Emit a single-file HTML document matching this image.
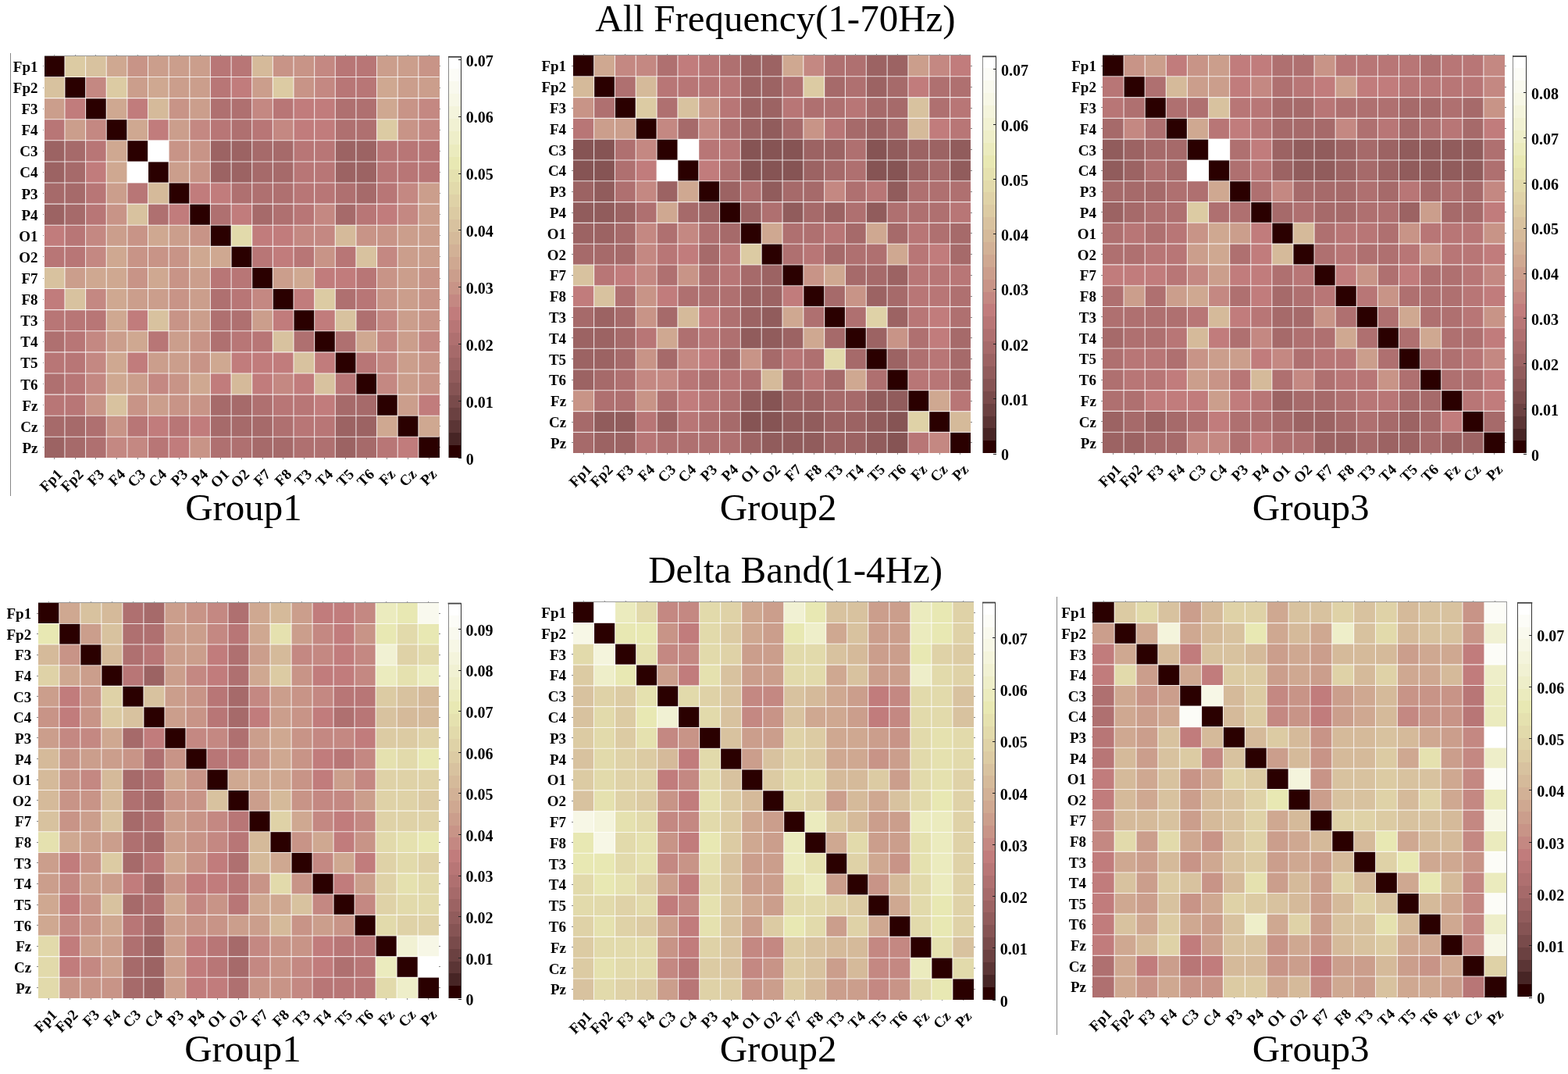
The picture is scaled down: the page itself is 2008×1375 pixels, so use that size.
<!DOCTYPE html>
<html><head><meta charset="utf-8"><title>Heatmaps</title>
<style>
html,body{margin:0;padding:0;background:#fff;}
body{width:2008px;height:1375px;position:relative;overflow:hidden;font-family:"Liberation Serif","Times New Roman",serif;color:#000;}
svg{position:absolute;left:0;top:0;}
.g{stroke:#fff;stroke-opacity:0.8;stroke-width:1.1;shape-rendering:auto;}
.t{stroke:#888;stroke-width:1;}
.b{stroke:#999;stroke-width:1;}
.cbl{stroke:#888;stroke-width:1;}
.cbr{stroke:#333;stroke-width:1;}
.cbt{stroke:#444;stroke-width:1.8;shape-rendering:auto;}
.ct{stroke:#222;stroke-width:1;}
.tl,.rl,.cl{position:absolute;font-weight:bold;font-size:19px;line-height:22px;white-space:nowrap;}
.tl{font-size:20px;}
.cl{transform-origin:100% 50%;transform:rotate(-45deg);}
.gl{position:absolute;width:300px;text-align:center;font-size:49px;line-height:52px;white-space:nowrap;}
.ti{position:absolute;width:1000px;text-align:center;font-size:49px;line-height:52px;white-space:nowrap;}
.vl{position:absolute;width:1px;background:#888;}
</style></head><body>
<svg width="2008" height="1375" viewBox="0 0 2008 1375" shape-rendering="crispEdges">
<rect x="56.8" y="72.1" width="26.19" height="26.46" fill="#2a0000"/>
<rect x="82.94" y="72.1" width="26.69" height="26.46" fill="#dccba3"/>
<rect x="109.58" y="72.1" width="26.69" height="26.46" fill="#d8c29f"/>
<rect x="136.23" y="72.1" width="26.69" height="26.46" fill="#cfa891"/>
<rect x="162.87" y="72.1" width="26.69" height="26.46" fill="#c89487"/>
<rect x="189.51" y="72.1" width="26.69" height="26.46" fill="#cb9e8c"/>
<rect x="216.15" y="72.1" width="26.69" height="26.46" fill="#cb9e8c"/>
<rect x="242.79" y="72.1" width="26.69" height="26.46" fill="#cb9e8c"/>
<rect x="269.44" y="72.1" width="26.69" height="26.46" fill="#b87676"/>
<rect x="296.08" y="72.1" width="26.69" height="26.46" fill="#b87676"/>
<rect x="322.72" y="72.1" width="26.69" height="26.46" fill="#d5ba9a"/>
<rect x="349.36" y="72.1" width="26.69" height="26.46" fill="#c89487"/>
<rect x="376.01" y="72.1" width="26.69" height="26.46" fill="#c89487"/>
<rect x="402.65" y="72.1" width="26.69" height="26.46" fill="#c48882"/>
<rect x="429.29" y="72.1" width="26.69" height="26.46" fill="#b87676"/>
<rect x="455.93" y="72.1" width="26.69" height="26.46" fill="#b87676"/>
<rect x="482.57" y="72.1" width="26.69" height="26.46" fill="#cb9e8c"/>
<rect x="509.22" y="72.1" width="26.69" height="26.46" fill="#cb9e8c"/>
<rect x="535.86" y="72.1" width="26.69" height="26.46" fill="#c89487"/>
<rect x="56.8" y="98.51" width="26.19" height="27.16" fill="#d8c29f"/>
<rect x="82.94" y="98.51" width="26.69" height="27.16" fill="#2a0000"/>
<rect x="109.58" y="98.51" width="26.69" height="27.16" fill="#c48882"/>
<rect x="136.23" y="98.51" width="26.69" height="27.16" fill="#dccba3"/>
<rect x="162.87" y="98.51" width="26.69" height="27.16" fill="#cb9e8c"/>
<rect x="189.51" y="98.51" width="26.69" height="27.16" fill="#cfa891"/>
<rect x="216.15" y="98.51" width="26.69" height="27.16" fill="#cb9e8c"/>
<rect x="242.79" y="98.51" width="26.69" height="27.16" fill="#cb9e8c"/>
<rect x="269.44" y="98.51" width="26.69" height="27.16" fill="#b87676"/>
<rect x="296.08" y="98.51" width="26.69" height="27.16" fill="#c17c7c"/>
<rect x="322.72" y="98.51" width="26.69" height="27.16" fill="#cb9e8c"/>
<rect x="349.36" y="98.51" width="26.69" height="27.16" fill="#dccba3"/>
<rect x="376.01" y="98.51" width="26.69" height="27.16" fill="#c89487"/>
<rect x="402.65" y="98.51" width="26.69" height="27.16" fill="#c48882"/>
<rect x="429.29" y="98.51" width="26.69" height="27.16" fill="#b87676"/>
<rect x="455.93" y="98.51" width="26.69" height="27.16" fill="#b87676"/>
<rect x="482.57" y="98.51" width="26.69" height="27.16" fill="#cfa891"/>
<rect x="509.22" y="98.51" width="26.69" height="27.16" fill="#cb9e8c"/>
<rect x="535.86" y="98.51" width="26.69" height="27.16" fill="#cb9e8c"/>
<rect x="56.8" y="125.61" width="26.19" height="27.16" fill="#cb9e8c"/>
<rect x="82.94" y="125.61" width="26.69" height="27.16" fill="#c17c7c"/>
<rect x="109.58" y="125.61" width="26.69" height="27.16" fill="#2a0000"/>
<rect x="136.23" y="125.61" width="26.69" height="27.16" fill="#cfa891"/>
<rect x="162.87" y="125.61" width="26.69" height="27.16" fill="#c17c7c"/>
<rect x="189.51" y="125.61" width="26.69" height="27.16" fill="#d5ba9a"/>
<rect x="216.15" y="125.61" width="26.69" height="27.16" fill="#c89487"/>
<rect x="242.79" y="125.61" width="26.69" height="27.16" fill="#cb9e8c"/>
<rect x="269.44" y="125.61" width="26.69" height="27.16" fill="#af7070"/>
<rect x="296.08" y="125.61" width="26.69" height="27.16" fill="#af7070"/>
<rect x="322.72" y="125.61" width="26.69" height="27.16" fill="#c48882"/>
<rect x="349.36" y="125.61" width="26.69" height="27.16" fill="#b87676"/>
<rect x="376.01" y="125.61" width="26.69" height="27.16" fill="#c17c7c"/>
<rect x="402.65" y="125.61" width="26.69" height="27.16" fill="#c17c7c"/>
<rect x="429.29" y="125.61" width="26.69" height="27.16" fill="#af7070"/>
<rect x="455.93" y="125.61" width="26.69" height="27.16" fill="#af7070"/>
<rect x="482.57" y="125.61" width="26.69" height="27.16" fill="#cfa891"/>
<rect x="509.22" y="125.61" width="26.69" height="27.16" fill="#c89487"/>
<rect x="535.86" y="125.61" width="26.69" height="27.16" fill="#c48882"/>
<rect x="56.8" y="152.72" width="26.19" height="27.16" fill="#b87676"/>
<rect x="82.94" y="152.72" width="26.69" height="27.16" fill="#cb9e8c"/>
<rect x="109.58" y="152.72" width="26.69" height="27.16" fill="#c48882"/>
<rect x="136.23" y="152.72" width="26.69" height="27.16" fill="#2a0000"/>
<rect x="162.87" y="152.72" width="26.69" height="27.16" fill="#cfa891"/>
<rect x="189.51" y="152.72" width="26.69" height="27.16" fill="#c17c7c"/>
<rect x="216.15" y="152.72" width="26.69" height="27.16" fill="#cb9e8c"/>
<rect x="242.79" y="152.72" width="26.69" height="27.16" fill="#c48882"/>
<rect x="269.44" y="152.72" width="26.69" height="27.16" fill="#b87676"/>
<rect x="296.08" y="152.72" width="26.69" height="27.16" fill="#af7070"/>
<rect x="322.72" y="152.72" width="26.69" height="27.16" fill="#b87676"/>
<rect x="349.36" y="152.72" width="26.69" height="27.16" fill="#c48882"/>
<rect x="376.01" y="152.72" width="26.69" height="27.16" fill="#c17c7c"/>
<rect x="402.65" y="152.72" width="26.69" height="27.16" fill="#c17c7c"/>
<rect x="429.29" y="152.72" width="26.69" height="27.16" fill="#af7070"/>
<rect x="455.93" y="152.72" width="26.69" height="27.16" fill="#af7070"/>
<rect x="482.57" y="152.72" width="26.69" height="27.16" fill="#dccba3"/>
<rect x="509.22" y="152.72" width="26.69" height="27.16" fill="#c89487"/>
<rect x="535.86" y="152.72" width="26.69" height="27.16" fill="#c48882"/>
<rect x="56.8" y="179.82" width="26.19" height="27.16" fill="#9c6363"/>
<rect x="82.94" y="179.82" width="26.69" height="27.16" fill="#a66a6a"/>
<rect x="109.58" y="179.82" width="26.69" height="27.16" fill="#b87676"/>
<rect x="136.23" y="179.82" width="26.69" height="27.16" fill="#cfa891"/>
<rect x="162.87" y="179.82" width="26.69" height="27.16" fill="#2a0000"/>
<rect x="189.51" y="179.82" width="26.69" height="27.16" fill="#ffffff"/>
<rect x="216.15" y="179.82" width="26.69" height="27.16" fill="#c89487"/>
<rect x="242.79" y="179.82" width="26.69" height="27.16" fill="#c89487"/>
<rect x="269.44" y="179.82" width="26.69" height="27.16" fill="#9c6363"/>
<rect x="296.08" y="179.82" width="26.69" height="27.16" fill="#9c6363"/>
<rect x="322.72" y="179.82" width="26.69" height="27.16" fill="#a66a6a"/>
<rect x="349.36" y="179.82" width="26.69" height="27.16" fill="#a66a6a"/>
<rect x="376.01" y="179.82" width="26.69" height="27.16" fill="#b87676"/>
<rect x="402.65" y="179.82" width="26.69" height="27.16" fill="#b87676"/>
<rect x="429.29" y="179.82" width="26.69" height="27.16" fill="#9c6363"/>
<rect x="455.93" y="179.82" width="26.69" height="27.16" fill="#9c6363"/>
<rect x="482.57" y="179.82" width="26.69" height="27.16" fill="#b87676"/>
<rect x="509.22" y="179.82" width="26.69" height="27.16" fill="#b87676"/>
<rect x="535.86" y="179.82" width="26.69" height="27.16" fill="#b87676"/>
<rect x="56.8" y="206.93" width="26.19" height="27.16" fill="#9c6363"/>
<rect x="82.94" y="206.93" width="26.69" height="27.16" fill="#a66a6a"/>
<rect x="109.58" y="206.93" width="26.69" height="27.16" fill="#c17c7c"/>
<rect x="136.23" y="206.93" width="26.69" height="27.16" fill="#cfa891"/>
<rect x="162.87" y="206.93" width="26.69" height="27.16" fill="#ffffff"/>
<rect x="189.51" y="206.93" width="26.69" height="27.16" fill="#2a0000"/>
<rect x="216.15" y="206.93" width="26.69" height="27.16" fill="#cb9e8c"/>
<rect x="242.79" y="206.93" width="26.69" height="27.16" fill="#c89487"/>
<rect x="269.44" y="206.93" width="26.69" height="27.16" fill="#9c6363"/>
<rect x="296.08" y="206.93" width="26.69" height="27.16" fill="#9c6363"/>
<rect x="322.72" y="206.93" width="26.69" height="27.16" fill="#a66a6a"/>
<rect x="349.36" y="206.93" width="26.69" height="27.16" fill="#a66a6a"/>
<rect x="376.01" y="206.93" width="26.69" height="27.16" fill="#b87676"/>
<rect x="402.65" y="206.93" width="26.69" height="27.16" fill="#b87676"/>
<rect x="429.29" y="206.93" width="26.69" height="27.16" fill="#9c6363"/>
<rect x="455.93" y="206.93" width="26.69" height="27.16" fill="#9c6363"/>
<rect x="482.57" y="206.93" width="26.69" height="27.16" fill="#b87676"/>
<rect x="509.22" y="206.93" width="26.69" height="27.16" fill="#b87676"/>
<rect x="535.86" y="206.93" width="26.69" height="27.16" fill="#b87676"/>
<rect x="56.8" y="234.03" width="26.19" height="27.16" fill="#a66a6a"/>
<rect x="82.94" y="234.03" width="26.69" height="27.16" fill="#a66a6a"/>
<rect x="109.58" y="234.03" width="26.69" height="27.16" fill="#b87676"/>
<rect x="136.23" y="234.03" width="26.69" height="27.16" fill="#cb9e8c"/>
<rect x="162.87" y="234.03" width="26.69" height="27.16" fill="#b87676"/>
<rect x="189.51" y="234.03" width="26.69" height="27.16" fill="#d5ba9a"/>
<rect x="216.15" y="234.03" width="26.69" height="27.16" fill="#2a0000"/>
<rect x="242.79" y="234.03" width="26.69" height="27.16" fill="#c17c7c"/>
<rect x="269.44" y="234.03" width="26.69" height="27.16" fill="#c17c7c"/>
<rect x="296.08" y="234.03" width="26.69" height="27.16" fill="#af7070"/>
<rect x="322.72" y="234.03" width="26.69" height="27.16" fill="#af7070"/>
<rect x="349.36" y="234.03" width="26.69" height="27.16" fill="#af7070"/>
<rect x="376.01" y="234.03" width="26.69" height="27.16" fill="#b87676"/>
<rect x="402.65" y="234.03" width="26.69" height="27.16" fill="#b87676"/>
<rect x="429.29" y="234.03" width="26.69" height="27.16" fill="#af7070"/>
<rect x="455.93" y="234.03" width="26.69" height="27.16" fill="#a66a6a"/>
<rect x="482.57" y="234.03" width="26.69" height="27.16" fill="#b87676"/>
<rect x="509.22" y="234.03" width="26.69" height="27.16" fill="#c48882"/>
<rect x="535.86" y="234.03" width="26.69" height="27.16" fill="#cb9e8c"/>
<rect x="56.8" y="261.14" width="26.19" height="27.16" fill="#9c6363"/>
<rect x="82.94" y="261.14" width="26.69" height="27.16" fill="#a66a6a"/>
<rect x="109.58" y="261.14" width="26.69" height="27.16" fill="#b87676"/>
<rect x="136.23" y="261.14" width="26.69" height="27.16" fill="#c89487"/>
<rect x="162.87" y="261.14" width="26.69" height="27.16" fill="#d8c29f"/>
<rect x="189.51" y="261.14" width="26.69" height="27.16" fill="#af7070"/>
<rect x="216.15" y="261.14" width="26.69" height="27.16" fill="#c17c7c"/>
<rect x="242.79" y="261.14" width="26.69" height="27.16" fill="#2a0000"/>
<rect x="269.44" y="261.14" width="26.69" height="27.16" fill="#af7070"/>
<rect x="296.08" y="261.14" width="26.69" height="27.16" fill="#c17c7c"/>
<rect x="322.72" y="261.14" width="26.69" height="27.16" fill="#a66a6a"/>
<rect x="349.36" y="261.14" width="26.69" height="27.16" fill="#af7070"/>
<rect x="376.01" y="261.14" width="26.69" height="27.16" fill="#b87676"/>
<rect x="402.65" y="261.14" width="26.69" height="27.16" fill="#c48882"/>
<rect x="429.29" y="261.14" width="26.69" height="27.16" fill="#a66a6a"/>
<rect x="455.93" y="261.14" width="26.69" height="27.16" fill="#b87676"/>
<rect x="482.57" y="261.14" width="26.69" height="27.16" fill="#c17c7c"/>
<rect x="509.22" y="261.14" width="26.69" height="27.16" fill="#c48882"/>
<rect x="535.86" y="261.14" width="26.69" height="27.16" fill="#cb9e8c"/>
<rect x="56.8" y="288.24" width="26.19" height="27.16" fill="#c17c7c"/>
<rect x="82.94" y="288.24" width="26.69" height="27.16" fill="#b87676"/>
<rect x="109.58" y="288.24" width="26.69" height="27.16" fill="#c48882"/>
<rect x="136.23" y="288.24" width="26.69" height="27.16" fill="#cb9e8c"/>
<rect x="162.87" y="288.24" width="26.69" height="27.16" fill="#c89487"/>
<rect x="189.51" y="288.24" width="26.69" height="27.16" fill="#cfa891"/>
<rect x="216.15" y="288.24" width="26.69" height="27.16" fill="#cb9e8c"/>
<rect x="242.79" y="288.24" width="26.69" height="27.16" fill="#c89487"/>
<rect x="269.44" y="288.24" width="26.69" height="27.16" fill="#2a0000"/>
<rect x="296.08" y="288.24" width="26.69" height="27.16" fill="#e2daab"/>
<rect x="322.72" y="288.24" width="26.69" height="27.16" fill="#c17c7c"/>
<rect x="349.36" y="288.24" width="26.69" height="27.16" fill="#c17c7c"/>
<rect x="376.01" y="288.24" width="26.69" height="27.16" fill="#c48882"/>
<rect x="402.65" y="288.24" width="26.69" height="27.16" fill="#c48882"/>
<rect x="429.29" y="288.24" width="26.69" height="27.16" fill="#d5ba9a"/>
<rect x="455.93" y="288.24" width="26.69" height="27.16" fill="#c89487"/>
<rect x="482.57" y="288.24" width="26.69" height="27.16" fill="#c89487"/>
<rect x="509.22" y="288.24" width="26.69" height="27.16" fill="#cb9e8c"/>
<rect x="535.86" y="288.24" width="26.69" height="27.16" fill="#cb9e8c"/>
<rect x="56.8" y="315.35" width="26.19" height="27.16" fill="#b87676"/>
<rect x="82.94" y="315.35" width="26.69" height="27.16" fill="#b87676"/>
<rect x="109.58" y="315.35" width="26.69" height="27.16" fill="#c48882"/>
<rect x="136.23" y="315.35" width="26.69" height="27.16" fill="#cfa891"/>
<rect x="162.87" y="315.35" width="26.69" height="27.16" fill="#c89487"/>
<rect x="189.51" y="315.35" width="26.69" height="27.16" fill="#c89487"/>
<rect x="216.15" y="315.35" width="26.69" height="27.16" fill="#c89487"/>
<rect x="242.79" y="315.35" width="26.69" height="27.16" fill="#cfa891"/>
<rect x="269.44" y="315.35" width="26.69" height="27.16" fill="#cfa891"/>
<rect x="296.08" y="315.35" width="26.69" height="27.16" fill="#2a0000"/>
<rect x="322.72" y="315.35" width="26.69" height="27.16" fill="#b87676"/>
<rect x="349.36" y="315.35" width="26.69" height="27.16" fill="#c17c7c"/>
<rect x="376.01" y="315.35" width="26.69" height="27.16" fill="#b87676"/>
<rect x="402.65" y="315.35" width="26.69" height="27.16" fill="#c89487"/>
<rect x="429.29" y="315.35" width="26.69" height="27.16" fill="#b87676"/>
<rect x="455.93" y="315.35" width="26.69" height="27.16" fill="#d8c29f"/>
<rect x="482.57" y="315.35" width="26.69" height="27.16" fill="#c48882"/>
<rect x="509.22" y="315.35" width="26.69" height="27.16" fill="#cb9e8c"/>
<rect x="535.86" y="315.35" width="26.69" height="27.16" fill="#cb9e8c"/>
<rect x="56.8" y="342.45" width="26.19" height="27.16" fill="#d8c29f"/>
<rect x="82.94" y="342.45" width="26.69" height="27.16" fill="#cb9e8c"/>
<rect x="109.58" y="342.45" width="26.69" height="27.16" fill="#cfa891"/>
<rect x="136.23" y="342.45" width="26.69" height="27.16" fill="#cfa891"/>
<rect x="162.87" y="342.45" width="26.69" height="27.16" fill="#c89487"/>
<rect x="189.51" y="342.45" width="26.69" height="27.16" fill="#cfa891"/>
<rect x="216.15" y="342.45" width="26.69" height="27.16" fill="#c89487"/>
<rect x="242.79" y="342.45" width="26.69" height="27.16" fill="#cb9e8c"/>
<rect x="269.44" y="342.45" width="26.69" height="27.16" fill="#b87676"/>
<rect x="296.08" y="342.45" width="26.69" height="27.16" fill="#b87676"/>
<rect x="322.72" y="342.45" width="26.69" height="27.16" fill="#2a0000"/>
<rect x="349.36" y="342.45" width="26.69" height="27.16" fill="#cb9e8c"/>
<rect x="376.01" y="342.45" width="26.69" height="27.16" fill="#cfa891"/>
<rect x="402.65" y="342.45" width="26.69" height="27.16" fill="#c17c7c"/>
<rect x="429.29" y="342.45" width="26.69" height="27.16" fill="#c17c7c"/>
<rect x="455.93" y="342.45" width="26.69" height="27.16" fill="#b87676"/>
<rect x="482.57" y="342.45" width="26.69" height="27.16" fill="#c89487"/>
<rect x="509.22" y="342.45" width="26.69" height="27.16" fill="#cb9e8c"/>
<rect x="535.86" y="342.45" width="26.69" height="27.16" fill="#c89487"/>
<rect x="56.8" y="369.56" width="26.19" height="27.16" fill="#c17c7c"/>
<rect x="82.94" y="369.56" width="26.69" height="27.16" fill="#d8c29f"/>
<rect x="109.58" y="369.56" width="26.69" height="27.16" fill="#c48882"/>
<rect x="136.23" y="369.56" width="26.69" height="27.16" fill="#cfa891"/>
<rect x="162.87" y="369.56" width="26.69" height="27.16" fill="#cb9e8c"/>
<rect x="189.51" y="369.56" width="26.69" height="27.16" fill="#cb9e8c"/>
<rect x="216.15" y="369.56" width="26.69" height="27.16" fill="#c89487"/>
<rect x="242.79" y="369.56" width="26.69" height="27.16" fill="#cb9e8c"/>
<rect x="269.44" y="369.56" width="26.69" height="27.16" fill="#af7070"/>
<rect x="296.08" y="369.56" width="26.69" height="27.16" fill="#b87676"/>
<rect x="322.72" y="369.56" width="26.69" height="27.16" fill="#c48882"/>
<rect x="349.36" y="369.56" width="26.69" height="27.16" fill="#2a0000"/>
<rect x="376.01" y="369.56" width="26.69" height="27.16" fill="#c17c7c"/>
<rect x="402.65" y="369.56" width="26.69" height="27.16" fill="#dccba3"/>
<rect x="429.29" y="369.56" width="26.69" height="27.16" fill="#af7070"/>
<rect x="455.93" y="369.56" width="26.69" height="27.16" fill="#b87676"/>
<rect x="482.57" y="369.56" width="26.69" height="27.16" fill="#c89487"/>
<rect x="509.22" y="369.56" width="26.69" height="27.16" fill="#cb9e8c"/>
<rect x="535.86" y="369.56" width="26.69" height="27.16" fill="#c89487"/>
<rect x="56.8" y="396.66" width="26.19" height="27.16" fill="#b87676"/>
<rect x="82.94" y="396.66" width="26.69" height="27.16" fill="#b87676"/>
<rect x="109.58" y="396.66" width="26.69" height="27.16" fill="#b87676"/>
<rect x="136.23" y="396.66" width="26.69" height="27.16" fill="#cfa891"/>
<rect x="162.87" y="396.66" width="26.69" height="27.16" fill="#c17c7c"/>
<rect x="189.51" y="396.66" width="26.69" height="27.16" fill="#d8c29f"/>
<rect x="216.15" y="396.66" width="26.69" height="27.16" fill="#c89487"/>
<rect x="242.79" y="396.66" width="26.69" height="27.16" fill="#cb9e8c"/>
<rect x="269.44" y="396.66" width="26.69" height="27.16" fill="#af7070"/>
<rect x="296.08" y="396.66" width="26.69" height="27.16" fill="#af7070"/>
<rect x="322.72" y="396.66" width="26.69" height="27.16" fill="#cb9e8c"/>
<rect x="349.36" y="396.66" width="26.69" height="27.16" fill="#c17c7c"/>
<rect x="376.01" y="396.66" width="26.69" height="27.16" fill="#2a0000"/>
<rect x="402.65" y="396.66" width="26.69" height="27.16" fill="#c17c7c"/>
<rect x="429.29" y="396.66" width="26.69" height="27.16" fill="#d8c29f"/>
<rect x="455.93" y="396.66" width="26.69" height="27.16" fill="#af7070"/>
<rect x="482.57" y="396.66" width="26.69" height="27.16" fill="#c48882"/>
<rect x="509.22" y="396.66" width="26.69" height="27.16" fill="#cb9e8c"/>
<rect x="535.86" y="396.66" width="26.69" height="27.16" fill="#c89487"/>
<rect x="56.8" y="423.77" width="26.19" height="27.16" fill="#af7070"/>
<rect x="82.94" y="423.77" width="26.69" height="27.16" fill="#b87676"/>
<rect x="109.58" y="423.77" width="26.69" height="27.16" fill="#c48882"/>
<rect x="136.23" y="423.77" width="26.69" height="27.16" fill="#cb9e8c"/>
<rect x="162.87" y="423.77" width="26.69" height="27.16" fill="#cfa891"/>
<rect x="189.51" y="423.77" width="26.69" height="27.16" fill="#b87676"/>
<rect x="216.15" y="423.77" width="26.69" height="27.16" fill="#cb9e8c"/>
<rect x="242.79" y="423.77" width="26.69" height="27.16" fill="#c89487"/>
<rect x="269.44" y="423.77" width="26.69" height="27.16" fill="#af7070"/>
<rect x="296.08" y="423.77" width="26.69" height="27.16" fill="#b87676"/>
<rect x="322.72" y="423.77" width="26.69" height="27.16" fill="#b87676"/>
<rect x="349.36" y="423.77" width="26.69" height="27.16" fill="#d8c29f"/>
<rect x="376.01" y="423.77" width="26.69" height="27.16" fill="#af7070"/>
<rect x="402.65" y="423.77" width="26.69" height="27.16" fill="#2a0000"/>
<rect x="429.29" y="423.77" width="26.69" height="27.16" fill="#af7070"/>
<rect x="455.93" y="423.77" width="26.69" height="27.16" fill="#cfa891"/>
<rect x="482.57" y="423.77" width="26.69" height="27.16" fill="#c48882"/>
<rect x="509.22" y="423.77" width="26.69" height="27.16" fill="#cb9e8c"/>
<rect x="535.86" y="423.77" width="26.69" height="27.16" fill="#c48882"/>
<rect x="56.8" y="450.87" width="26.19" height="27.16" fill="#b87676"/>
<rect x="82.94" y="450.87" width="26.69" height="27.16" fill="#b87676"/>
<rect x="109.58" y="450.87" width="26.69" height="27.16" fill="#c48882"/>
<rect x="136.23" y="450.87" width="26.69" height="27.16" fill="#cfa891"/>
<rect x="162.87" y="450.87" width="26.69" height="27.16" fill="#c17c7c"/>
<rect x="189.51" y="450.87" width="26.69" height="27.16" fill="#cb9e8c"/>
<rect x="216.15" y="450.87" width="26.69" height="27.16" fill="#cb9e8c"/>
<rect x="242.79" y="450.87" width="26.69" height="27.16" fill="#c89487"/>
<rect x="269.44" y="450.87" width="26.69" height="27.16" fill="#cfa891"/>
<rect x="296.08" y="450.87" width="26.69" height="27.16" fill="#c17c7c"/>
<rect x="322.72" y="450.87" width="26.69" height="27.16" fill="#c17c7c"/>
<rect x="349.36" y="450.87" width="26.69" height="27.16" fill="#c17c7c"/>
<rect x="376.01" y="450.87" width="26.69" height="27.16" fill="#d8c29f"/>
<rect x="402.65" y="450.87" width="26.69" height="27.16" fill="#c17c7c"/>
<rect x="429.29" y="450.87" width="26.69" height="27.16" fill="#2a0000"/>
<rect x="455.93" y="450.87" width="26.69" height="27.16" fill="#b87676"/>
<rect x="482.57" y="450.87" width="26.69" height="27.16" fill="#c48882"/>
<rect x="509.22" y="450.87" width="26.69" height="27.16" fill="#cb9e8c"/>
<rect x="535.86" y="450.87" width="26.69" height="27.16" fill="#c89487"/>
<rect x="56.8" y="477.98" width="26.19" height="27.16" fill="#af7070"/>
<rect x="82.94" y="477.98" width="26.69" height="27.16" fill="#b87676"/>
<rect x="109.58" y="477.98" width="26.69" height="27.16" fill="#c48882"/>
<rect x="136.23" y="477.98" width="26.69" height="27.16" fill="#cfa891"/>
<rect x="162.87" y="477.98" width="26.69" height="27.16" fill="#cb9e8c"/>
<rect x="189.51" y="477.98" width="26.69" height="27.16" fill="#c48882"/>
<rect x="216.15" y="477.98" width="26.69" height="27.16" fill="#c89487"/>
<rect x="242.79" y="477.98" width="26.69" height="27.16" fill="#cfa891"/>
<rect x="269.44" y="477.98" width="26.69" height="27.16" fill="#c17c7c"/>
<rect x="296.08" y="477.98" width="26.69" height="27.16" fill="#d5ba9a"/>
<rect x="322.72" y="477.98" width="26.69" height="27.16" fill="#c17c7c"/>
<rect x="349.36" y="477.98" width="26.69" height="27.16" fill="#c48882"/>
<rect x="376.01" y="477.98" width="26.69" height="27.16" fill="#c17c7c"/>
<rect x="402.65" y="477.98" width="26.69" height="27.16" fill="#d8c29f"/>
<rect x="429.29" y="477.98" width="26.69" height="27.16" fill="#b87676"/>
<rect x="455.93" y="477.98" width="26.69" height="27.16" fill="#2a0000"/>
<rect x="482.57" y="477.98" width="26.69" height="27.16" fill="#c48882"/>
<rect x="509.22" y="477.98" width="26.69" height="27.16" fill="#cb9e8c"/>
<rect x="535.86" y="477.98" width="26.69" height="27.16" fill="#c89487"/>
<rect x="56.8" y="505.08" width="26.19" height="27.16" fill="#b87676"/>
<rect x="82.94" y="505.08" width="26.69" height="27.16" fill="#b87676"/>
<rect x="109.58" y="505.08" width="26.69" height="27.16" fill="#c89487"/>
<rect x="136.23" y="505.08" width="26.69" height="27.16" fill="#d8c29f"/>
<rect x="162.87" y="505.08" width="26.69" height="27.16" fill="#c89487"/>
<rect x="189.51" y="505.08" width="26.69" height="27.16" fill="#cb9e8c"/>
<rect x="216.15" y="505.08" width="26.69" height="27.16" fill="#c89487"/>
<rect x="242.79" y="505.08" width="26.69" height="27.16" fill="#c89487"/>
<rect x="269.44" y="505.08" width="26.69" height="27.16" fill="#a66a6a"/>
<rect x="296.08" y="505.08" width="26.69" height="27.16" fill="#a66a6a"/>
<rect x="322.72" y="505.08" width="26.69" height="27.16" fill="#af7070"/>
<rect x="349.36" y="505.08" width="26.69" height="27.16" fill="#b87676"/>
<rect x="376.01" y="505.08" width="26.69" height="27.16" fill="#b87676"/>
<rect x="402.65" y="505.08" width="26.69" height="27.16" fill="#c17c7c"/>
<rect x="429.29" y="505.08" width="26.69" height="27.16" fill="#a66a6a"/>
<rect x="455.93" y="505.08" width="26.69" height="27.16" fill="#a66a6a"/>
<rect x="482.57" y="505.08" width="26.69" height="27.16" fill="#2a0000"/>
<rect x="509.22" y="505.08" width="26.69" height="27.16" fill="#cb9e8c"/>
<rect x="535.86" y="505.08" width="26.69" height="27.16" fill="#c17c7c"/>
<rect x="56.8" y="532.19" width="26.19" height="27.16" fill="#a66a6a"/>
<rect x="82.94" y="532.19" width="26.69" height="27.16" fill="#a66a6a"/>
<rect x="109.58" y="532.19" width="26.69" height="27.16" fill="#af7070"/>
<rect x="136.23" y="532.19" width="26.69" height="27.16" fill="#c89487"/>
<rect x="162.87" y="532.19" width="26.69" height="27.16" fill="#b87676"/>
<rect x="189.51" y="532.19" width="26.69" height="27.16" fill="#c17c7c"/>
<rect x="216.15" y="532.19" width="26.69" height="27.16" fill="#b87676"/>
<rect x="242.79" y="532.19" width="26.69" height="27.16" fill="#c17c7c"/>
<rect x="269.44" y="532.19" width="26.69" height="27.16" fill="#a66a6a"/>
<rect x="296.08" y="532.19" width="26.69" height="27.16" fill="#a66a6a"/>
<rect x="322.72" y="532.19" width="26.69" height="27.16" fill="#a66a6a"/>
<rect x="349.36" y="532.19" width="26.69" height="27.16" fill="#af7070"/>
<rect x="376.01" y="532.19" width="26.69" height="27.16" fill="#b87676"/>
<rect x="402.65" y="532.19" width="26.69" height="27.16" fill="#b87676"/>
<rect x="429.29" y="532.19" width="26.69" height="27.16" fill="#9c6363"/>
<rect x="455.93" y="532.19" width="26.69" height="27.16" fill="#9c6363"/>
<rect x="482.57" y="532.19" width="26.69" height="27.16" fill="#cfa891"/>
<rect x="509.22" y="532.19" width="26.69" height="27.16" fill="#2a0000"/>
<rect x="535.86" y="532.19" width="26.69" height="27.16" fill="#cfa891"/>
<rect x="56.8" y="559.29" width="26.19" height="27.16" fill="#9c6363"/>
<rect x="82.94" y="559.29" width="26.69" height="27.16" fill="#a66a6a"/>
<rect x="109.58" y="559.29" width="26.69" height="27.16" fill="#af7070"/>
<rect x="136.23" y="559.29" width="26.69" height="27.16" fill="#c48882"/>
<rect x="162.87" y="559.29" width="26.69" height="27.16" fill="#c48882"/>
<rect x="189.51" y="559.29" width="26.69" height="27.16" fill="#b87676"/>
<rect x="216.15" y="559.29" width="26.69" height="27.16" fill="#c17c7c"/>
<rect x="242.79" y="559.29" width="26.69" height="27.16" fill="#c89487"/>
<rect x="269.44" y="559.29" width="26.69" height="27.16" fill="#af7070"/>
<rect x="296.08" y="559.29" width="26.69" height="27.16" fill="#af7070"/>
<rect x="322.72" y="559.29" width="26.69" height="27.16" fill="#a66a6a"/>
<rect x="349.36" y="559.29" width="26.69" height="27.16" fill="#a66a6a"/>
<rect x="376.01" y="559.29" width="26.69" height="27.16" fill="#af7070"/>
<rect x="402.65" y="559.29" width="26.69" height="27.16" fill="#af7070"/>
<rect x="429.29" y="559.29" width="26.69" height="27.16" fill="#9c6363"/>
<rect x="455.93" y="559.29" width="26.69" height="27.16" fill="#a66a6a"/>
<rect x="482.57" y="559.29" width="26.69" height="27.16" fill="#b87676"/>
<rect x="509.22" y="559.29" width="26.69" height="27.16" fill="#c17c7c"/>
<rect x="535.86" y="559.29" width="26.69" height="27.16" fill="#2a0000"/>
<line x1="82.94" y1="71.4" x2="82.94" y2="586.4" class="g"/>
<line x1="56.3" y1="98.51" x2="562.5" y2="98.51" class="g"/>
<line x1="109.58" y1="71.4" x2="109.58" y2="586.4" class="g"/>
<line x1="56.3" y1="125.61" x2="562.5" y2="125.61" class="g"/>
<line x1="136.23" y1="71.4" x2="136.23" y2="586.4" class="g"/>
<line x1="56.3" y1="152.72" x2="562.5" y2="152.72" class="g"/>
<line x1="162.87" y1="71.4" x2="162.87" y2="586.4" class="g"/>
<line x1="56.3" y1="179.82" x2="562.5" y2="179.82" class="g"/>
<line x1="189.51" y1="71.4" x2="189.51" y2="586.4" class="g"/>
<line x1="56.3" y1="206.93" x2="562.5" y2="206.93" class="g"/>
<line x1="216.15" y1="71.4" x2="216.15" y2="586.4" class="g"/>
<line x1="56.3" y1="234.03" x2="562.5" y2="234.03" class="g"/>
<line x1="242.79" y1="71.4" x2="242.79" y2="586.4" class="g"/>
<line x1="56.3" y1="261.14" x2="562.5" y2="261.14" class="g"/>
<line x1="269.44" y1="71.4" x2="269.44" y2="586.4" class="g"/>
<line x1="56.3" y1="288.24" x2="562.5" y2="288.24" class="g"/>
<line x1="296.08" y1="71.4" x2="296.08" y2="586.4" class="g"/>
<line x1="56.3" y1="315.35" x2="562.5" y2="315.35" class="g"/>
<line x1="322.72" y1="71.4" x2="322.72" y2="586.4" class="g"/>
<line x1="56.3" y1="342.45" x2="562.5" y2="342.45" class="g"/>
<line x1="349.36" y1="71.4" x2="349.36" y2="586.4" class="g"/>
<line x1="56.3" y1="369.56" x2="562.5" y2="369.56" class="g"/>
<line x1="376.01" y1="71.4" x2="376.01" y2="586.4" class="g"/>
<line x1="56.3" y1="396.66" x2="562.5" y2="396.66" class="g"/>
<line x1="402.65" y1="71.4" x2="402.65" y2="586.4" class="g"/>
<line x1="56.3" y1="423.77" x2="562.5" y2="423.77" class="g"/>
<line x1="429.29" y1="71.4" x2="429.29" y2="586.4" class="g"/>
<line x1="56.3" y1="450.87" x2="562.5" y2="450.87" class="g"/>
<line x1="455.93" y1="71.4" x2="455.93" y2="586.4" class="g"/>
<line x1="56.3" y1="477.98" x2="562.5" y2="477.98" class="g"/>
<line x1="482.57" y1="71.4" x2="482.57" y2="586.4" class="g"/>
<line x1="56.3" y1="505.08" x2="562.5" y2="505.08" class="g"/>
<line x1="509.22" y1="71.4" x2="509.22" y2="586.4" class="g"/>
<line x1="56.3" y1="532.19" x2="562.5" y2="532.19" class="g"/>
<line x1="535.86" y1="71.4" x2="535.86" y2="586.4" class="g"/>
<line x1="56.3" y1="559.29" x2="562.5" y2="559.29" class="g"/>
<line x1="69.62" y1="69.8" x2="69.62" y2="71.4" class="t"/>
<line x1="69.62" y1="586.4" x2="69.62" y2="588" class="t"/>
<line x1="54.7" y1="84.95" x2="56.3" y2="84.95" class="t"/>
<line x1="562.5" y1="84.95" x2="564.1" y2="84.95" class="t"/>
<line x1="96.26" y1="69.8" x2="96.26" y2="71.4" class="t"/>
<line x1="96.26" y1="586.4" x2="96.26" y2="588" class="t"/>
<line x1="54.7" y1="112.06" x2="56.3" y2="112.06" class="t"/>
<line x1="562.5" y1="112.06" x2="564.1" y2="112.06" class="t"/>
<line x1="122.91" y1="69.8" x2="122.91" y2="71.4" class="t"/>
<line x1="122.91" y1="586.4" x2="122.91" y2="588" class="t"/>
<line x1="54.7" y1="139.16" x2="56.3" y2="139.16" class="t"/>
<line x1="562.5" y1="139.16" x2="564.1" y2="139.16" class="t"/>
<line x1="149.55" y1="69.8" x2="149.55" y2="71.4" class="t"/>
<line x1="149.55" y1="586.4" x2="149.55" y2="588" class="t"/>
<line x1="54.7" y1="166.27" x2="56.3" y2="166.27" class="t"/>
<line x1="562.5" y1="166.27" x2="564.1" y2="166.27" class="t"/>
<line x1="176.19" y1="69.8" x2="176.19" y2="71.4" class="t"/>
<line x1="176.19" y1="586.4" x2="176.19" y2="588" class="t"/>
<line x1="54.7" y1="193.37" x2="56.3" y2="193.37" class="t"/>
<line x1="562.5" y1="193.37" x2="564.1" y2="193.37" class="t"/>
<line x1="202.83" y1="69.8" x2="202.83" y2="71.4" class="t"/>
<line x1="202.83" y1="586.4" x2="202.83" y2="588" class="t"/>
<line x1="54.7" y1="220.48" x2="56.3" y2="220.48" class="t"/>
<line x1="562.5" y1="220.48" x2="564.1" y2="220.48" class="t"/>
<line x1="229.47" y1="69.8" x2="229.47" y2="71.4" class="t"/>
<line x1="229.47" y1="586.4" x2="229.47" y2="588" class="t"/>
<line x1="54.7" y1="247.58" x2="56.3" y2="247.58" class="t"/>
<line x1="562.5" y1="247.58" x2="564.1" y2="247.58" class="t"/>
<line x1="256.12" y1="69.8" x2="256.12" y2="71.4" class="t"/>
<line x1="256.12" y1="586.4" x2="256.12" y2="588" class="t"/>
<line x1="54.7" y1="274.69" x2="56.3" y2="274.69" class="t"/>
<line x1="562.5" y1="274.69" x2="564.1" y2="274.69" class="t"/>
<line x1="282.76" y1="69.8" x2="282.76" y2="71.4" class="t"/>
<line x1="282.76" y1="586.4" x2="282.76" y2="588" class="t"/>
<line x1="54.7" y1="301.79" x2="56.3" y2="301.79" class="t"/>
<line x1="562.5" y1="301.79" x2="564.1" y2="301.79" class="t"/>
<line x1="309.4" y1="69.8" x2="309.4" y2="71.4" class="t"/>
<line x1="309.4" y1="586.4" x2="309.4" y2="588" class="t"/>
<line x1="54.7" y1="328.9" x2="56.3" y2="328.9" class="t"/>
<line x1="562.5" y1="328.9" x2="564.1" y2="328.9" class="t"/>
<line x1="336.04" y1="69.8" x2="336.04" y2="71.4" class="t"/>
<line x1="336.04" y1="586.4" x2="336.04" y2="588" class="t"/>
<line x1="54.7" y1="356.01" x2="56.3" y2="356.01" class="t"/>
<line x1="562.5" y1="356.01" x2="564.1" y2="356.01" class="t"/>
<line x1="362.68" y1="69.8" x2="362.68" y2="71.4" class="t"/>
<line x1="362.68" y1="586.4" x2="362.68" y2="588" class="t"/>
<line x1="54.7" y1="383.11" x2="56.3" y2="383.11" class="t"/>
<line x1="562.5" y1="383.11" x2="564.1" y2="383.11" class="t"/>
<line x1="389.33" y1="69.8" x2="389.33" y2="71.4" class="t"/>
<line x1="389.33" y1="586.4" x2="389.33" y2="588" class="t"/>
<line x1="54.7" y1="410.22" x2="56.3" y2="410.22" class="t"/>
<line x1="562.5" y1="410.22" x2="564.1" y2="410.22" class="t"/>
<line x1="415.97" y1="69.8" x2="415.97" y2="71.4" class="t"/>
<line x1="415.97" y1="586.4" x2="415.97" y2="588" class="t"/>
<line x1="54.7" y1="437.32" x2="56.3" y2="437.32" class="t"/>
<line x1="562.5" y1="437.32" x2="564.1" y2="437.32" class="t"/>
<line x1="442.61" y1="69.8" x2="442.61" y2="71.4" class="t"/>
<line x1="442.61" y1="586.4" x2="442.61" y2="588" class="t"/>
<line x1="54.7" y1="464.43" x2="56.3" y2="464.43" class="t"/>
<line x1="562.5" y1="464.43" x2="564.1" y2="464.43" class="t"/>
<line x1="469.25" y1="69.8" x2="469.25" y2="71.4" class="t"/>
<line x1="469.25" y1="586.4" x2="469.25" y2="588" class="t"/>
<line x1="54.7" y1="491.53" x2="56.3" y2="491.53" class="t"/>
<line x1="562.5" y1="491.53" x2="564.1" y2="491.53" class="t"/>
<line x1="495.89" y1="69.8" x2="495.89" y2="71.4" class="t"/>
<line x1="495.89" y1="586.4" x2="495.89" y2="588" class="t"/>
<line x1="54.7" y1="518.64" x2="56.3" y2="518.64" class="t"/>
<line x1="562.5" y1="518.64" x2="564.1" y2="518.64" class="t"/>
<line x1="522.54" y1="69.8" x2="522.54" y2="71.4" class="t"/>
<line x1="522.54" y1="586.4" x2="522.54" y2="588" class="t"/>
<line x1="54.7" y1="545.74" x2="56.3" y2="545.74" class="t"/>
<line x1="562.5" y1="545.74" x2="564.1" y2="545.74" class="t"/>
<line x1="549.18" y1="69.8" x2="549.18" y2="71.4" class="t"/>
<line x1="549.18" y1="586.4" x2="549.18" y2="588" class="t"/>
<line x1="54.7" y1="572.85" x2="56.3" y2="572.85" class="t"/>
<line x1="562.5" y1="572.85" x2="564.1" y2="572.85" class="t"/>
<line x1="56.8" y1="71.6" x2="562.5" y2="71.6" class="b"/>
<rect x="574" y="570.13" width="16.8" height="16.12" fill="#2a0000"/>
<rect x="574" y="554.06" width="16.8" height="16.12" fill="#472525"/>
<rect x="574" y="537.99" width="16.8" height="16.12" fill="#5b3535"/>
<rect x="574" y="521.93" width="16.8" height="16.12" fill="#6b4141"/>
<rect x="574" y="505.86" width="16.8" height="16.12" fill="#794b4b"/>
<rect x="574" y="489.79" width="16.8" height="16.12" fill="#865454"/>
<rect x="574" y="473.72" width="16.8" height="16.12" fill="#915c5c"/>
<rect x="574" y="457.65" width="16.8" height="16.12" fill="#9c6363"/>
<rect x="574" y="441.58" width="16.8" height="16.12" fill="#a66a6a"/>
<rect x="574" y="425.51" width="16.8" height="16.12" fill="#af7070"/>
<rect x="574" y="409.44" width="16.8" height="16.12" fill="#b87676"/>
<rect x="574" y="393.38" width="16.8" height="16.12" fill="#c17c7c"/>
<rect x="574" y="377.31" width="16.8" height="16.12" fill="#c48882"/>
<rect x="574" y="361.24" width="16.8" height="16.12" fill="#c89487"/>
<rect x="574" y="345.17" width="16.8" height="16.12" fill="#cb9e8c"/>
<rect x="574" y="329.1" width="16.8" height="16.12" fill="#cfa891"/>
<rect x="574" y="313.03" width="16.8" height="16.12" fill="#d2b196"/>
<rect x="574" y="296.96" width="16.8" height="16.12" fill="#d5ba9a"/>
<rect x="574" y="280.89" width="16.8" height="16.12" fill="#d8c29f"/>
<rect x="574" y="264.83" width="16.8" height="16.12" fill="#dccba3"/>
<rect x="574" y="248.76" width="16.8" height="16.12" fill="#dfd2a7"/>
<rect x="574" y="232.69" width="16.8" height="16.12" fill="#e2daab"/>
<rect x="574" y="216.62" width="16.8" height="16.12" fill="#e5e1af"/>
<rect x="574" y="200.55" width="16.8" height="16.12" fill="#e8e8b3"/>
<rect x="574" y="184.48" width="16.8" height="16.12" fill="#ebebbe"/>
<rect x="574" y="168.41" width="16.8" height="16.12" fill="#eeeec9"/>
<rect x="574" y="152.34" width="16.8" height="16.12" fill="#f1f1d3"/>
<rect x="574" y="136.27" width="16.8" height="16.12" fill="#f4f4dc"/>
<rect x="574" y="120.21" width="16.8" height="16.12" fill="#f7f7e6"/>
<rect x="574" y="104.14" width="16.8" height="16.12" fill="#f9f9ee"/>
<rect x="574" y="88.07" width="16.8" height="16.12" fill="#fcfcf7"/>
<rect x="574" y="72" width="16.8" height="16.12" fill="#ffffff"/>
<line x1="574.5" y1="72" x2="574.5" y2="586.2" class="cbl"/>
<line x1="590.3" y1="72" x2="590.3" y2="586.2" class="cbr"/>
<line x1="574" y1="72.8" x2="590.8" y2="72.8" class="cbt"/>
<line x1="586.8" y1="586.4" x2="590.8" y2="586.4" class="ct"/>
<line x1="586.8" y1="513.53" x2="590.8" y2="513.53" class="ct"/>
<line x1="586.8" y1="440.66" x2="590.8" y2="440.66" class="ct"/>
<line x1="586.8" y1="367.79" x2="590.8" y2="367.79" class="ct"/>
<line x1="586.8" y1="294.92" x2="590.8" y2="294.92" class="ct"/>
<line x1="586.8" y1="222.05" x2="590.8" y2="222.05" class="ct"/>
<line x1="586.8" y1="149.18" x2="590.8" y2="149.18" class="ct"/>
<line x1="586.8" y1="76.31" x2="590.8" y2="76.31" class="ct"/>
<rect x="733.8" y="71" width="26.87" height="26.85" fill="#2a0000"/>
<rect x="760.62" y="71" width="26.87" height="26.85" fill="#cfa891"/>
<rect x="787.44" y="71" width="26.87" height="26.85" fill="#c48882"/>
<rect x="814.26" y="71" width="26.87" height="26.85" fill="#c48882"/>
<rect x="841.08" y="71" width="26.87" height="26.85" fill="#af7070"/>
<rect x="867.91" y="71" width="26.87" height="26.85" fill="#c17c7c"/>
<rect x="894.73" y="71" width="26.87" height="26.85" fill="#b87676"/>
<rect x="921.55" y="71" width="26.87" height="26.85" fill="#af7070"/>
<rect x="948.37" y="71" width="26.87" height="26.85" fill="#9c6363"/>
<rect x="975.19" y="71" width="26.87" height="26.85" fill="#9c6363"/>
<rect x="1002.01" y="71" width="26.87" height="26.85" fill="#cfa891"/>
<rect x="1028.83" y="71" width="26.87" height="26.85" fill="#c48882"/>
<rect x="1055.65" y="71" width="26.87" height="26.85" fill="#af7070"/>
<rect x="1082.47" y="71" width="26.87" height="26.85" fill="#af7070"/>
<rect x="1109.29" y="71" width="26.87" height="26.85" fill="#9c6363"/>
<rect x="1136.12" y="71" width="26.87" height="26.85" fill="#9c6363"/>
<rect x="1162.94" y="71" width="26.87" height="26.85" fill="#cb9e8c"/>
<rect x="1189.76" y="71" width="26.87" height="26.85" fill="#c48882"/>
<rect x="1216.58" y="71" width="26.87" height="26.85" fill="#c17c7c"/>
<rect x="733.8" y="97.8" width="26.87" height="26.85" fill="#d5ba9a"/>
<rect x="760.62" y="97.8" width="26.87" height="26.85" fill="#2a0000"/>
<rect x="787.44" y="97.8" width="26.87" height="26.85" fill="#af7070"/>
<rect x="814.26" y="97.8" width="26.87" height="26.85" fill="#d5ba9a"/>
<rect x="841.08" y="97.8" width="26.87" height="26.85" fill="#b87676"/>
<rect x="867.91" y="97.8" width="26.87" height="26.85" fill="#b87676"/>
<rect x="894.73" y="97.8" width="26.87" height="26.85" fill="#b87676"/>
<rect x="921.55" y="97.8" width="26.87" height="26.85" fill="#b87676"/>
<rect x="948.37" y="97.8" width="26.87" height="26.85" fill="#9c6363"/>
<rect x="975.19" y="97.8" width="26.87" height="26.85" fill="#9c6363"/>
<rect x="1002.01" y="97.8" width="26.87" height="26.85" fill="#af7070"/>
<rect x="1028.83" y="97.8" width="26.87" height="26.85" fill="#dccba3"/>
<rect x="1055.65" y="97.8" width="26.87" height="26.85" fill="#a66a6a"/>
<rect x="1082.47" y="97.8" width="26.87" height="26.85" fill="#af7070"/>
<rect x="1109.29" y="97.8" width="26.87" height="26.85" fill="#9c6363"/>
<rect x="1136.12" y="97.8" width="26.87" height="26.85" fill="#a66a6a"/>
<rect x="1162.94" y="97.8" width="26.87" height="26.85" fill="#c17c7c"/>
<rect x="1189.76" y="97.8" width="26.87" height="26.85" fill="#af7070"/>
<rect x="1216.58" y="97.8" width="26.87" height="26.85" fill="#af7070"/>
<rect x="733.8" y="124.6" width="26.87" height="26.85" fill="#c89487"/>
<rect x="760.62" y="124.6" width="26.87" height="26.85" fill="#af7070"/>
<rect x="787.44" y="124.6" width="26.87" height="26.85" fill="#2a0000"/>
<rect x="814.26" y="124.6" width="26.87" height="26.85" fill="#dccba3"/>
<rect x="841.08" y="124.6" width="26.87" height="26.85" fill="#af7070"/>
<rect x="867.91" y="124.6" width="26.87" height="26.85" fill="#d8c29f"/>
<rect x="894.73" y="124.6" width="26.87" height="26.85" fill="#c89487"/>
<rect x="921.55" y="124.6" width="26.87" height="26.85" fill="#b87676"/>
<rect x="948.37" y="124.6" width="26.87" height="26.85" fill="#9c6363"/>
<rect x="975.19" y="124.6" width="26.87" height="26.85" fill="#9c6363"/>
<rect x="1002.01" y="124.6" width="26.87" height="26.85" fill="#b87676"/>
<rect x="1028.83" y="124.6" width="26.87" height="26.85" fill="#af7070"/>
<rect x="1055.65" y="124.6" width="26.87" height="26.85" fill="#af7070"/>
<rect x="1082.47" y="124.6" width="26.87" height="26.85" fill="#b87676"/>
<rect x="1109.29" y="124.6" width="26.87" height="26.85" fill="#a66a6a"/>
<rect x="1136.12" y="124.6" width="26.87" height="26.85" fill="#a66a6a"/>
<rect x="1162.94" y="124.6" width="26.87" height="26.85" fill="#d8c29f"/>
<rect x="1189.76" y="124.6" width="26.87" height="26.85" fill="#af7070"/>
<rect x="1216.58" y="124.6" width="26.87" height="26.85" fill="#b87676"/>
<rect x="733.8" y="151.4" width="26.87" height="26.85" fill="#b87676"/>
<rect x="760.62" y="151.4" width="26.87" height="26.85" fill="#cb9e8c"/>
<rect x="787.44" y="151.4" width="26.87" height="26.85" fill="#cb9e8c"/>
<rect x="814.26" y="151.4" width="26.87" height="26.85" fill="#2a0000"/>
<rect x="841.08" y="151.4" width="26.87" height="26.85" fill="#c48882"/>
<rect x="867.91" y="151.4" width="26.87" height="26.85" fill="#a66a6a"/>
<rect x="894.73" y="151.4" width="26.87" height="26.85" fill="#c48882"/>
<rect x="921.55" y="151.4" width="26.87" height="26.85" fill="#af7070"/>
<rect x="948.37" y="151.4" width="26.87" height="26.85" fill="#9c6363"/>
<rect x="975.19" y="151.4" width="26.87" height="26.85" fill="#915c5c"/>
<rect x="1002.01" y="151.4" width="26.87" height="26.85" fill="#a66a6a"/>
<rect x="1028.83" y="151.4" width="26.87" height="26.85" fill="#c89487"/>
<rect x="1055.65" y="151.4" width="26.87" height="26.85" fill="#b87676"/>
<rect x="1082.47" y="151.4" width="26.87" height="26.85" fill="#a66a6a"/>
<rect x="1109.29" y="151.4" width="26.87" height="26.85" fill="#9c6363"/>
<rect x="1136.12" y="151.4" width="26.87" height="26.85" fill="#a66a6a"/>
<rect x="1162.94" y="151.4" width="26.87" height="26.85" fill="#d5ba9a"/>
<rect x="1189.76" y="151.4" width="26.87" height="26.85" fill="#c17c7c"/>
<rect x="1216.58" y="151.4" width="26.87" height="26.85" fill="#b87676"/>
<rect x="733.8" y="178.2" width="26.87" height="26.85" fill="#865454"/>
<rect x="760.62" y="178.2" width="26.87" height="26.85" fill="#865454"/>
<rect x="787.44" y="178.2" width="26.87" height="26.85" fill="#af7070"/>
<rect x="814.26" y="178.2" width="26.87" height="26.85" fill="#c48882"/>
<rect x="841.08" y="178.2" width="26.87" height="26.85" fill="#2a0000"/>
<rect x="867.91" y="178.2" width="26.87" height="26.85" fill="#ffffff"/>
<rect x="894.73" y="178.2" width="26.87" height="26.85" fill="#b87676"/>
<rect x="921.55" y="178.2" width="26.87" height="26.85" fill="#b87676"/>
<rect x="948.37" y="178.2" width="26.87" height="26.85" fill="#865454"/>
<rect x="975.19" y="178.2" width="26.87" height="26.85" fill="#865454"/>
<rect x="1002.01" y="178.2" width="26.87" height="26.85" fill="#865454"/>
<rect x="1028.83" y="178.2" width="26.87" height="26.85" fill="#9c6363"/>
<rect x="1055.65" y="178.2" width="26.87" height="26.85" fill="#9c6363"/>
<rect x="1082.47" y="178.2" width="26.87" height="26.85" fill="#af7070"/>
<rect x="1109.29" y="178.2" width="26.87" height="26.85" fill="#865454"/>
<rect x="1136.12" y="178.2" width="26.87" height="26.85" fill="#915c5c"/>
<rect x="1162.94" y="178.2" width="26.87" height="26.85" fill="#9c6363"/>
<rect x="1189.76" y="178.2" width="26.87" height="26.85" fill="#9c6363"/>
<rect x="1216.58" y="178.2" width="26.87" height="26.85" fill="#915c5c"/>
<rect x="733.8" y="205" width="26.87" height="26.85" fill="#865454"/>
<rect x="760.62" y="205" width="26.87" height="26.85" fill="#865454"/>
<rect x="787.44" y="205" width="26.87" height="26.85" fill="#af7070"/>
<rect x="814.26" y="205" width="26.87" height="26.85" fill="#c17c7c"/>
<rect x="841.08" y="205" width="26.87" height="26.85" fill="#ffffff"/>
<rect x="867.91" y="205" width="26.87" height="26.85" fill="#2a0000"/>
<rect x="894.73" y="205" width="26.87" height="26.85" fill="#c17c7c"/>
<rect x="921.55" y="205" width="26.87" height="26.85" fill="#af7070"/>
<rect x="948.37" y="205" width="26.87" height="26.85" fill="#865454"/>
<rect x="975.19" y="205" width="26.87" height="26.85" fill="#865454"/>
<rect x="1002.01" y="205" width="26.87" height="26.85" fill="#865454"/>
<rect x="1028.83" y="205" width="26.87" height="26.85" fill="#9c6363"/>
<rect x="1055.65" y="205" width="26.87" height="26.85" fill="#a66a6a"/>
<rect x="1082.47" y="205" width="26.87" height="26.85" fill="#af7070"/>
<rect x="1109.29" y="205" width="26.87" height="26.85" fill="#865454"/>
<rect x="1136.12" y="205" width="26.87" height="26.85" fill="#865454"/>
<rect x="1162.94" y="205" width="26.87" height="26.85" fill="#9c6363"/>
<rect x="1189.76" y="205" width="26.87" height="26.85" fill="#a66a6a"/>
<rect x="1216.58" y="205" width="26.87" height="26.85" fill="#915c5c"/>
<rect x="733.8" y="231.8" width="26.87" height="26.85" fill="#9c6363"/>
<rect x="760.62" y="231.8" width="26.87" height="26.85" fill="#915c5c"/>
<rect x="787.44" y="231.8" width="26.87" height="26.85" fill="#af7070"/>
<rect x="814.26" y="231.8" width="26.87" height="26.85" fill="#c48882"/>
<rect x="841.08" y="231.8" width="26.87" height="26.85" fill="#9c6363"/>
<rect x="867.91" y="231.8" width="26.87" height="26.85" fill="#cfa891"/>
<rect x="894.73" y="231.8" width="26.87" height="26.85" fill="#2a0000"/>
<rect x="921.55" y="231.8" width="26.87" height="26.85" fill="#9c6363"/>
<rect x="948.37" y="231.8" width="26.87" height="26.85" fill="#af7070"/>
<rect x="975.19" y="231.8" width="26.87" height="26.85" fill="#915c5c"/>
<rect x="1002.01" y="231.8" width="26.87" height="26.85" fill="#a66a6a"/>
<rect x="1028.83" y="231.8" width="26.87" height="26.85" fill="#a66a6a"/>
<rect x="1055.65" y="231.8" width="26.87" height="26.85" fill="#c48882"/>
<rect x="1082.47" y="231.8" width="26.87" height="26.85" fill="#af7070"/>
<rect x="1109.29" y="231.8" width="26.87" height="26.85" fill="#b87676"/>
<rect x="1136.12" y="231.8" width="26.87" height="26.85" fill="#915c5c"/>
<rect x="1162.94" y="231.8" width="26.87" height="26.85" fill="#af7070"/>
<rect x="1189.76" y="231.8" width="26.87" height="26.85" fill="#af7070"/>
<rect x="1216.58" y="231.8" width="26.87" height="26.85" fill="#af7070"/>
<rect x="733.8" y="258.6" width="26.87" height="26.85" fill="#915c5c"/>
<rect x="760.62" y="258.6" width="26.87" height="26.85" fill="#915c5c"/>
<rect x="787.44" y="258.6" width="26.87" height="26.85" fill="#9c6363"/>
<rect x="814.26" y="258.6" width="26.87" height="26.85" fill="#af7070"/>
<rect x="841.08" y="258.6" width="26.87" height="26.85" fill="#cfa891"/>
<rect x="867.91" y="258.6" width="26.87" height="26.85" fill="#a66a6a"/>
<rect x="894.73" y="258.6" width="26.87" height="26.85" fill="#9c6363"/>
<rect x="921.55" y="258.6" width="26.87" height="26.85" fill="#2a0000"/>
<rect x="948.37" y="258.6" width="26.87" height="26.85" fill="#9c6363"/>
<rect x="975.19" y="258.6" width="26.87" height="26.85" fill="#af7070"/>
<rect x="1002.01" y="258.6" width="26.87" height="26.85" fill="#915c5c"/>
<rect x="1028.83" y="258.6" width="26.87" height="26.85" fill="#a66a6a"/>
<rect x="1055.65" y="258.6" width="26.87" height="26.85" fill="#9c6363"/>
<rect x="1082.47" y="258.6" width="26.87" height="26.85" fill="#af7070"/>
<rect x="1109.29" y="258.6" width="26.87" height="26.85" fill="#915c5c"/>
<rect x="1136.12" y="258.6" width="26.87" height="26.85" fill="#af7070"/>
<rect x="1162.94" y="258.6" width="26.87" height="26.85" fill="#af7070"/>
<rect x="1189.76" y="258.6" width="26.87" height="26.85" fill="#af7070"/>
<rect x="1216.58" y="258.6" width="26.87" height="26.85" fill="#b87676"/>
<rect x="733.8" y="285.4" width="26.87" height="26.85" fill="#9c6363"/>
<rect x="760.62" y="285.4" width="26.87" height="26.85" fill="#9c6363"/>
<rect x="787.44" y="285.4" width="26.87" height="26.85" fill="#a66a6a"/>
<rect x="814.26" y="285.4" width="26.87" height="26.85" fill="#c48882"/>
<rect x="841.08" y="285.4" width="26.87" height="26.85" fill="#af7070"/>
<rect x="867.91" y="285.4" width="26.87" height="26.85" fill="#c48882"/>
<rect x="894.73" y="285.4" width="26.87" height="26.85" fill="#af7070"/>
<rect x="921.55" y="285.4" width="26.87" height="26.85" fill="#a66a6a"/>
<rect x="948.37" y="285.4" width="26.87" height="26.85" fill="#2a0000"/>
<rect x="975.19" y="285.4" width="26.87" height="26.85" fill="#cfa891"/>
<rect x="1002.01" y="285.4" width="26.87" height="26.85" fill="#af7070"/>
<rect x="1028.83" y="285.4" width="26.87" height="26.85" fill="#af7070"/>
<rect x="1055.65" y="285.4" width="26.87" height="26.85" fill="#b87676"/>
<rect x="1082.47" y="285.4" width="26.87" height="26.85" fill="#a66a6a"/>
<rect x="1109.29" y="285.4" width="26.87" height="26.85" fill="#cfa891"/>
<rect x="1136.12" y="285.4" width="26.87" height="26.85" fill="#a66a6a"/>
<rect x="1162.94" y="285.4" width="26.87" height="26.85" fill="#b87676"/>
<rect x="1189.76" y="285.4" width="26.87" height="26.85" fill="#af7070"/>
<rect x="1216.58" y="285.4" width="26.87" height="26.85" fill="#a66a6a"/>
<rect x="733.8" y="312.2" width="26.87" height="26.85" fill="#a66a6a"/>
<rect x="760.62" y="312.2" width="26.87" height="26.85" fill="#a66a6a"/>
<rect x="787.44" y="312.2" width="26.87" height="26.85" fill="#a66a6a"/>
<rect x="814.26" y="312.2" width="26.87" height="26.85" fill="#c48882"/>
<rect x="841.08" y="312.2" width="26.87" height="26.85" fill="#b87676"/>
<rect x="867.91" y="312.2" width="26.87" height="26.85" fill="#c17c7c"/>
<rect x="894.73" y="312.2" width="26.87" height="26.85" fill="#a66a6a"/>
<rect x="921.55" y="312.2" width="26.87" height="26.85" fill="#b87676"/>
<rect x="948.37" y="312.2" width="26.87" height="26.85" fill="#dccba3"/>
<rect x="975.19" y="312.2" width="26.87" height="26.85" fill="#2a0000"/>
<rect x="1002.01" y="312.2" width="26.87" height="26.85" fill="#af7070"/>
<rect x="1028.83" y="312.2" width="26.87" height="26.85" fill="#b87676"/>
<rect x="1055.65" y="312.2" width="26.87" height="26.85" fill="#a66a6a"/>
<rect x="1082.47" y="312.2" width="26.87" height="26.85" fill="#af7070"/>
<rect x="1109.29" y="312.2" width="26.87" height="26.85" fill="#af7070"/>
<rect x="1136.12" y="312.2" width="26.87" height="26.85" fill="#cfa891"/>
<rect x="1162.94" y="312.2" width="26.87" height="26.85" fill="#b87676"/>
<rect x="1189.76" y="312.2" width="26.87" height="26.85" fill="#c17c7c"/>
<rect x="1216.58" y="312.2" width="26.87" height="26.85" fill="#a66a6a"/>
<rect x="733.8" y="339" width="26.87" height="26.85" fill="#d8c29f"/>
<rect x="760.62" y="339" width="26.87" height="26.85" fill="#b87676"/>
<rect x="787.44" y="339" width="26.87" height="26.85" fill="#c17c7c"/>
<rect x="814.26" y="339" width="26.87" height="26.85" fill="#c48882"/>
<rect x="841.08" y="339" width="26.87" height="26.85" fill="#af7070"/>
<rect x="867.91" y="339" width="26.87" height="26.85" fill="#c89487"/>
<rect x="894.73" y="339" width="26.87" height="26.85" fill="#af7070"/>
<rect x="921.55" y="339" width="26.87" height="26.85" fill="#b87676"/>
<rect x="948.37" y="339" width="26.87" height="26.85" fill="#a66a6a"/>
<rect x="975.19" y="339" width="26.87" height="26.85" fill="#9c6363"/>
<rect x="1002.01" y="339" width="26.87" height="26.85" fill="#2a0000"/>
<rect x="1028.83" y="339" width="26.87" height="26.85" fill="#c89487"/>
<rect x="1055.65" y="339" width="26.87" height="26.85" fill="#cfa891"/>
<rect x="1082.47" y="339" width="26.87" height="26.85" fill="#a66a6a"/>
<rect x="1109.29" y="339" width="26.87" height="26.85" fill="#a66a6a"/>
<rect x="1136.12" y="339" width="26.87" height="26.85" fill="#9c6363"/>
<rect x="1162.94" y="339" width="26.87" height="26.85" fill="#b87676"/>
<rect x="1189.76" y="339" width="26.87" height="26.85" fill="#b87676"/>
<rect x="1216.58" y="339" width="26.87" height="26.85" fill="#b87676"/>
<rect x="733.8" y="365.8" width="26.87" height="26.85" fill="#c17c7c"/>
<rect x="760.62" y="365.8" width="26.87" height="26.85" fill="#d8c29f"/>
<rect x="787.44" y="365.8" width="26.87" height="26.85" fill="#af7070"/>
<rect x="814.26" y="365.8" width="26.87" height="26.85" fill="#c89487"/>
<rect x="841.08" y="365.8" width="26.87" height="26.85" fill="#c17c7c"/>
<rect x="867.91" y="365.8" width="26.87" height="26.85" fill="#af7070"/>
<rect x="894.73" y="365.8" width="26.87" height="26.85" fill="#af7070"/>
<rect x="921.55" y="365.8" width="26.87" height="26.85" fill="#af7070"/>
<rect x="948.37" y="365.8" width="26.87" height="26.85" fill="#9c6363"/>
<rect x="975.19" y="365.8" width="26.87" height="26.85" fill="#9c6363"/>
<rect x="1002.01" y="365.8" width="26.87" height="26.85" fill="#c17c7c"/>
<rect x="1028.83" y="365.8" width="26.87" height="26.85" fill="#2a0000"/>
<rect x="1055.65" y="365.8" width="26.87" height="26.85" fill="#a66a6a"/>
<rect x="1082.47" y="365.8" width="26.87" height="26.85" fill="#c89487"/>
<rect x="1109.29" y="365.8" width="26.87" height="26.85" fill="#9c6363"/>
<rect x="1136.12" y="365.8" width="26.87" height="26.85" fill="#a66a6a"/>
<rect x="1162.94" y="365.8" width="26.87" height="26.85" fill="#b87676"/>
<rect x="1189.76" y="365.8" width="26.87" height="26.85" fill="#b87676"/>
<rect x="1216.58" y="365.8" width="26.87" height="26.85" fill="#af7070"/>
<rect x="733.8" y="392.6" width="26.87" height="26.85" fill="#a66a6a"/>
<rect x="760.62" y="392.6" width="26.87" height="26.85" fill="#9c6363"/>
<rect x="787.44" y="392.6" width="26.87" height="26.85" fill="#a66a6a"/>
<rect x="814.26" y="392.6" width="26.87" height="26.85" fill="#c89487"/>
<rect x="841.08" y="392.6" width="26.87" height="26.85" fill="#a66a6a"/>
<rect x="867.91" y="392.6" width="26.87" height="26.85" fill="#d5ba9a"/>
<rect x="894.73" y="392.6" width="26.87" height="26.85" fill="#c17c7c"/>
<rect x="921.55" y="392.6" width="26.87" height="26.85" fill="#af7070"/>
<rect x="948.37" y="392.6" width="26.87" height="26.85" fill="#9c6363"/>
<rect x="975.19" y="392.6" width="26.87" height="26.85" fill="#915c5c"/>
<rect x="1002.01" y="392.6" width="26.87" height="26.85" fill="#cfa891"/>
<rect x="1028.83" y="392.6" width="26.87" height="26.85" fill="#af7070"/>
<rect x="1055.65" y="392.6" width="26.87" height="26.85" fill="#2a0000"/>
<rect x="1082.47" y="392.6" width="26.87" height="26.85" fill="#af7070"/>
<rect x="1109.29" y="392.6" width="26.87" height="26.85" fill="#dfd2a7"/>
<rect x="1136.12" y="392.6" width="26.87" height="26.85" fill="#9c6363"/>
<rect x="1162.94" y="392.6" width="26.87" height="26.85" fill="#b87676"/>
<rect x="1189.76" y="392.6" width="26.87" height="26.85" fill="#c17c7c"/>
<rect x="1216.58" y="392.6" width="26.87" height="26.85" fill="#af7070"/>
<rect x="733.8" y="419.4" width="26.87" height="26.85" fill="#9c6363"/>
<rect x="760.62" y="419.4" width="26.87" height="26.85" fill="#9c6363"/>
<rect x="787.44" y="419.4" width="26.87" height="26.85" fill="#a66a6a"/>
<rect x="814.26" y="419.4" width="26.87" height="26.85" fill="#b87676"/>
<rect x="841.08" y="419.4" width="26.87" height="26.85" fill="#cfa891"/>
<rect x="867.91" y="419.4" width="26.87" height="26.85" fill="#af7070"/>
<rect x="894.73" y="419.4" width="26.87" height="26.85" fill="#b87676"/>
<rect x="921.55" y="419.4" width="26.87" height="26.85" fill="#af7070"/>
<rect x="948.37" y="419.4" width="26.87" height="26.85" fill="#915c5c"/>
<rect x="975.19" y="419.4" width="26.87" height="26.85" fill="#915c5c"/>
<rect x="1002.01" y="419.4" width="26.87" height="26.85" fill="#9c6363"/>
<rect x="1028.83" y="419.4" width="26.87" height="26.85" fill="#cfa891"/>
<rect x="1055.65" y="419.4" width="26.87" height="26.85" fill="#a66a6a"/>
<rect x="1082.47" y="419.4" width="26.87" height="26.85" fill="#2a0000"/>
<rect x="1109.29" y="419.4" width="26.87" height="26.85" fill="#9c6363"/>
<rect x="1136.12" y="419.4" width="26.87" height="26.85" fill="#c89487"/>
<rect x="1162.94" y="419.4" width="26.87" height="26.85" fill="#af7070"/>
<rect x="1189.76" y="419.4" width="26.87" height="26.85" fill="#c17c7c"/>
<rect x="1216.58" y="419.4" width="26.87" height="26.85" fill="#a66a6a"/>
<rect x="733.8" y="446.2" width="26.87" height="26.85" fill="#9c6363"/>
<rect x="760.62" y="446.2" width="26.87" height="26.85" fill="#9c6363"/>
<rect x="787.44" y="446.2" width="26.87" height="26.85" fill="#a66a6a"/>
<rect x="814.26" y="446.2" width="26.87" height="26.85" fill="#c89487"/>
<rect x="841.08" y="446.2" width="26.87" height="26.85" fill="#a66a6a"/>
<rect x="867.91" y="446.2" width="26.87" height="26.85" fill="#c48882"/>
<rect x="894.73" y="446.2" width="26.87" height="26.85" fill="#c17c7c"/>
<rect x="921.55" y="446.2" width="26.87" height="26.85" fill="#a66a6a"/>
<rect x="948.37" y="446.2" width="26.87" height="26.85" fill="#c89487"/>
<rect x="975.19" y="446.2" width="26.87" height="26.85" fill="#a66a6a"/>
<rect x="1002.01" y="446.2" width="26.87" height="26.85" fill="#b87676"/>
<rect x="1028.83" y="446.2" width="26.87" height="26.85" fill="#af7070"/>
<rect x="1055.65" y="446.2" width="26.87" height="26.85" fill="#e2daab"/>
<rect x="1082.47" y="446.2" width="26.87" height="26.85" fill="#a66a6a"/>
<rect x="1109.29" y="446.2" width="26.87" height="26.85" fill="#2a0000"/>
<rect x="1136.12" y="446.2" width="26.87" height="26.85" fill="#9c6363"/>
<rect x="1162.94" y="446.2" width="26.87" height="26.85" fill="#af7070"/>
<rect x="1189.76" y="446.2" width="26.87" height="26.85" fill="#b87676"/>
<rect x="1216.58" y="446.2" width="26.87" height="26.85" fill="#a66a6a"/>
<rect x="733.8" y="473" width="26.87" height="26.85" fill="#9c6363"/>
<rect x="760.62" y="473" width="26.87" height="26.85" fill="#a66a6a"/>
<rect x="787.44" y="473" width="26.87" height="26.85" fill="#af7070"/>
<rect x="814.26" y="473" width="26.87" height="26.85" fill="#c48882"/>
<rect x="841.08" y="473" width="26.87" height="26.85" fill="#c48882"/>
<rect x="867.91" y="473" width="26.87" height="26.85" fill="#b87676"/>
<rect x="894.73" y="473" width="26.87" height="26.85" fill="#af7070"/>
<rect x="921.55" y="473" width="26.87" height="26.85" fill="#b87676"/>
<rect x="948.37" y="473" width="26.87" height="26.85" fill="#af7070"/>
<rect x="975.19" y="473" width="26.87" height="26.85" fill="#d5ba9a"/>
<rect x="1002.01" y="473" width="26.87" height="26.85" fill="#a66a6a"/>
<rect x="1028.83" y="473" width="26.87" height="26.85" fill="#b87676"/>
<rect x="1055.65" y="473" width="26.87" height="26.85" fill="#a66a6a"/>
<rect x="1082.47" y="473" width="26.87" height="26.85" fill="#cfa891"/>
<rect x="1109.29" y="473" width="26.87" height="26.85" fill="#af7070"/>
<rect x="1136.12" y="473" width="26.87" height="26.85" fill="#2a0000"/>
<rect x="1162.94" y="473" width="26.87" height="26.85" fill="#b87676"/>
<rect x="1189.76" y="473" width="26.87" height="26.85" fill="#b87676"/>
<rect x="1216.58" y="473" width="26.87" height="26.85" fill="#a66a6a"/>
<rect x="733.8" y="499.8" width="26.87" height="26.85" fill="#c89487"/>
<rect x="760.62" y="499.8" width="26.87" height="26.85" fill="#af7070"/>
<rect x="787.44" y="499.8" width="26.87" height="26.85" fill="#af7070"/>
<rect x="814.26" y="499.8" width="26.87" height="26.85" fill="#c89487"/>
<rect x="841.08" y="499.8" width="26.87" height="26.85" fill="#af7070"/>
<rect x="867.91" y="499.8" width="26.87" height="26.85" fill="#c17c7c"/>
<rect x="894.73" y="499.8" width="26.87" height="26.85" fill="#b87676"/>
<rect x="921.55" y="499.8" width="26.87" height="26.85" fill="#af7070"/>
<rect x="948.37" y="499.8" width="26.87" height="26.85" fill="#915c5c"/>
<rect x="975.19" y="499.8" width="26.87" height="26.85" fill="#865454"/>
<rect x="1002.01" y="499.8" width="26.87" height="26.85" fill="#9c6363"/>
<rect x="1028.83" y="499.8" width="26.87" height="26.85" fill="#9c6363"/>
<rect x="1055.65" y="499.8" width="26.87" height="26.85" fill="#a66a6a"/>
<rect x="1082.47" y="499.8" width="26.87" height="26.85" fill="#a66a6a"/>
<rect x="1109.29" y="499.8" width="26.87" height="26.85" fill="#915c5c"/>
<rect x="1136.12" y="499.8" width="26.87" height="26.85" fill="#915c5c"/>
<rect x="1162.94" y="499.8" width="26.87" height="26.85" fill="#2a0000"/>
<rect x="1189.76" y="499.8" width="26.87" height="26.85" fill="#cfa891"/>
<rect x="1216.58" y="499.8" width="26.87" height="26.85" fill="#b87676"/>
<rect x="733.8" y="526.6" width="26.87" height="26.85" fill="#a66a6a"/>
<rect x="760.62" y="526.6" width="26.87" height="26.85" fill="#915c5c"/>
<rect x="787.44" y="526.6" width="26.87" height="26.85" fill="#915c5c"/>
<rect x="814.26" y="526.6" width="26.87" height="26.85" fill="#b87676"/>
<rect x="841.08" y="526.6" width="26.87" height="26.85" fill="#9c6363"/>
<rect x="867.91" y="526.6" width="26.87" height="26.85" fill="#b87676"/>
<rect x="894.73" y="526.6" width="26.87" height="26.85" fill="#af7070"/>
<rect x="921.55" y="526.6" width="26.87" height="26.85" fill="#a66a6a"/>
<rect x="948.37" y="526.6" width="26.87" height="26.85" fill="#865454"/>
<rect x="975.19" y="526.6" width="26.87" height="26.85" fill="#865454"/>
<rect x="1002.01" y="526.6" width="26.87" height="26.85" fill="#915c5c"/>
<rect x="1028.83" y="526.6" width="26.87" height="26.85" fill="#915c5c"/>
<rect x="1055.65" y="526.6" width="26.87" height="26.85" fill="#9c6363"/>
<rect x="1082.47" y="526.6" width="26.87" height="26.85" fill="#9c6363"/>
<rect x="1109.29" y="526.6" width="26.87" height="26.85" fill="#915c5c"/>
<rect x="1136.12" y="526.6" width="26.87" height="26.85" fill="#865454"/>
<rect x="1162.94" y="526.6" width="26.87" height="26.85" fill="#dfd2a7"/>
<rect x="1189.76" y="526.6" width="26.87" height="26.85" fill="#2a0000"/>
<rect x="1216.58" y="526.6" width="26.87" height="26.85" fill="#d5ba9a"/>
<rect x="733.8" y="553.4" width="26.87" height="26.85" fill="#a66a6a"/>
<rect x="760.62" y="553.4" width="26.87" height="26.85" fill="#9c6363"/>
<rect x="787.44" y="553.4" width="26.87" height="26.85" fill="#9c6363"/>
<rect x="814.26" y="553.4" width="26.87" height="26.85" fill="#b87676"/>
<rect x="841.08" y="553.4" width="26.87" height="26.85" fill="#af7070"/>
<rect x="867.91" y="553.4" width="26.87" height="26.85" fill="#af7070"/>
<rect x="894.73" y="553.4" width="26.87" height="26.85" fill="#af7070"/>
<rect x="921.55" y="553.4" width="26.87" height="26.85" fill="#af7070"/>
<rect x="948.37" y="553.4" width="26.87" height="26.85" fill="#9c6363"/>
<rect x="975.19" y="553.4" width="26.87" height="26.85" fill="#915c5c"/>
<rect x="1002.01" y="553.4" width="26.87" height="26.85" fill="#915c5c"/>
<rect x="1028.83" y="553.4" width="26.87" height="26.85" fill="#915c5c"/>
<rect x="1055.65" y="553.4" width="26.87" height="26.85" fill="#9c6363"/>
<rect x="1082.47" y="553.4" width="26.87" height="26.85" fill="#9c6363"/>
<rect x="1109.29" y="553.4" width="26.87" height="26.85" fill="#915c5c"/>
<rect x="1136.12" y="553.4" width="26.87" height="26.85" fill="#865454"/>
<rect x="1162.94" y="553.4" width="26.87" height="26.85" fill="#b87676"/>
<rect x="1189.76" y="553.4" width="26.87" height="26.85" fill="#c48882"/>
<rect x="1216.58" y="553.4" width="26.87" height="26.85" fill="#2a0000"/>
<line x1="760.62" y1="71" x2="760.62" y2="580.2" class="g"/>
<line x1="733.8" y1="97.8" x2="1243.4" y2="97.8" class="g"/>
<line x1="787.44" y1="71" x2="787.44" y2="580.2" class="g"/>
<line x1="733.8" y1="124.6" x2="1243.4" y2="124.6" class="g"/>
<line x1="814.26" y1="71" x2="814.26" y2="580.2" class="g"/>
<line x1="733.8" y1="151.4" x2="1243.4" y2="151.4" class="g"/>
<line x1="841.08" y1="71" x2="841.08" y2="580.2" class="g"/>
<line x1="733.8" y1="178.2" x2="1243.4" y2="178.2" class="g"/>
<line x1="867.91" y1="71" x2="867.91" y2="580.2" class="g"/>
<line x1="733.8" y1="205" x2="1243.4" y2="205" class="g"/>
<line x1="894.73" y1="71" x2="894.73" y2="580.2" class="g"/>
<line x1="733.8" y1="231.8" x2="1243.4" y2="231.8" class="g"/>
<line x1="921.55" y1="71" x2="921.55" y2="580.2" class="g"/>
<line x1="733.8" y1="258.6" x2="1243.4" y2="258.6" class="g"/>
<line x1="948.37" y1="71" x2="948.37" y2="580.2" class="g"/>
<line x1="733.8" y1="285.4" x2="1243.4" y2="285.4" class="g"/>
<line x1="975.19" y1="71" x2="975.19" y2="580.2" class="g"/>
<line x1="733.8" y1="312.2" x2="1243.4" y2="312.2" class="g"/>
<line x1="1002.01" y1="71" x2="1002.01" y2="580.2" class="g"/>
<line x1="733.8" y1="339" x2="1243.4" y2="339" class="g"/>
<line x1="1028.83" y1="71" x2="1028.83" y2="580.2" class="g"/>
<line x1="733.8" y1="365.8" x2="1243.4" y2="365.8" class="g"/>
<line x1="1055.65" y1="71" x2="1055.65" y2="580.2" class="g"/>
<line x1="733.8" y1="392.6" x2="1243.4" y2="392.6" class="g"/>
<line x1="1082.47" y1="71" x2="1082.47" y2="580.2" class="g"/>
<line x1="733.8" y1="419.4" x2="1243.4" y2="419.4" class="g"/>
<line x1="1109.29" y1="71" x2="1109.29" y2="580.2" class="g"/>
<line x1="733.8" y1="446.2" x2="1243.4" y2="446.2" class="g"/>
<line x1="1136.12" y1="71" x2="1136.12" y2="580.2" class="g"/>
<line x1="733.8" y1="473" x2="1243.4" y2="473" class="g"/>
<line x1="1162.94" y1="71" x2="1162.94" y2="580.2" class="g"/>
<line x1="733.8" y1="499.8" x2="1243.4" y2="499.8" class="g"/>
<line x1="1189.76" y1="71" x2="1189.76" y2="580.2" class="g"/>
<line x1="733.8" y1="526.6" x2="1243.4" y2="526.6" class="g"/>
<line x1="1216.58" y1="71" x2="1216.58" y2="580.2" class="g"/>
<line x1="733.8" y1="553.4" x2="1243.4" y2="553.4" class="g"/>
<line x1="747.21" y1="69.4" x2="747.21" y2="71" class="t"/>
<line x1="747.21" y1="580.2" x2="747.21" y2="581.8" class="t"/>
<line x1="732.2" y1="84.4" x2="733.8" y2="84.4" class="t"/>
<line x1="1243.4" y1="84.4" x2="1245" y2="84.4" class="t"/>
<line x1="774.03" y1="69.4" x2="774.03" y2="71" class="t"/>
<line x1="774.03" y1="580.2" x2="774.03" y2="581.8" class="t"/>
<line x1="732.2" y1="111.2" x2="733.8" y2="111.2" class="t"/>
<line x1="1243.4" y1="111.2" x2="1245" y2="111.2" class="t"/>
<line x1="800.85" y1="69.4" x2="800.85" y2="71" class="t"/>
<line x1="800.85" y1="580.2" x2="800.85" y2="581.8" class="t"/>
<line x1="732.2" y1="138" x2="733.8" y2="138" class="t"/>
<line x1="1243.4" y1="138" x2="1245" y2="138" class="t"/>
<line x1="827.67" y1="69.4" x2="827.67" y2="71" class="t"/>
<line x1="827.67" y1="580.2" x2="827.67" y2="581.8" class="t"/>
<line x1="732.2" y1="164.8" x2="733.8" y2="164.8" class="t"/>
<line x1="1243.4" y1="164.8" x2="1245" y2="164.8" class="t"/>
<line x1="854.49" y1="69.4" x2="854.49" y2="71" class="t"/>
<line x1="854.49" y1="580.2" x2="854.49" y2="581.8" class="t"/>
<line x1="732.2" y1="191.6" x2="733.8" y2="191.6" class="t"/>
<line x1="1243.4" y1="191.6" x2="1245" y2="191.6" class="t"/>
<line x1="881.32" y1="69.4" x2="881.32" y2="71" class="t"/>
<line x1="881.32" y1="580.2" x2="881.32" y2="581.8" class="t"/>
<line x1="732.2" y1="218.4" x2="733.8" y2="218.4" class="t"/>
<line x1="1243.4" y1="218.4" x2="1245" y2="218.4" class="t"/>
<line x1="908.14" y1="69.4" x2="908.14" y2="71" class="t"/>
<line x1="908.14" y1="580.2" x2="908.14" y2="581.8" class="t"/>
<line x1="732.2" y1="245.2" x2="733.8" y2="245.2" class="t"/>
<line x1="1243.4" y1="245.2" x2="1245" y2="245.2" class="t"/>
<line x1="934.96" y1="69.4" x2="934.96" y2="71" class="t"/>
<line x1="934.96" y1="580.2" x2="934.96" y2="581.8" class="t"/>
<line x1="732.2" y1="272" x2="733.8" y2="272" class="t"/>
<line x1="1243.4" y1="272" x2="1245" y2="272" class="t"/>
<line x1="961.78" y1="69.4" x2="961.78" y2="71" class="t"/>
<line x1="961.78" y1="580.2" x2="961.78" y2="581.8" class="t"/>
<line x1="732.2" y1="298.8" x2="733.8" y2="298.8" class="t"/>
<line x1="1243.4" y1="298.8" x2="1245" y2="298.8" class="t"/>
<line x1="988.6" y1="69.4" x2="988.6" y2="71" class="t"/>
<line x1="988.6" y1="580.2" x2="988.6" y2="581.8" class="t"/>
<line x1="732.2" y1="325.6" x2="733.8" y2="325.6" class="t"/>
<line x1="1243.4" y1="325.6" x2="1245" y2="325.6" class="t"/>
<line x1="1015.42" y1="69.4" x2="1015.42" y2="71" class="t"/>
<line x1="1015.42" y1="580.2" x2="1015.42" y2="581.8" class="t"/>
<line x1="732.2" y1="352.4" x2="733.8" y2="352.4" class="t"/>
<line x1="1243.4" y1="352.4" x2="1245" y2="352.4" class="t"/>
<line x1="1042.24" y1="69.4" x2="1042.24" y2="71" class="t"/>
<line x1="1042.24" y1="580.2" x2="1042.24" y2="581.8" class="t"/>
<line x1="732.2" y1="379.2" x2="733.8" y2="379.2" class="t"/>
<line x1="1243.4" y1="379.2" x2="1245" y2="379.2" class="t"/>
<line x1="1069.06" y1="69.4" x2="1069.06" y2="71" class="t"/>
<line x1="1069.06" y1="580.2" x2="1069.06" y2="581.8" class="t"/>
<line x1="732.2" y1="406" x2="733.8" y2="406" class="t"/>
<line x1="1243.4" y1="406" x2="1245" y2="406" class="t"/>
<line x1="1095.88" y1="69.4" x2="1095.88" y2="71" class="t"/>
<line x1="1095.88" y1="580.2" x2="1095.88" y2="581.8" class="t"/>
<line x1="732.2" y1="432.8" x2="733.8" y2="432.8" class="t"/>
<line x1="1243.4" y1="432.8" x2="1245" y2="432.8" class="t"/>
<line x1="1122.71" y1="69.4" x2="1122.71" y2="71" class="t"/>
<line x1="1122.71" y1="580.2" x2="1122.71" y2="581.8" class="t"/>
<line x1="732.2" y1="459.6" x2="733.8" y2="459.6" class="t"/>
<line x1="1243.4" y1="459.6" x2="1245" y2="459.6" class="t"/>
<line x1="1149.53" y1="69.4" x2="1149.53" y2="71" class="t"/>
<line x1="1149.53" y1="580.2" x2="1149.53" y2="581.8" class="t"/>
<line x1="732.2" y1="486.4" x2="733.8" y2="486.4" class="t"/>
<line x1="1243.4" y1="486.4" x2="1245" y2="486.4" class="t"/>
<line x1="1176.35" y1="69.4" x2="1176.35" y2="71" class="t"/>
<line x1="1176.35" y1="580.2" x2="1176.35" y2="581.8" class="t"/>
<line x1="732.2" y1="513.2" x2="733.8" y2="513.2" class="t"/>
<line x1="1243.4" y1="513.2" x2="1245" y2="513.2" class="t"/>
<line x1="1203.17" y1="69.4" x2="1203.17" y2="71" class="t"/>
<line x1="1203.17" y1="580.2" x2="1203.17" y2="581.8" class="t"/>
<line x1="732.2" y1="540" x2="733.8" y2="540" class="t"/>
<line x1="1243.4" y1="540" x2="1245" y2="540" class="t"/>
<line x1="1229.99" y1="69.4" x2="1229.99" y2="71" class="t"/>
<line x1="1229.99" y1="580.2" x2="1229.99" y2="581.8" class="t"/>
<line x1="732.2" y1="566.8" x2="733.8" y2="566.8" class="t"/>
<line x1="1243.4" y1="566.8" x2="1245" y2="566.8" class="t"/>
<line x1="733.8" y1="70.5" x2="1243.4" y2="70.5" class="b"/>
<rect x="1258" y="564.3" width="18" height="15.95" fill="#2a0000"/>
<rect x="1258" y="548.41" width="18" height="15.95" fill="#472525"/>
<rect x="1258" y="532.51" width="18" height="15.95" fill="#5b3535"/>
<rect x="1258" y="516.61" width="18" height="15.95" fill="#6b4141"/>
<rect x="1258" y="500.72" width="18" height="15.95" fill="#794b4b"/>
<rect x="1258" y="484.82" width="18" height="15.95" fill="#865454"/>
<rect x="1258" y="468.92" width="18" height="15.95" fill="#915c5c"/>
<rect x="1258" y="453.03" width="18" height="15.95" fill="#9c6363"/>
<rect x="1258" y="437.13" width="18" height="15.95" fill="#a66a6a"/>
<rect x="1258" y="421.23" width="18" height="15.95" fill="#af7070"/>
<rect x="1258" y="405.33" width="18" height="15.95" fill="#b87676"/>
<rect x="1258" y="389.44" width="18" height="15.95" fill="#c17c7c"/>
<rect x="1258" y="373.54" width="18" height="15.95" fill="#c48882"/>
<rect x="1258" y="357.64" width="18" height="15.95" fill="#c89487"/>
<rect x="1258" y="341.75" width="18" height="15.95" fill="#cb9e8c"/>
<rect x="1258" y="325.85" width="18" height="15.95" fill="#cfa891"/>
<rect x="1258" y="309.95" width="18" height="15.95" fill="#d2b196"/>
<rect x="1258" y="294.06" width="18" height="15.95" fill="#d5ba9a"/>
<rect x="1258" y="278.16" width="18" height="15.95" fill="#d8c29f"/>
<rect x="1258" y="262.26" width="18" height="15.95" fill="#dccba3"/>
<rect x="1258" y="246.37" width="18" height="15.95" fill="#dfd2a7"/>
<rect x="1258" y="230.47" width="18" height="15.95" fill="#e2daab"/>
<rect x="1258" y="214.57" width="18" height="15.95" fill="#e5e1af"/>
<rect x="1258" y="198.68" width="18" height="15.95" fill="#e8e8b3"/>
<rect x="1258" y="182.78" width="18" height="15.95" fill="#ebebbe"/>
<rect x="1258" y="166.88" width="18" height="15.95" fill="#eeeec9"/>
<rect x="1258" y="150.98" width="18" height="15.95" fill="#f1f1d3"/>
<rect x="1258" y="135.09" width="18" height="15.95" fill="#f4f4dc"/>
<rect x="1258" y="119.19" width="18" height="15.95" fill="#f7f7e6"/>
<rect x="1258" y="103.29" width="18" height="15.95" fill="#f9f9ee"/>
<rect x="1258" y="87.4" width="18" height="15.95" fill="#fcfcf7"/>
<rect x="1258" y="71.5" width="18" height="15.95" fill="#ffffff"/>
<line x1="1258.5" y1="71.5" x2="1258.5" y2="580.2" class="cbl"/>
<line x1="1275.5" y1="71.5" x2="1275.5" y2="580.2" class="cbr"/>
<line x1="1258" y1="72.3" x2="1276" y2="72.3" class="cbt"/>
<line x1="1272" y1="581" x2="1276" y2="581" class="ct"/>
<line x1="1272" y1="510.7" x2="1276" y2="510.7" class="ct"/>
<line x1="1272" y1="440.4" x2="1276" y2="440.4" class="ct"/>
<line x1="1272" y1="370.1" x2="1276" y2="370.1" class="ct"/>
<line x1="1272" y1="299.8" x2="1276" y2="299.8" class="ct"/>
<line x1="1272" y1="229.5" x2="1276" y2="229.5" class="ct"/>
<line x1="1272" y1="159.2" x2="1276" y2="159.2" class="ct"/>
<line x1="1272" y1="88.9" x2="1276" y2="88.9" class="ct"/>
<rect x="1412" y="71" width="27.16" height="26.84" fill="#2a0000"/>
<rect x="1439.11" y="71" width="27.16" height="26.84" fill="#c89487"/>
<rect x="1466.21" y="71" width="27.16" height="26.84" fill="#cb9e8c"/>
<rect x="1493.32" y="71" width="27.16" height="26.84" fill="#c17c7c"/>
<rect x="1520.42" y="71" width="27.16" height="26.84" fill="#c89487"/>
<rect x="1547.53" y="71" width="27.16" height="26.84" fill="#cb9e8c"/>
<rect x="1574.63" y="71" width="27.16" height="26.84" fill="#c17c7c"/>
<rect x="1601.74" y="71" width="27.16" height="26.84" fill="#c17c7c"/>
<rect x="1628.84" y="71" width="27.16" height="26.84" fill="#af7070"/>
<rect x="1655.95" y="71" width="27.16" height="26.84" fill="#af7070"/>
<rect x="1683.05" y="71" width="27.16" height="26.84" fill="#c89487"/>
<rect x="1710.16" y="71" width="27.16" height="26.84" fill="#b87676"/>
<rect x="1737.26" y="71" width="27.16" height="26.84" fill="#b87676"/>
<rect x="1764.37" y="71" width="27.16" height="26.84" fill="#b87676"/>
<rect x="1791.47" y="71" width="27.16" height="26.84" fill="#b87676"/>
<rect x="1818.58" y="71" width="27.16" height="26.84" fill="#af7070"/>
<rect x="1845.68" y="71" width="27.16" height="26.84" fill="#b87676"/>
<rect x="1872.79" y="71" width="27.16" height="26.84" fill="#b87676"/>
<rect x="1899.89" y="71" width="27.16" height="26.84" fill="#c48882"/>
<rect x="1412" y="97.79" width="27.16" height="26.84" fill="#b87676"/>
<rect x="1439.11" y="97.79" width="27.16" height="26.84" fill="#2a0000"/>
<rect x="1466.21" y="97.79" width="27.16" height="26.84" fill="#af7070"/>
<rect x="1493.32" y="97.79" width="27.16" height="26.84" fill="#d5ba9a"/>
<rect x="1520.42" y="97.79" width="27.16" height="26.84" fill="#cb9e8c"/>
<rect x="1547.53" y="97.79" width="27.16" height="26.84" fill="#cb9e8c"/>
<rect x="1574.63" y="97.79" width="27.16" height="26.84" fill="#c17c7c"/>
<rect x="1601.74" y="97.79" width="27.16" height="26.84" fill="#c48882"/>
<rect x="1628.84" y="97.79" width="27.16" height="26.84" fill="#af7070"/>
<rect x="1655.95" y="97.79" width="27.16" height="26.84" fill="#b87676"/>
<rect x="1683.05" y="97.79" width="27.16" height="26.84" fill="#c17c7c"/>
<rect x="1710.16" y="97.79" width="27.16" height="26.84" fill="#cb9e8c"/>
<rect x="1737.26" y="97.79" width="27.16" height="26.84" fill="#c17c7c"/>
<rect x="1764.37" y="97.79" width="27.16" height="26.84" fill="#c17c7c"/>
<rect x="1791.47" y="97.79" width="27.16" height="26.84" fill="#b87676"/>
<rect x="1818.58" y="97.79" width="27.16" height="26.84" fill="#b87676"/>
<rect x="1845.68" y="97.79" width="27.16" height="26.84" fill="#b87676"/>
<rect x="1872.79" y="97.79" width="27.16" height="26.84" fill="#b87676"/>
<rect x="1899.89" y="97.79" width="27.16" height="26.84" fill="#c48882"/>
<rect x="1412" y="124.58" width="27.16" height="26.84" fill="#b87676"/>
<rect x="1439.11" y="124.58" width="27.16" height="26.84" fill="#af7070"/>
<rect x="1466.21" y="124.58" width="27.16" height="26.84" fill="#2a0000"/>
<rect x="1493.32" y="124.58" width="27.16" height="26.84" fill="#af7070"/>
<rect x="1520.42" y="124.58" width="27.16" height="26.84" fill="#af7070"/>
<rect x="1547.53" y="124.58" width="27.16" height="26.84" fill="#d8c29f"/>
<rect x="1574.63" y="124.58" width="27.16" height="26.84" fill="#b87676"/>
<rect x="1601.74" y="124.58" width="27.16" height="26.84" fill="#b87676"/>
<rect x="1628.84" y="124.58" width="27.16" height="26.84" fill="#a66a6a"/>
<rect x="1655.95" y="124.58" width="27.16" height="26.84" fill="#a66a6a"/>
<rect x="1683.05" y="124.58" width="27.16" height="26.84" fill="#b87676"/>
<rect x="1710.16" y="124.58" width="27.16" height="26.84" fill="#af7070"/>
<rect x="1737.26" y="124.58" width="27.16" height="26.84" fill="#af7070"/>
<rect x="1764.37" y="124.58" width="27.16" height="26.84" fill="#af7070"/>
<rect x="1791.47" y="124.58" width="27.16" height="26.84" fill="#a66a6a"/>
<rect x="1818.58" y="124.58" width="27.16" height="26.84" fill="#a66a6a"/>
<rect x="1845.68" y="124.58" width="27.16" height="26.84" fill="#af7070"/>
<rect x="1872.79" y="124.58" width="27.16" height="26.84" fill="#a66a6a"/>
<rect x="1899.89" y="124.58" width="27.16" height="26.84" fill="#c89487"/>
<rect x="1412" y="151.37" width="27.16" height="26.84" fill="#a66a6a"/>
<rect x="1439.11" y="151.37" width="27.16" height="26.84" fill="#c48882"/>
<rect x="1466.21" y="151.37" width="27.16" height="26.84" fill="#af7070"/>
<rect x="1493.32" y="151.37" width="27.16" height="26.84" fill="#2a0000"/>
<rect x="1520.42" y="151.37" width="27.16" height="26.84" fill="#cfa891"/>
<rect x="1547.53" y="151.37" width="27.16" height="26.84" fill="#b87676"/>
<rect x="1574.63" y="151.37" width="27.16" height="26.84" fill="#c17c7c"/>
<rect x="1601.74" y="151.37" width="27.16" height="26.84" fill="#b87676"/>
<rect x="1628.84" y="151.37" width="27.16" height="26.84" fill="#a66a6a"/>
<rect x="1655.95" y="151.37" width="27.16" height="26.84" fill="#a66a6a"/>
<rect x="1683.05" y="151.37" width="27.16" height="26.84" fill="#a66a6a"/>
<rect x="1710.16" y="151.37" width="27.16" height="26.84" fill="#c48882"/>
<rect x="1737.26" y="151.37" width="27.16" height="26.84" fill="#af7070"/>
<rect x="1764.37" y="151.37" width="27.16" height="26.84" fill="#b87676"/>
<rect x="1791.47" y="151.37" width="27.16" height="26.84" fill="#a66a6a"/>
<rect x="1818.58" y="151.37" width="27.16" height="26.84" fill="#af7070"/>
<rect x="1845.68" y="151.37" width="27.16" height="26.84" fill="#b87676"/>
<rect x="1872.79" y="151.37" width="27.16" height="26.84" fill="#a66a6a"/>
<rect x="1899.89" y="151.37" width="27.16" height="26.84" fill="#c17c7c"/>
<rect x="1412" y="178.16" width="27.16" height="26.84" fill="#915c5c"/>
<rect x="1439.11" y="178.16" width="27.16" height="26.84" fill="#9c6363"/>
<rect x="1466.21" y="178.16" width="27.16" height="26.84" fill="#a66a6a"/>
<rect x="1493.32" y="178.16" width="27.16" height="26.84" fill="#a66a6a"/>
<rect x="1520.42" y="178.16" width="27.16" height="26.84" fill="#2a0000"/>
<rect x="1547.53" y="178.16" width="27.16" height="26.84" fill="#ffffff"/>
<rect x="1574.63" y="178.16" width="27.16" height="26.84" fill="#af7070"/>
<rect x="1601.74" y="178.16" width="27.16" height="26.84" fill="#c17c7c"/>
<rect x="1628.84" y="178.16" width="27.16" height="26.84" fill="#9c6363"/>
<rect x="1655.95" y="178.16" width="27.16" height="26.84" fill="#915c5c"/>
<rect x="1683.05" y="178.16" width="27.16" height="26.84" fill="#915c5c"/>
<rect x="1710.16" y="178.16" width="27.16" height="26.84" fill="#9c6363"/>
<rect x="1737.26" y="178.16" width="27.16" height="26.84" fill="#a66a6a"/>
<rect x="1764.37" y="178.16" width="27.16" height="26.84" fill="#9c6363"/>
<rect x="1791.47" y="178.16" width="27.16" height="26.84" fill="#915c5c"/>
<rect x="1818.58" y="178.16" width="27.16" height="26.84" fill="#915c5c"/>
<rect x="1845.68" y="178.16" width="27.16" height="26.84" fill="#915c5c"/>
<rect x="1872.79" y="178.16" width="27.16" height="26.84" fill="#915c5c"/>
<rect x="1899.89" y="178.16" width="27.16" height="26.84" fill="#af7070"/>
<rect x="1412" y="204.95" width="27.16" height="26.84" fill="#915c5c"/>
<rect x="1439.11" y="204.95" width="27.16" height="26.84" fill="#9c6363"/>
<rect x="1466.21" y="204.95" width="27.16" height="26.84" fill="#af7070"/>
<rect x="1493.32" y="204.95" width="27.16" height="26.84" fill="#a66a6a"/>
<rect x="1520.42" y="204.95" width="27.16" height="26.84" fill="#ffffff"/>
<rect x="1547.53" y="204.95" width="27.16" height="26.84" fill="#2a0000"/>
<rect x="1574.63" y="204.95" width="27.16" height="26.84" fill="#af7070"/>
<rect x="1601.74" y="204.95" width="27.16" height="26.84" fill="#b87676"/>
<rect x="1628.84" y="204.95" width="27.16" height="26.84" fill="#9c6363"/>
<rect x="1655.95" y="204.95" width="27.16" height="26.84" fill="#915c5c"/>
<rect x="1683.05" y="204.95" width="27.16" height="26.84" fill="#915c5c"/>
<rect x="1710.16" y="204.95" width="27.16" height="26.84" fill="#9c6363"/>
<rect x="1737.26" y="204.95" width="27.16" height="26.84" fill="#a66a6a"/>
<rect x="1764.37" y="204.95" width="27.16" height="26.84" fill="#9c6363"/>
<rect x="1791.47" y="204.95" width="27.16" height="26.84" fill="#915c5c"/>
<rect x="1818.58" y="204.95" width="27.16" height="26.84" fill="#915c5c"/>
<rect x="1845.68" y="204.95" width="27.16" height="26.84" fill="#915c5c"/>
<rect x="1872.79" y="204.95" width="27.16" height="26.84" fill="#915c5c"/>
<rect x="1899.89" y="204.95" width="27.16" height="26.84" fill="#af7070"/>
<rect x="1412" y="231.74" width="27.16" height="26.84" fill="#a66a6a"/>
<rect x="1439.11" y="231.74" width="27.16" height="26.84" fill="#a66a6a"/>
<rect x="1466.21" y="231.74" width="27.16" height="26.84" fill="#a66a6a"/>
<rect x="1493.32" y="231.74" width="27.16" height="26.84" fill="#af7070"/>
<rect x="1520.42" y="231.74" width="27.16" height="26.84" fill="#af7070"/>
<rect x="1547.53" y="231.74" width="27.16" height="26.84" fill="#cfa891"/>
<rect x="1574.63" y="231.74" width="27.16" height="26.84" fill="#2a0000"/>
<rect x="1601.74" y="231.74" width="27.16" height="26.84" fill="#af7070"/>
<rect x="1628.84" y="231.74" width="27.16" height="26.84" fill="#c48882"/>
<rect x="1655.95" y="231.74" width="27.16" height="26.84" fill="#a66a6a"/>
<rect x="1683.05" y="231.74" width="27.16" height="26.84" fill="#a66a6a"/>
<rect x="1710.16" y="231.74" width="27.16" height="26.84" fill="#a66a6a"/>
<rect x="1737.26" y="231.74" width="27.16" height="26.84" fill="#af7070"/>
<rect x="1764.37" y="231.74" width="27.16" height="26.84" fill="#a66a6a"/>
<rect x="1791.47" y="231.74" width="27.16" height="26.84" fill="#b87676"/>
<rect x="1818.58" y="231.74" width="27.16" height="26.84" fill="#a66a6a"/>
<rect x="1845.68" y="231.74" width="27.16" height="26.84" fill="#af7070"/>
<rect x="1872.79" y="231.74" width="27.16" height="26.84" fill="#a66a6a"/>
<rect x="1899.89" y="231.74" width="27.16" height="26.84" fill="#c48882"/>
<rect x="1412" y="258.53" width="27.16" height="26.84" fill="#9c6363"/>
<rect x="1439.11" y="258.53" width="27.16" height="26.84" fill="#a66a6a"/>
<rect x="1466.21" y="258.53" width="27.16" height="26.84" fill="#af7070"/>
<rect x="1493.32" y="258.53" width="27.16" height="26.84" fill="#af7070"/>
<rect x="1520.42" y="258.53" width="27.16" height="26.84" fill="#dccba3"/>
<rect x="1547.53" y="258.53" width="27.16" height="26.84" fill="#af7070"/>
<rect x="1574.63" y="258.53" width="27.16" height="26.84" fill="#af7070"/>
<rect x="1601.74" y="258.53" width="27.16" height="26.84" fill="#2a0000"/>
<rect x="1628.84" y="258.53" width="27.16" height="26.84" fill="#a66a6a"/>
<rect x="1655.95" y="258.53" width="27.16" height="26.84" fill="#af7070"/>
<rect x="1683.05" y="258.53" width="27.16" height="26.84" fill="#a66a6a"/>
<rect x="1710.16" y="258.53" width="27.16" height="26.84" fill="#a66a6a"/>
<rect x="1737.26" y="258.53" width="27.16" height="26.84" fill="#af7070"/>
<rect x="1764.37" y="258.53" width="27.16" height="26.84" fill="#af7070"/>
<rect x="1791.47" y="258.53" width="27.16" height="26.84" fill="#9c6363"/>
<rect x="1818.58" y="258.53" width="27.16" height="26.84" fill="#cb9e8c"/>
<rect x="1845.68" y="258.53" width="27.16" height="26.84" fill="#a66a6a"/>
<rect x="1872.79" y="258.53" width="27.16" height="26.84" fill="#a66a6a"/>
<rect x="1899.89" y="258.53" width="27.16" height="26.84" fill="#c17c7c"/>
<rect x="1412" y="285.32" width="27.16" height="26.84" fill="#af7070"/>
<rect x="1439.11" y="285.32" width="27.16" height="26.84" fill="#b87676"/>
<rect x="1466.21" y="285.32" width="27.16" height="26.84" fill="#af7070"/>
<rect x="1493.32" y="285.32" width="27.16" height="26.84" fill="#b87676"/>
<rect x="1520.42" y="285.32" width="27.16" height="26.84" fill="#c89487"/>
<rect x="1547.53" y="285.32" width="27.16" height="26.84" fill="#cfa891"/>
<rect x="1574.63" y="285.32" width="27.16" height="26.84" fill="#cb9e8c"/>
<rect x="1601.74" y="285.32" width="27.16" height="26.84" fill="#c17c7c"/>
<rect x="1628.84" y="285.32" width="27.16" height="26.84" fill="#2a0000"/>
<rect x="1655.95" y="285.32" width="27.16" height="26.84" fill="#d5ba9a"/>
<rect x="1683.05" y="285.32" width="27.16" height="26.84" fill="#af7070"/>
<rect x="1710.16" y="285.32" width="27.16" height="26.84" fill="#b87676"/>
<rect x="1737.26" y="285.32" width="27.16" height="26.84" fill="#b87676"/>
<rect x="1764.37" y="285.32" width="27.16" height="26.84" fill="#af7070"/>
<rect x="1791.47" y="285.32" width="27.16" height="26.84" fill="#c89487"/>
<rect x="1818.58" y="285.32" width="27.16" height="26.84" fill="#b87676"/>
<rect x="1845.68" y="285.32" width="27.16" height="26.84" fill="#b87676"/>
<rect x="1872.79" y="285.32" width="27.16" height="26.84" fill="#b87676"/>
<rect x="1899.89" y="285.32" width="27.16" height="26.84" fill="#c89487"/>
<rect x="1412" y="312.11" width="27.16" height="26.84" fill="#af7070"/>
<rect x="1439.11" y="312.11" width="27.16" height="26.84" fill="#af7070"/>
<rect x="1466.21" y="312.11" width="27.16" height="26.84" fill="#b87676"/>
<rect x="1493.32" y="312.11" width="27.16" height="26.84" fill="#b87676"/>
<rect x="1520.42" y="312.11" width="27.16" height="26.84" fill="#cb9e8c"/>
<rect x="1547.53" y="312.11" width="27.16" height="26.84" fill="#cfa891"/>
<rect x="1574.63" y="312.11" width="27.16" height="26.84" fill="#af7070"/>
<rect x="1601.74" y="312.11" width="27.16" height="26.84" fill="#c17c7c"/>
<rect x="1628.84" y="312.11" width="27.16" height="26.84" fill="#d5ba9a"/>
<rect x="1655.95" y="312.11" width="27.16" height="26.84" fill="#2a0000"/>
<rect x="1683.05" y="312.11" width="27.16" height="26.84" fill="#af7070"/>
<rect x="1710.16" y="312.11" width="27.16" height="26.84" fill="#b87676"/>
<rect x="1737.26" y="312.11" width="27.16" height="26.84" fill="#af7070"/>
<rect x="1764.37" y="312.11" width="27.16" height="26.84" fill="#af7070"/>
<rect x="1791.47" y="312.11" width="27.16" height="26.84" fill="#b87676"/>
<rect x="1818.58" y="312.11" width="27.16" height="26.84" fill="#c89487"/>
<rect x="1845.68" y="312.11" width="27.16" height="26.84" fill="#b87676"/>
<rect x="1872.79" y="312.11" width="27.16" height="26.84" fill="#b87676"/>
<rect x="1899.89" y="312.11" width="27.16" height="26.84" fill="#c17c7c"/>
<rect x="1412" y="338.89" width="27.16" height="26.84" fill="#c17c7c"/>
<rect x="1439.11" y="338.89" width="27.16" height="26.84" fill="#c17c7c"/>
<rect x="1466.21" y="338.89" width="27.16" height="26.84" fill="#c17c7c"/>
<rect x="1493.32" y="338.89" width="27.16" height="26.84" fill="#b87676"/>
<rect x="1520.42" y="338.89" width="27.16" height="26.84" fill="#c48882"/>
<rect x="1547.53" y="338.89" width="27.16" height="26.84" fill="#cb9e8c"/>
<rect x="1574.63" y="338.89" width="27.16" height="26.84" fill="#c17c7c"/>
<rect x="1601.74" y="338.89" width="27.16" height="26.84" fill="#c17c7c"/>
<rect x="1628.84" y="338.89" width="27.16" height="26.84" fill="#af7070"/>
<rect x="1655.95" y="338.89" width="27.16" height="26.84" fill="#b87676"/>
<rect x="1683.05" y="338.89" width="27.16" height="26.84" fill="#2a0000"/>
<rect x="1710.16" y="338.89" width="27.16" height="26.84" fill="#c17c7c"/>
<rect x="1737.26" y="338.89" width="27.16" height="26.84" fill="#c89487"/>
<rect x="1764.37" y="338.89" width="27.16" height="26.84" fill="#af7070"/>
<rect x="1791.47" y="338.89" width="27.16" height="26.84" fill="#c17c7c"/>
<rect x="1818.58" y="338.89" width="27.16" height="26.84" fill="#af7070"/>
<rect x="1845.68" y="338.89" width="27.16" height="26.84" fill="#af7070"/>
<rect x="1872.79" y="338.89" width="27.16" height="26.84" fill="#b87676"/>
<rect x="1899.89" y="338.89" width="27.16" height="26.84" fill="#c48882"/>
<rect x="1412" y="365.68" width="27.16" height="26.84" fill="#af7070"/>
<rect x="1439.11" y="365.68" width="27.16" height="26.84" fill="#cb9e8c"/>
<rect x="1466.21" y="365.68" width="27.16" height="26.84" fill="#af7070"/>
<rect x="1493.32" y="365.68" width="27.16" height="26.84" fill="#cb9e8c"/>
<rect x="1520.42" y="365.68" width="27.16" height="26.84" fill="#cfa891"/>
<rect x="1547.53" y="365.68" width="27.16" height="26.84" fill="#c48882"/>
<rect x="1574.63" y="365.68" width="27.16" height="26.84" fill="#af7070"/>
<rect x="1601.74" y="365.68" width="27.16" height="26.84" fill="#c17c7c"/>
<rect x="1628.84" y="365.68" width="27.16" height="26.84" fill="#a66a6a"/>
<rect x="1655.95" y="365.68" width="27.16" height="26.84" fill="#af7070"/>
<rect x="1683.05" y="365.68" width="27.16" height="26.84" fill="#b87676"/>
<rect x="1710.16" y="365.68" width="27.16" height="26.84" fill="#2a0000"/>
<rect x="1737.26" y="365.68" width="27.16" height="26.84" fill="#b87676"/>
<rect x="1764.37" y="365.68" width="27.16" height="26.84" fill="#c89487"/>
<rect x="1791.47" y="365.68" width="27.16" height="26.84" fill="#af7070"/>
<rect x="1818.58" y="365.68" width="27.16" height="26.84" fill="#af7070"/>
<rect x="1845.68" y="365.68" width="27.16" height="26.84" fill="#af7070"/>
<rect x="1872.79" y="365.68" width="27.16" height="26.84" fill="#b87676"/>
<rect x="1899.89" y="365.68" width="27.16" height="26.84" fill="#c17c7c"/>
<rect x="1412" y="392.47" width="27.16" height="26.84" fill="#af7070"/>
<rect x="1439.11" y="392.47" width="27.16" height="26.84" fill="#af7070"/>
<rect x="1466.21" y="392.47" width="27.16" height="26.84" fill="#af7070"/>
<rect x="1493.32" y="392.47" width="27.16" height="26.84" fill="#af7070"/>
<rect x="1520.42" y="392.47" width="27.16" height="26.84" fill="#b87676"/>
<rect x="1547.53" y="392.47" width="27.16" height="26.84" fill="#d5ba9a"/>
<rect x="1574.63" y="392.47" width="27.16" height="26.84" fill="#c17c7c"/>
<rect x="1601.74" y="392.47" width="27.16" height="26.84" fill="#b87676"/>
<rect x="1628.84" y="392.47" width="27.16" height="26.84" fill="#a66a6a"/>
<rect x="1655.95" y="392.47" width="27.16" height="26.84" fill="#a66a6a"/>
<rect x="1683.05" y="392.47" width="27.16" height="26.84" fill="#c89487"/>
<rect x="1710.16" y="392.47" width="27.16" height="26.84" fill="#af7070"/>
<rect x="1737.26" y="392.47" width="27.16" height="26.84" fill="#2a0000"/>
<rect x="1764.37" y="392.47" width="27.16" height="26.84" fill="#af7070"/>
<rect x="1791.47" y="392.47" width="27.16" height="26.84" fill="#cfa891"/>
<rect x="1818.58" y="392.47" width="27.16" height="26.84" fill="#af7070"/>
<rect x="1845.68" y="392.47" width="27.16" height="26.84" fill="#af7070"/>
<rect x="1872.79" y="392.47" width="27.16" height="26.84" fill="#b87676"/>
<rect x="1899.89" y="392.47" width="27.16" height="26.84" fill="#c89487"/>
<rect x="1412" y="419.26" width="27.16" height="26.84" fill="#a66a6a"/>
<rect x="1439.11" y="419.26" width="27.16" height="26.84" fill="#af7070"/>
<rect x="1466.21" y="419.26" width="27.16" height="26.84" fill="#af7070"/>
<rect x="1493.32" y="419.26" width="27.16" height="26.84" fill="#b87676"/>
<rect x="1520.42" y="419.26" width="27.16" height="26.84" fill="#d5ba9a"/>
<rect x="1547.53" y="419.26" width="27.16" height="26.84" fill="#c17c7c"/>
<rect x="1574.63" y="419.26" width="27.16" height="26.84" fill="#af7070"/>
<rect x="1601.74" y="419.26" width="27.16" height="26.84" fill="#c48882"/>
<rect x="1628.84" y="419.26" width="27.16" height="26.84" fill="#a66a6a"/>
<rect x="1655.95" y="419.26" width="27.16" height="26.84" fill="#af7070"/>
<rect x="1683.05" y="419.26" width="27.16" height="26.84" fill="#af7070"/>
<rect x="1710.16" y="419.26" width="27.16" height="26.84" fill="#cfa891"/>
<rect x="1737.26" y="419.26" width="27.16" height="26.84" fill="#af7070"/>
<rect x="1764.37" y="419.26" width="27.16" height="26.84" fill="#2a0000"/>
<rect x="1791.47" y="419.26" width="27.16" height="26.84" fill="#af7070"/>
<rect x="1818.58" y="419.26" width="27.16" height="26.84" fill="#cfa891"/>
<rect x="1845.68" y="419.26" width="27.16" height="26.84" fill="#af7070"/>
<rect x="1872.79" y="419.26" width="27.16" height="26.84" fill="#af7070"/>
<rect x="1899.89" y="419.26" width="27.16" height="26.84" fill="#c17c7c"/>
<rect x="1412" y="446.05" width="27.16" height="26.84" fill="#af7070"/>
<rect x="1439.11" y="446.05" width="27.16" height="26.84" fill="#b87676"/>
<rect x="1466.21" y="446.05" width="27.16" height="26.84" fill="#b87676"/>
<rect x="1493.32" y="446.05" width="27.16" height="26.84" fill="#af7070"/>
<rect x="1520.42" y="446.05" width="27.16" height="26.84" fill="#c89487"/>
<rect x="1547.53" y="446.05" width="27.16" height="26.84" fill="#cb9e8c"/>
<rect x="1574.63" y="446.05" width="27.16" height="26.84" fill="#cb9e8c"/>
<rect x="1601.74" y="446.05" width="27.16" height="26.84" fill="#c17c7c"/>
<rect x="1628.84" y="446.05" width="27.16" height="26.84" fill="#c48882"/>
<rect x="1655.95" y="446.05" width="27.16" height="26.84" fill="#af7070"/>
<rect x="1683.05" y="446.05" width="27.16" height="26.84" fill="#b87676"/>
<rect x="1710.16" y="446.05" width="27.16" height="26.84" fill="#b87676"/>
<rect x="1737.26" y="446.05" width="27.16" height="26.84" fill="#cb9e8c"/>
<rect x="1764.37" y="446.05" width="27.16" height="26.84" fill="#af7070"/>
<rect x="1791.47" y="446.05" width="27.16" height="26.84" fill="#2a0000"/>
<rect x="1818.58" y="446.05" width="27.16" height="26.84" fill="#af7070"/>
<rect x="1845.68" y="446.05" width="27.16" height="26.84" fill="#af7070"/>
<rect x="1872.79" y="446.05" width="27.16" height="26.84" fill="#b87676"/>
<rect x="1899.89" y="446.05" width="27.16" height="26.84" fill="#c48882"/>
<rect x="1412" y="472.84" width="27.16" height="26.84" fill="#af7070"/>
<rect x="1439.11" y="472.84" width="27.16" height="26.84" fill="#b87676"/>
<rect x="1466.21" y="472.84" width="27.16" height="26.84" fill="#b87676"/>
<rect x="1493.32" y="472.84" width="27.16" height="26.84" fill="#c17c7c"/>
<rect x="1520.42" y="472.84" width="27.16" height="26.84" fill="#cb9e8c"/>
<rect x="1547.53" y="472.84" width="27.16" height="26.84" fill="#c89487"/>
<rect x="1574.63" y="472.84" width="27.16" height="26.84" fill="#b87676"/>
<rect x="1601.74" y="472.84" width="27.16" height="26.84" fill="#d5ba9a"/>
<rect x="1628.84" y="472.84" width="27.16" height="26.84" fill="#af7070"/>
<rect x="1655.95" y="472.84" width="27.16" height="26.84" fill="#c48882"/>
<rect x="1683.05" y="472.84" width="27.16" height="26.84" fill="#af7070"/>
<rect x="1710.16" y="472.84" width="27.16" height="26.84" fill="#b87676"/>
<rect x="1737.26" y="472.84" width="27.16" height="26.84" fill="#b87676"/>
<rect x="1764.37" y="472.84" width="27.16" height="26.84" fill="#c89487"/>
<rect x="1791.47" y="472.84" width="27.16" height="26.84" fill="#af7070"/>
<rect x="1818.58" y="472.84" width="27.16" height="26.84" fill="#2a0000"/>
<rect x="1845.68" y="472.84" width="27.16" height="26.84" fill="#af7070"/>
<rect x="1872.79" y="472.84" width="27.16" height="26.84" fill="#af7070"/>
<rect x="1899.89" y="472.84" width="27.16" height="26.84" fill="#c17c7c"/>
<rect x="1412" y="499.63" width="27.16" height="26.84" fill="#af7070"/>
<rect x="1439.11" y="499.63" width="27.16" height="26.84" fill="#af7070"/>
<rect x="1466.21" y="499.63" width="27.16" height="26.84" fill="#c17c7c"/>
<rect x="1493.32" y="499.63" width="27.16" height="26.84" fill="#c17c7c"/>
<rect x="1520.42" y="499.63" width="27.16" height="26.84" fill="#c17c7c"/>
<rect x="1547.53" y="499.63" width="27.16" height="26.84" fill="#cb9e8c"/>
<rect x="1574.63" y="499.63" width="27.16" height="26.84" fill="#c17c7c"/>
<rect x="1601.74" y="499.63" width="27.16" height="26.84" fill="#b87676"/>
<rect x="1628.84" y="499.63" width="27.16" height="26.84" fill="#9c6363"/>
<rect x="1655.95" y="499.63" width="27.16" height="26.84" fill="#a66a6a"/>
<rect x="1683.05" y="499.63" width="27.16" height="26.84" fill="#a66a6a"/>
<rect x="1710.16" y="499.63" width="27.16" height="26.84" fill="#af7070"/>
<rect x="1737.26" y="499.63" width="27.16" height="26.84" fill="#b87676"/>
<rect x="1764.37" y="499.63" width="27.16" height="26.84" fill="#b87676"/>
<rect x="1791.47" y="499.63" width="27.16" height="26.84" fill="#a66a6a"/>
<rect x="1818.58" y="499.63" width="27.16" height="26.84" fill="#a66a6a"/>
<rect x="1845.68" y="499.63" width="27.16" height="26.84" fill="#2a0000"/>
<rect x="1872.79" y="499.63" width="27.16" height="26.84" fill="#b87676"/>
<rect x="1899.89" y="499.63" width="27.16" height="26.84" fill="#c17c7c"/>
<rect x="1412" y="526.42" width="27.16" height="26.84" fill="#9c6363"/>
<rect x="1439.11" y="526.42" width="27.16" height="26.84" fill="#a66a6a"/>
<rect x="1466.21" y="526.42" width="27.16" height="26.84" fill="#9c6363"/>
<rect x="1493.32" y="526.42" width="27.16" height="26.84" fill="#a66a6a"/>
<rect x="1520.42" y="526.42" width="27.16" height="26.84" fill="#af7070"/>
<rect x="1547.53" y="526.42" width="27.16" height="26.84" fill="#c17c7c"/>
<rect x="1574.63" y="526.42" width="27.16" height="26.84" fill="#af7070"/>
<rect x="1601.74" y="526.42" width="27.16" height="26.84" fill="#af7070"/>
<rect x="1628.84" y="526.42" width="27.16" height="26.84" fill="#a66a6a"/>
<rect x="1655.95" y="526.42" width="27.16" height="26.84" fill="#9c6363"/>
<rect x="1683.05" y="526.42" width="27.16" height="26.84" fill="#9c6363"/>
<rect x="1710.16" y="526.42" width="27.16" height="26.84" fill="#a66a6a"/>
<rect x="1737.26" y="526.42" width="27.16" height="26.84" fill="#af7070"/>
<rect x="1764.37" y="526.42" width="27.16" height="26.84" fill="#a66a6a"/>
<rect x="1791.47" y="526.42" width="27.16" height="26.84" fill="#9c6363"/>
<rect x="1818.58" y="526.42" width="27.16" height="26.84" fill="#a66a6a"/>
<rect x="1845.68" y="526.42" width="27.16" height="26.84" fill="#c17c7c"/>
<rect x="1872.79" y="526.42" width="27.16" height="26.84" fill="#2a0000"/>
<rect x="1899.89" y="526.42" width="27.16" height="26.84" fill="#a66a6a"/>
<rect x="1412" y="553.21" width="27.16" height="26.84" fill="#9c6363"/>
<rect x="1439.11" y="553.21" width="27.16" height="26.84" fill="#9c6363"/>
<rect x="1466.21" y="553.21" width="27.16" height="26.84" fill="#a66a6a"/>
<rect x="1493.32" y="553.21" width="27.16" height="26.84" fill="#a66a6a"/>
<rect x="1520.42" y="553.21" width="27.16" height="26.84" fill="#c48882"/>
<rect x="1547.53" y="553.21" width="27.16" height="26.84" fill="#c48882"/>
<rect x="1574.63" y="553.21" width="27.16" height="26.84" fill="#af7070"/>
<rect x="1601.74" y="553.21" width="27.16" height="26.84" fill="#c17c7c"/>
<rect x="1628.84" y="553.21" width="27.16" height="26.84" fill="#af7070"/>
<rect x="1655.95" y="553.21" width="27.16" height="26.84" fill="#af7070"/>
<rect x="1683.05" y="553.21" width="27.16" height="26.84" fill="#9c6363"/>
<rect x="1710.16" y="553.21" width="27.16" height="26.84" fill="#9c6363"/>
<rect x="1737.26" y="553.21" width="27.16" height="26.84" fill="#a66a6a"/>
<rect x="1764.37" y="553.21" width="27.16" height="26.84" fill="#9c6363"/>
<rect x="1791.47" y="553.21" width="27.16" height="26.84" fill="#9c6363"/>
<rect x="1818.58" y="553.21" width="27.16" height="26.84" fill="#a66a6a"/>
<rect x="1845.68" y="553.21" width="27.16" height="26.84" fill="#9c6363"/>
<rect x="1872.79" y="553.21" width="27.16" height="26.84" fill="#9c6363"/>
<rect x="1899.89" y="553.21" width="27.16" height="26.84" fill="#2a0000"/>
<line x1="1439.11" y1="71" x2="1439.11" y2="580" class="g"/>
<line x1="1412" y1="97.79" x2="1927" y2="97.79" class="g"/>
<line x1="1466.21" y1="71" x2="1466.21" y2="580" class="g"/>
<line x1="1412" y1="124.58" x2="1927" y2="124.58" class="g"/>
<line x1="1493.32" y1="71" x2="1493.32" y2="580" class="g"/>
<line x1="1412" y1="151.37" x2="1927" y2="151.37" class="g"/>
<line x1="1520.42" y1="71" x2="1520.42" y2="580" class="g"/>
<line x1="1412" y1="178.16" x2="1927" y2="178.16" class="g"/>
<line x1="1547.53" y1="71" x2="1547.53" y2="580" class="g"/>
<line x1="1412" y1="204.95" x2="1927" y2="204.95" class="g"/>
<line x1="1574.63" y1="71" x2="1574.63" y2="580" class="g"/>
<line x1="1412" y1="231.74" x2="1927" y2="231.74" class="g"/>
<line x1="1601.74" y1="71" x2="1601.74" y2="580" class="g"/>
<line x1="1412" y1="258.53" x2="1927" y2="258.53" class="g"/>
<line x1="1628.84" y1="71" x2="1628.84" y2="580" class="g"/>
<line x1="1412" y1="285.32" x2="1927" y2="285.32" class="g"/>
<line x1="1655.95" y1="71" x2="1655.95" y2="580" class="g"/>
<line x1="1412" y1="312.11" x2="1927" y2="312.11" class="g"/>
<line x1="1683.05" y1="71" x2="1683.05" y2="580" class="g"/>
<line x1="1412" y1="338.89" x2="1927" y2="338.89" class="g"/>
<line x1="1710.16" y1="71" x2="1710.16" y2="580" class="g"/>
<line x1="1412" y1="365.68" x2="1927" y2="365.68" class="g"/>
<line x1="1737.26" y1="71" x2="1737.26" y2="580" class="g"/>
<line x1="1412" y1="392.47" x2="1927" y2="392.47" class="g"/>
<line x1="1764.37" y1="71" x2="1764.37" y2="580" class="g"/>
<line x1="1412" y1="419.26" x2="1927" y2="419.26" class="g"/>
<line x1="1791.47" y1="71" x2="1791.47" y2="580" class="g"/>
<line x1="1412" y1="446.05" x2="1927" y2="446.05" class="g"/>
<line x1="1818.58" y1="71" x2="1818.58" y2="580" class="g"/>
<line x1="1412" y1="472.84" x2="1927" y2="472.84" class="g"/>
<line x1="1845.68" y1="71" x2="1845.68" y2="580" class="g"/>
<line x1="1412" y1="499.63" x2="1927" y2="499.63" class="g"/>
<line x1="1872.79" y1="71" x2="1872.79" y2="580" class="g"/>
<line x1="1412" y1="526.42" x2="1927" y2="526.42" class="g"/>
<line x1="1899.89" y1="71" x2="1899.89" y2="580" class="g"/>
<line x1="1412" y1="553.21" x2="1927" y2="553.21" class="g"/>
<line x1="1425.55" y1="69.4" x2="1425.55" y2="71" class="t"/>
<line x1="1425.55" y1="580" x2="1425.55" y2="581.6" class="t"/>
<line x1="1410.4" y1="84.39" x2="1412" y2="84.39" class="t"/>
<line x1="1927" y1="84.39" x2="1928.6" y2="84.39" class="t"/>
<line x1="1452.66" y1="69.4" x2="1452.66" y2="71" class="t"/>
<line x1="1452.66" y1="580" x2="1452.66" y2="581.6" class="t"/>
<line x1="1410.4" y1="111.18" x2="1412" y2="111.18" class="t"/>
<line x1="1927" y1="111.18" x2="1928.6" y2="111.18" class="t"/>
<line x1="1479.76" y1="69.4" x2="1479.76" y2="71" class="t"/>
<line x1="1479.76" y1="580" x2="1479.76" y2="581.6" class="t"/>
<line x1="1410.4" y1="137.97" x2="1412" y2="137.97" class="t"/>
<line x1="1927" y1="137.97" x2="1928.6" y2="137.97" class="t"/>
<line x1="1506.87" y1="69.4" x2="1506.87" y2="71" class="t"/>
<line x1="1506.87" y1="580" x2="1506.87" y2="581.6" class="t"/>
<line x1="1410.4" y1="164.76" x2="1412" y2="164.76" class="t"/>
<line x1="1927" y1="164.76" x2="1928.6" y2="164.76" class="t"/>
<line x1="1533.97" y1="69.4" x2="1533.97" y2="71" class="t"/>
<line x1="1533.97" y1="580" x2="1533.97" y2="581.6" class="t"/>
<line x1="1410.4" y1="191.55" x2="1412" y2="191.55" class="t"/>
<line x1="1927" y1="191.55" x2="1928.6" y2="191.55" class="t"/>
<line x1="1561.08" y1="69.4" x2="1561.08" y2="71" class="t"/>
<line x1="1561.08" y1="580" x2="1561.08" y2="581.6" class="t"/>
<line x1="1410.4" y1="218.34" x2="1412" y2="218.34" class="t"/>
<line x1="1927" y1="218.34" x2="1928.6" y2="218.34" class="t"/>
<line x1="1588.18" y1="69.4" x2="1588.18" y2="71" class="t"/>
<line x1="1588.18" y1="580" x2="1588.18" y2="581.6" class="t"/>
<line x1="1410.4" y1="245.13" x2="1412" y2="245.13" class="t"/>
<line x1="1927" y1="245.13" x2="1928.6" y2="245.13" class="t"/>
<line x1="1615.29" y1="69.4" x2="1615.29" y2="71" class="t"/>
<line x1="1615.29" y1="580" x2="1615.29" y2="581.6" class="t"/>
<line x1="1410.4" y1="271.92" x2="1412" y2="271.92" class="t"/>
<line x1="1927" y1="271.92" x2="1928.6" y2="271.92" class="t"/>
<line x1="1642.39" y1="69.4" x2="1642.39" y2="71" class="t"/>
<line x1="1642.39" y1="580" x2="1642.39" y2="581.6" class="t"/>
<line x1="1410.4" y1="298.71" x2="1412" y2="298.71" class="t"/>
<line x1="1927" y1="298.71" x2="1928.6" y2="298.71" class="t"/>
<line x1="1669.5" y1="69.4" x2="1669.5" y2="71" class="t"/>
<line x1="1669.5" y1="580" x2="1669.5" y2="581.6" class="t"/>
<line x1="1410.4" y1="325.5" x2="1412" y2="325.5" class="t"/>
<line x1="1927" y1="325.5" x2="1928.6" y2="325.5" class="t"/>
<line x1="1696.61" y1="69.4" x2="1696.61" y2="71" class="t"/>
<line x1="1696.61" y1="580" x2="1696.61" y2="581.6" class="t"/>
<line x1="1410.4" y1="352.29" x2="1412" y2="352.29" class="t"/>
<line x1="1927" y1="352.29" x2="1928.6" y2="352.29" class="t"/>
<line x1="1723.71" y1="69.4" x2="1723.71" y2="71" class="t"/>
<line x1="1723.71" y1="580" x2="1723.71" y2="581.6" class="t"/>
<line x1="1410.4" y1="379.08" x2="1412" y2="379.08" class="t"/>
<line x1="1927" y1="379.08" x2="1928.6" y2="379.08" class="t"/>
<line x1="1750.82" y1="69.4" x2="1750.82" y2="71" class="t"/>
<line x1="1750.82" y1="580" x2="1750.82" y2="581.6" class="t"/>
<line x1="1410.4" y1="405.87" x2="1412" y2="405.87" class="t"/>
<line x1="1927" y1="405.87" x2="1928.6" y2="405.87" class="t"/>
<line x1="1777.92" y1="69.4" x2="1777.92" y2="71" class="t"/>
<line x1="1777.92" y1="580" x2="1777.92" y2="581.6" class="t"/>
<line x1="1410.4" y1="432.66" x2="1412" y2="432.66" class="t"/>
<line x1="1927" y1="432.66" x2="1928.6" y2="432.66" class="t"/>
<line x1="1805.03" y1="69.4" x2="1805.03" y2="71" class="t"/>
<line x1="1805.03" y1="580" x2="1805.03" y2="581.6" class="t"/>
<line x1="1410.4" y1="459.45" x2="1412" y2="459.45" class="t"/>
<line x1="1927" y1="459.45" x2="1928.6" y2="459.45" class="t"/>
<line x1="1832.13" y1="69.4" x2="1832.13" y2="71" class="t"/>
<line x1="1832.13" y1="580" x2="1832.13" y2="581.6" class="t"/>
<line x1="1410.4" y1="486.24" x2="1412" y2="486.24" class="t"/>
<line x1="1927" y1="486.24" x2="1928.6" y2="486.24" class="t"/>
<line x1="1859.24" y1="69.4" x2="1859.24" y2="71" class="t"/>
<line x1="1859.24" y1="580" x2="1859.24" y2="581.6" class="t"/>
<line x1="1410.4" y1="513.03" x2="1412" y2="513.03" class="t"/>
<line x1="1927" y1="513.03" x2="1928.6" y2="513.03" class="t"/>
<line x1="1886.34" y1="69.4" x2="1886.34" y2="71" class="t"/>
<line x1="1886.34" y1="580" x2="1886.34" y2="581.6" class="t"/>
<line x1="1410.4" y1="539.82" x2="1412" y2="539.82" class="t"/>
<line x1="1927" y1="539.82" x2="1928.6" y2="539.82" class="t"/>
<line x1="1913.45" y1="69.4" x2="1913.45" y2="71" class="t"/>
<line x1="1913.45" y1="580" x2="1913.45" y2="581.6" class="t"/>
<line x1="1410.4" y1="566.61" x2="1412" y2="566.61" class="t"/>
<line x1="1927" y1="566.61" x2="1928.6" y2="566.61" class="t"/>
<line x1="1412" y1="70.5" x2="1927" y2="70.5" class="b"/>
<rect x="1937" y="564.39" width="18" height="15.96" fill="#2a0000"/>
<rect x="1937" y="548.49" width="18" height="15.96" fill="#472525"/>
<rect x="1937" y="532.58" width="18" height="15.96" fill="#5b3535"/>
<rect x="1937" y="516.67" width="18" height="15.96" fill="#6b4141"/>
<rect x="1937" y="500.77" width="18" height="15.96" fill="#794b4b"/>
<rect x="1937" y="484.86" width="18" height="15.96" fill="#865454"/>
<rect x="1937" y="468.96" width="18" height="15.96" fill="#915c5c"/>
<rect x="1937" y="453.05" width="18" height="15.96" fill="#9c6363"/>
<rect x="1937" y="437.14" width="18" height="15.96" fill="#a66a6a"/>
<rect x="1937" y="421.24" width="18" height="15.96" fill="#af7070"/>
<rect x="1937" y="405.33" width="18" height="15.96" fill="#b87676"/>
<rect x="1937" y="389.42" width="18" height="15.96" fill="#c17c7c"/>
<rect x="1937" y="373.52" width="18" height="15.96" fill="#c48882"/>
<rect x="1937" y="357.61" width="18" height="15.96" fill="#c89487"/>
<rect x="1937" y="341.71" width="18" height="15.96" fill="#cb9e8c"/>
<rect x="1937" y="325.8" width="18" height="15.96" fill="#cfa891"/>
<rect x="1937" y="309.89" width="18" height="15.96" fill="#d2b196"/>
<rect x="1937" y="293.99" width="18" height="15.96" fill="#d5ba9a"/>
<rect x="1937" y="278.08" width="18" height="15.96" fill="#d8c29f"/>
<rect x="1937" y="262.18" width="18" height="15.96" fill="#dccba3"/>
<rect x="1937" y="246.27" width="18" height="15.96" fill="#dfd2a7"/>
<rect x="1937" y="230.36" width="18" height="15.96" fill="#e2daab"/>
<rect x="1937" y="214.46" width="18" height="15.96" fill="#e5e1af"/>
<rect x="1937" y="198.55" width="18" height="15.96" fill="#e8e8b3"/>
<rect x="1937" y="182.64" width="18" height="15.96" fill="#ebebbe"/>
<rect x="1937" y="166.74" width="18" height="15.96" fill="#eeeec9"/>
<rect x="1937" y="150.83" width="18" height="15.96" fill="#f1f1d3"/>
<rect x="1937" y="134.93" width="18" height="15.96" fill="#f4f4dc"/>
<rect x="1937" y="119.02" width="18" height="15.96" fill="#f7f7e6"/>
<rect x="1937" y="103.11" width="18" height="15.96" fill="#f9f9ee"/>
<rect x="1937" y="87.21" width="18" height="15.96" fill="#fcfcf7"/>
<rect x="1937" y="71.3" width="18" height="15.96" fill="#ffffff"/>
<line x1="1937.5" y1="71.3" x2="1937.5" y2="580.3" class="cbl"/>
<line x1="1954.5" y1="71.3" x2="1954.5" y2="580.3" class="cbr"/>
<line x1="1937" y1="72.1" x2="1955" y2="72.1" class="cbt"/>
<line x1="1951" y1="581.5" x2="1955" y2="581.5" class="ct"/>
<line x1="1951" y1="523.63" x2="1955" y2="523.63" class="ct"/>
<line x1="1951" y1="465.76" x2="1955" y2="465.76" class="ct"/>
<line x1="1951" y1="407.89" x2="1955" y2="407.89" class="ct"/>
<line x1="1951" y1="350.02" x2="1955" y2="350.02" class="ct"/>
<line x1="1951" y1="292.15" x2="1955" y2="292.15" class="ct"/>
<line x1="1951" y1="234.28" x2="1955" y2="234.28" class="ct"/>
<line x1="1951" y1="176.41" x2="1955" y2="176.41" class="ct"/>
<line x1="1951" y1="118.54" x2="1955" y2="118.54" class="ct"/>
<rect x="48.8" y="771.8" width="27.07" height="26.69" fill="#2a0000"/>
<rect x="75.82" y="771.8" width="27.07" height="26.69" fill="#cfa891"/>
<rect x="102.84" y="771.8" width="27.07" height="26.69" fill="#d8c29f"/>
<rect x="129.86" y="771.8" width="27.07" height="26.69" fill="#d5ba9a"/>
<rect x="156.88" y="771.8" width="27.07" height="26.69" fill="#af7070"/>
<rect x="183.91" y="771.8" width="27.07" height="26.69" fill="#a66a6a"/>
<rect x="210.93" y="771.8" width="27.07" height="26.69" fill="#cb9e8c"/>
<rect x="237.95" y="771.8" width="27.07" height="26.69" fill="#c89487"/>
<rect x="264.97" y="771.8" width="27.07" height="26.69" fill="#c48882"/>
<rect x="291.99" y="771.8" width="27.07" height="26.69" fill="#af7070"/>
<rect x="319.01" y="771.8" width="27.07" height="26.69" fill="#cfa891"/>
<rect x="346.03" y="771.8" width="27.07" height="26.69" fill="#d5ba9a"/>
<rect x="373.05" y="771.8" width="27.07" height="26.69" fill="#cb9e8c"/>
<rect x="400.07" y="771.8" width="27.07" height="26.69" fill="#c17c7c"/>
<rect x="427.09" y="771.8" width="27.07" height="26.69" fill="#c17c7c"/>
<rect x="454.12" y="771.8" width="27.07" height="26.69" fill="#c48882"/>
<rect x="481.14" y="771.8" width="27.07" height="26.69" fill="#ebebbe"/>
<rect x="508.16" y="771.8" width="27.07" height="26.69" fill="#e8e8b3"/>
<rect x="535.18" y="771.8" width="27.07" height="26.69" fill="#f9f9ee"/>
<rect x="48.8" y="798.44" width="27.07" height="26.69" fill="#e8e8b3"/>
<rect x="75.82" y="798.44" width="27.07" height="26.69" fill="#2a0000"/>
<rect x="102.84" y="798.44" width="27.07" height="26.69" fill="#cb9e8c"/>
<rect x="129.86" y="798.44" width="27.07" height="26.69" fill="#d8c29f"/>
<rect x="156.88" y="798.44" width="27.07" height="26.69" fill="#af7070"/>
<rect x="183.91" y="798.44" width="27.07" height="26.69" fill="#af7070"/>
<rect x="210.93" y="798.44" width="27.07" height="26.69" fill="#cb9e8c"/>
<rect x="237.95" y="798.44" width="27.07" height="26.69" fill="#cb9e8c"/>
<rect x="264.97" y="798.44" width="27.07" height="26.69" fill="#c48882"/>
<rect x="291.99" y="798.44" width="27.07" height="26.69" fill="#b87676"/>
<rect x="319.01" y="798.44" width="27.07" height="26.69" fill="#cfa891"/>
<rect x="346.03" y="798.44" width="27.07" height="26.69" fill="#e5e1af"/>
<rect x="373.05" y="798.44" width="27.07" height="26.69" fill="#cb9e8c"/>
<rect x="400.07" y="798.44" width="27.07" height="26.69" fill="#c48882"/>
<rect x="427.09" y="798.44" width="27.07" height="26.69" fill="#c17c7c"/>
<rect x="454.12" y="798.44" width="27.07" height="26.69" fill="#c89487"/>
<rect x="481.14" y="798.44" width="27.07" height="26.69" fill="#e8e8b3"/>
<rect x="508.16" y="798.44" width="27.07" height="26.69" fill="#e2daab"/>
<rect x="535.18" y="798.44" width="27.07" height="26.69" fill="#e8e8b3"/>
<rect x="48.8" y="825.07" width="27.07" height="26.69" fill="#d5ba9a"/>
<rect x="75.82" y="825.07" width="27.07" height="26.69" fill="#c89487"/>
<rect x="102.84" y="825.07" width="27.07" height="26.69" fill="#2a0000"/>
<rect x="129.86" y="825.07" width="27.07" height="26.69" fill="#d5ba9a"/>
<rect x="156.88" y="825.07" width="27.07" height="26.69" fill="#af7070"/>
<rect x="183.91" y="825.07" width="27.07" height="26.69" fill="#b87676"/>
<rect x="210.93" y="825.07" width="27.07" height="26.69" fill="#cb9e8c"/>
<rect x="237.95" y="825.07" width="27.07" height="26.69" fill="#cb9e8c"/>
<rect x="264.97" y="825.07" width="27.07" height="26.69" fill="#c17c7c"/>
<rect x="291.99" y="825.07" width="27.07" height="26.69" fill="#af7070"/>
<rect x="319.01" y="825.07" width="27.07" height="26.69" fill="#cb9e8c"/>
<rect x="346.03" y="825.07" width="27.07" height="26.69" fill="#d5ba9a"/>
<rect x="373.05" y="825.07" width="27.07" height="26.69" fill="#c48882"/>
<rect x="400.07" y="825.07" width="27.07" height="26.69" fill="#c48882"/>
<rect x="427.09" y="825.07" width="27.07" height="26.69" fill="#c17c7c"/>
<rect x="454.12" y="825.07" width="27.07" height="26.69" fill="#c48882"/>
<rect x="481.14" y="825.07" width="27.07" height="26.69" fill="#f1f1d3"/>
<rect x="508.16" y="825.07" width="27.07" height="26.69" fill="#dfd2a7"/>
<rect x="535.18" y="825.07" width="27.07" height="26.69" fill="#e2daab"/>
<rect x="48.8" y="851.71" width="27.07" height="26.69" fill="#dfd2a7"/>
<rect x="75.82" y="851.71" width="27.07" height="26.69" fill="#cfa891"/>
<rect x="102.84" y="851.71" width="27.07" height="26.69" fill="#cb9e8c"/>
<rect x="129.86" y="851.71" width="27.07" height="26.69" fill="#2a0000"/>
<rect x="156.88" y="851.71" width="27.07" height="26.69" fill="#b87676"/>
<rect x="183.91" y="851.71" width="27.07" height="26.69" fill="#9c6363"/>
<rect x="210.93" y="851.71" width="27.07" height="26.69" fill="#cb9e8c"/>
<rect x="237.95" y="851.71" width="27.07" height="26.69" fill="#c48882"/>
<rect x="264.97" y="851.71" width="27.07" height="26.69" fill="#c17c7c"/>
<rect x="291.99" y="851.71" width="27.07" height="26.69" fill="#af7070"/>
<rect x="319.01" y="851.71" width="27.07" height="26.69" fill="#cfa891"/>
<rect x="346.03" y="851.71" width="27.07" height="26.69" fill="#dccba3"/>
<rect x="373.05" y="851.71" width="27.07" height="26.69" fill="#c89487"/>
<rect x="400.07" y="851.71" width="27.07" height="26.69" fill="#c17c7c"/>
<rect x="427.09" y="851.71" width="27.07" height="26.69" fill="#c17c7c"/>
<rect x="454.12" y="851.71" width="27.07" height="26.69" fill="#c48882"/>
<rect x="481.14" y="851.71" width="27.07" height="26.69" fill="#ebebbe"/>
<rect x="508.16" y="851.71" width="27.07" height="26.69" fill="#e5e1af"/>
<rect x="535.18" y="851.71" width="27.07" height="26.69" fill="#ebebbe"/>
<rect x="48.8" y="878.35" width="27.07" height="26.69" fill="#cb9e8c"/>
<rect x="75.82" y="878.35" width="27.07" height="26.69" fill="#c17c7c"/>
<rect x="102.84" y="878.35" width="27.07" height="26.69" fill="#c89487"/>
<rect x="129.86" y="878.35" width="27.07" height="26.69" fill="#dfd2a7"/>
<rect x="156.88" y="878.35" width="27.07" height="26.69" fill="#2a0000"/>
<rect x="183.91" y="878.35" width="27.07" height="26.69" fill="#d8c29f"/>
<rect x="210.93" y="878.35" width="27.07" height="26.69" fill="#cb9e8c"/>
<rect x="237.95" y="878.35" width="27.07" height="26.69" fill="#c89487"/>
<rect x="264.97" y="878.35" width="27.07" height="26.69" fill="#b87676"/>
<rect x="291.99" y="878.35" width="27.07" height="26.69" fill="#a66a6a"/>
<rect x="319.01" y="878.35" width="27.07" height="26.69" fill="#c48882"/>
<rect x="346.03" y="878.35" width="27.07" height="26.69" fill="#cb9e8c"/>
<rect x="373.05" y="878.35" width="27.07" height="26.69" fill="#c89487"/>
<rect x="400.07" y="878.35" width="27.07" height="26.69" fill="#c48882"/>
<rect x="427.09" y="878.35" width="27.07" height="26.69" fill="#b87676"/>
<rect x="454.12" y="878.35" width="27.07" height="26.69" fill="#b87676"/>
<rect x="481.14" y="878.35" width="27.07" height="26.69" fill="#dccba3"/>
<rect x="508.16" y="878.35" width="27.07" height="26.69" fill="#d8c29f"/>
<rect x="535.18" y="878.35" width="27.07" height="26.69" fill="#d5ba9a"/>
<rect x="48.8" y="904.98" width="27.07" height="26.69" fill="#c89487"/>
<rect x="75.82" y="904.98" width="27.07" height="26.69" fill="#c17c7c"/>
<rect x="102.84" y="904.98" width="27.07" height="26.69" fill="#c89487"/>
<rect x="129.86" y="904.98" width="27.07" height="26.69" fill="#dccba3"/>
<rect x="156.88" y="904.98" width="27.07" height="26.69" fill="#d8c29f"/>
<rect x="183.91" y="904.98" width="27.07" height="26.69" fill="#2a0000"/>
<rect x="210.93" y="904.98" width="27.07" height="26.69" fill="#cb9e8c"/>
<rect x="237.95" y="904.98" width="27.07" height="26.69" fill="#c89487"/>
<rect x="264.97" y="904.98" width="27.07" height="26.69" fill="#b87676"/>
<rect x="291.99" y="904.98" width="27.07" height="26.69" fill="#a66a6a"/>
<rect x="319.01" y="904.98" width="27.07" height="26.69" fill="#c17c7c"/>
<rect x="346.03" y="904.98" width="27.07" height="26.69" fill="#cb9e8c"/>
<rect x="373.05" y="904.98" width="27.07" height="26.69" fill="#c89487"/>
<rect x="400.07" y="904.98" width="27.07" height="26.69" fill="#c17c7c"/>
<rect x="427.09" y="904.98" width="27.07" height="26.69" fill="#af7070"/>
<rect x="454.12" y="904.98" width="27.07" height="26.69" fill="#b87676"/>
<rect x="481.14" y="904.98" width="27.07" height="26.69" fill="#d8c29f"/>
<rect x="508.16" y="904.98" width="27.07" height="26.69" fill="#d5ba9a"/>
<rect x="535.18" y="904.98" width="27.07" height="26.69" fill="#d5ba9a"/>
<rect x="48.8" y="931.62" width="27.07" height="26.69" fill="#cb9e8c"/>
<rect x="75.82" y="931.62" width="27.07" height="26.69" fill="#c48882"/>
<rect x="102.84" y="931.62" width="27.07" height="26.69" fill="#c48882"/>
<rect x="129.86" y="931.62" width="27.07" height="26.69" fill="#cfa891"/>
<rect x="156.88" y="931.62" width="27.07" height="26.69" fill="#a66a6a"/>
<rect x="183.91" y="931.62" width="27.07" height="26.69" fill="#c17c7c"/>
<rect x="210.93" y="931.62" width="27.07" height="26.69" fill="#2a0000"/>
<rect x="237.95" y="931.62" width="27.07" height="26.69" fill="#c48882"/>
<rect x="264.97" y="931.62" width="27.07" height="26.69" fill="#c48882"/>
<rect x="291.99" y="931.62" width="27.07" height="26.69" fill="#af7070"/>
<rect x="319.01" y="931.62" width="27.07" height="26.69" fill="#cb9e8c"/>
<rect x="346.03" y="931.62" width="27.07" height="26.69" fill="#cfa891"/>
<rect x="373.05" y="931.62" width="27.07" height="26.69" fill="#c89487"/>
<rect x="400.07" y="931.62" width="27.07" height="26.69" fill="#c48882"/>
<rect x="427.09" y="931.62" width="27.07" height="26.69" fill="#c48882"/>
<rect x="454.12" y="931.62" width="27.07" height="26.69" fill="#c17c7c"/>
<rect x="481.14" y="931.62" width="27.07" height="26.69" fill="#dccba3"/>
<rect x="508.16" y="931.62" width="27.07" height="26.69" fill="#dccba3"/>
<rect x="535.18" y="931.62" width="27.07" height="26.69" fill="#dfd2a7"/>
<rect x="48.8" y="958.26" width="27.07" height="26.69" fill="#d5ba9a"/>
<rect x="75.82" y="958.26" width="27.07" height="26.69" fill="#c89487"/>
<rect x="102.84" y="958.26" width="27.07" height="26.69" fill="#cb9e8c"/>
<rect x="129.86" y="958.26" width="27.07" height="26.69" fill="#cb9e8c"/>
<rect x="156.88" y="958.26" width="27.07" height="26.69" fill="#c89487"/>
<rect x="183.91" y="958.26" width="27.07" height="26.69" fill="#af7070"/>
<rect x="210.93" y="958.26" width="27.07" height="26.69" fill="#c89487"/>
<rect x="237.95" y="958.26" width="27.07" height="26.69" fill="#2a0000"/>
<rect x="264.97" y="958.26" width="27.07" height="26.69" fill="#b87676"/>
<rect x="291.99" y="958.26" width="27.07" height="26.69" fill="#b87676"/>
<rect x="319.01" y="958.26" width="27.07" height="26.69" fill="#c89487"/>
<rect x="346.03" y="958.26" width="27.07" height="26.69" fill="#cfa891"/>
<rect x="373.05" y="958.26" width="27.07" height="26.69" fill="#c89487"/>
<rect x="400.07" y="958.26" width="27.07" height="26.69" fill="#c17c7c"/>
<rect x="427.09" y="958.26" width="27.07" height="26.69" fill="#b87676"/>
<rect x="454.12" y="958.26" width="27.07" height="26.69" fill="#c48882"/>
<rect x="481.14" y="958.26" width="27.07" height="26.69" fill="#e5e1af"/>
<rect x="508.16" y="958.26" width="27.07" height="26.69" fill="#e2daab"/>
<rect x="535.18" y="958.26" width="27.07" height="26.69" fill="#e8e8b3"/>
<rect x="48.8" y="984.89" width="27.07" height="26.69" fill="#d5ba9a"/>
<rect x="75.82" y="984.89" width="27.07" height="26.69" fill="#c89487"/>
<rect x="102.84" y="984.89" width="27.07" height="26.69" fill="#c48882"/>
<rect x="129.86" y="984.89" width="27.07" height="26.69" fill="#d5ba9a"/>
<rect x="156.88" y="984.89" width="27.07" height="26.69" fill="#a66a6a"/>
<rect x="183.91" y="984.89" width="27.07" height="26.69" fill="#af7070"/>
<rect x="210.93" y="984.89" width="27.07" height="26.69" fill="#cfa891"/>
<rect x="237.95" y="984.89" width="27.07" height="26.69" fill="#c89487"/>
<rect x="264.97" y="984.89" width="27.07" height="26.69" fill="#2a0000"/>
<rect x="291.99" y="984.89" width="27.07" height="26.69" fill="#cfa891"/>
<rect x="319.01" y="984.89" width="27.07" height="26.69" fill="#cfa891"/>
<rect x="346.03" y="984.89" width="27.07" height="26.69" fill="#cfa891"/>
<rect x="373.05" y="984.89" width="27.07" height="26.69" fill="#c89487"/>
<rect x="400.07" y="984.89" width="27.07" height="26.69" fill="#c17c7c"/>
<rect x="427.09" y="984.89" width="27.07" height="26.69" fill="#cb9e8c"/>
<rect x="454.12" y="984.89" width="27.07" height="26.69" fill="#c48882"/>
<rect x="481.14" y="984.89" width="27.07" height="26.69" fill="#dfd2a7"/>
<rect x="508.16" y="984.89" width="27.07" height="26.69" fill="#dfd2a7"/>
<rect x="535.18" y="984.89" width="27.07" height="26.69" fill="#dfd2a7"/>
<rect x="48.8" y="1011.53" width="27.07" height="26.69" fill="#d5ba9a"/>
<rect x="75.82" y="1011.53" width="27.07" height="26.69" fill="#c89487"/>
<rect x="102.84" y="1011.53" width="27.07" height="26.69" fill="#c89487"/>
<rect x="129.86" y="1011.53" width="27.07" height="26.69" fill="#d5ba9a"/>
<rect x="156.88" y="1011.53" width="27.07" height="26.69" fill="#af7070"/>
<rect x="183.91" y="1011.53" width="27.07" height="26.69" fill="#a66a6a"/>
<rect x="210.93" y="1011.53" width="27.07" height="26.69" fill="#c89487"/>
<rect x="237.95" y="1011.53" width="27.07" height="26.69" fill="#c89487"/>
<rect x="264.97" y="1011.53" width="27.07" height="26.69" fill="#d8c29f"/>
<rect x="291.99" y="1011.53" width="27.07" height="26.69" fill="#2a0000"/>
<rect x="319.01" y="1011.53" width="27.07" height="26.69" fill="#cb9e8c"/>
<rect x="346.03" y="1011.53" width="27.07" height="26.69" fill="#d5ba9a"/>
<rect x="373.05" y="1011.53" width="27.07" height="26.69" fill="#c89487"/>
<rect x="400.07" y="1011.53" width="27.07" height="26.69" fill="#c48882"/>
<rect x="427.09" y="1011.53" width="27.07" height="26.69" fill="#c48882"/>
<rect x="454.12" y="1011.53" width="27.07" height="26.69" fill="#cb9e8c"/>
<rect x="481.14" y="1011.53" width="27.07" height="26.69" fill="#dfd2a7"/>
<rect x="508.16" y="1011.53" width="27.07" height="26.69" fill="#dfd2a7"/>
<rect x="535.18" y="1011.53" width="27.07" height="26.69" fill="#dccba3"/>
<rect x="48.8" y="1038.17" width="27.07" height="26.69" fill="#d8c29f"/>
<rect x="75.82" y="1038.17" width="27.07" height="26.69" fill="#c89487"/>
<rect x="102.84" y="1038.17" width="27.07" height="26.69" fill="#cb9e8c"/>
<rect x="129.86" y="1038.17" width="27.07" height="26.69" fill="#d8c29f"/>
<rect x="156.88" y="1038.17" width="27.07" height="26.69" fill="#a66a6a"/>
<rect x="183.91" y="1038.17" width="27.07" height="26.69" fill="#af7070"/>
<rect x="210.93" y="1038.17" width="27.07" height="26.69" fill="#cb9e8c"/>
<rect x="237.95" y="1038.17" width="27.07" height="26.69" fill="#c89487"/>
<rect x="264.97" y="1038.17" width="27.07" height="26.69" fill="#c48882"/>
<rect x="291.99" y="1038.17" width="27.07" height="26.69" fill="#b87676"/>
<rect x="319.01" y="1038.17" width="27.07" height="26.69" fill="#2a0000"/>
<rect x="346.03" y="1038.17" width="27.07" height="26.69" fill="#dfd2a7"/>
<rect x="373.05" y="1038.17" width="27.07" height="26.69" fill="#cfa891"/>
<rect x="400.07" y="1038.17" width="27.07" height="26.69" fill="#c48882"/>
<rect x="427.09" y="1038.17" width="27.07" height="26.69" fill="#c17c7c"/>
<rect x="454.12" y="1038.17" width="27.07" height="26.69" fill="#c48882"/>
<rect x="481.14" y="1038.17" width="27.07" height="26.69" fill="#dfd2a7"/>
<rect x="508.16" y="1038.17" width="27.07" height="26.69" fill="#dfd2a7"/>
<rect x="535.18" y="1038.17" width="27.07" height="26.69" fill="#dfd2a7"/>
<rect x="48.8" y="1064.81" width="27.07" height="26.69" fill="#e5e1af"/>
<rect x="75.82" y="1064.81" width="27.07" height="26.69" fill="#cfa891"/>
<rect x="102.84" y="1064.81" width="27.07" height="26.69" fill="#cb9e8c"/>
<rect x="129.86" y="1064.81" width="27.07" height="26.69" fill="#cb9e8c"/>
<rect x="156.88" y="1064.81" width="27.07" height="26.69" fill="#af7070"/>
<rect x="183.91" y="1064.81" width="27.07" height="26.69" fill="#a66a6a"/>
<rect x="210.93" y="1064.81" width="27.07" height="26.69" fill="#cb9e8c"/>
<rect x="237.95" y="1064.81" width="27.07" height="26.69" fill="#c89487"/>
<rect x="264.97" y="1064.81" width="27.07" height="26.69" fill="#c48882"/>
<rect x="291.99" y="1064.81" width="27.07" height="26.69" fill="#b87676"/>
<rect x="319.01" y="1064.81" width="27.07" height="26.69" fill="#d5ba9a"/>
<rect x="346.03" y="1064.81" width="27.07" height="26.69" fill="#2a0000"/>
<rect x="373.05" y="1064.81" width="27.07" height="26.69" fill="#c89487"/>
<rect x="400.07" y="1064.81" width="27.07" height="26.69" fill="#cfa891"/>
<rect x="427.09" y="1064.81" width="27.07" height="26.69" fill="#c17c7c"/>
<rect x="454.12" y="1064.81" width="27.07" height="26.69" fill="#c89487"/>
<rect x="481.14" y="1064.81" width="27.07" height="26.69" fill="#e2daab"/>
<rect x="508.16" y="1064.81" width="27.07" height="26.69" fill="#e5e1af"/>
<rect x="535.18" y="1064.81" width="27.07" height="26.69" fill="#e8e8b3"/>
<rect x="48.8" y="1091.44" width="27.07" height="26.69" fill="#cb9e8c"/>
<rect x="75.82" y="1091.44" width="27.07" height="26.69" fill="#c17c7c"/>
<rect x="102.84" y="1091.44" width="27.07" height="26.69" fill="#c89487"/>
<rect x="129.86" y="1091.44" width="27.07" height="26.69" fill="#dccba3"/>
<rect x="156.88" y="1091.44" width="27.07" height="26.69" fill="#a66a6a"/>
<rect x="183.91" y="1091.44" width="27.07" height="26.69" fill="#b87676"/>
<rect x="210.93" y="1091.44" width="27.07" height="26.69" fill="#cfa891"/>
<rect x="237.95" y="1091.44" width="27.07" height="26.69" fill="#c89487"/>
<rect x="264.97" y="1091.44" width="27.07" height="26.69" fill="#c17c7c"/>
<rect x="291.99" y="1091.44" width="27.07" height="26.69" fill="#af7070"/>
<rect x="319.01" y="1091.44" width="27.07" height="26.69" fill="#d5ba9a"/>
<rect x="346.03" y="1091.44" width="27.07" height="26.69" fill="#cfa891"/>
<rect x="373.05" y="1091.44" width="27.07" height="26.69" fill="#2a0000"/>
<rect x="400.07" y="1091.44" width="27.07" height="26.69" fill="#c48882"/>
<rect x="427.09" y="1091.44" width="27.07" height="26.69" fill="#cfa891"/>
<rect x="454.12" y="1091.44" width="27.07" height="26.69" fill="#c17c7c"/>
<rect x="481.14" y="1091.44" width="27.07" height="26.69" fill="#dfd2a7"/>
<rect x="508.16" y="1091.44" width="27.07" height="26.69" fill="#e2daab"/>
<rect x="535.18" y="1091.44" width="27.07" height="26.69" fill="#dfd2a7"/>
<rect x="48.8" y="1118.08" width="27.07" height="26.69" fill="#cb9e8c"/>
<rect x="75.82" y="1118.08" width="27.07" height="26.69" fill="#c48882"/>
<rect x="102.84" y="1118.08" width="27.07" height="26.69" fill="#cb9e8c"/>
<rect x="129.86" y="1118.08" width="27.07" height="26.69" fill="#cb9e8c"/>
<rect x="156.88" y="1118.08" width="27.07" height="26.69" fill="#c17c7c"/>
<rect x="183.91" y="1118.08" width="27.07" height="26.69" fill="#a66a6a"/>
<rect x="210.93" y="1118.08" width="27.07" height="26.69" fill="#c89487"/>
<rect x="237.95" y="1118.08" width="27.07" height="26.69" fill="#c17c7c"/>
<rect x="264.97" y="1118.08" width="27.07" height="26.69" fill="#c17c7c"/>
<rect x="291.99" y="1118.08" width="27.07" height="26.69" fill="#b87676"/>
<rect x="319.01" y="1118.08" width="27.07" height="26.69" fill="#c89487"/>
<rect x="346.03" y="1118.08" width="27.07" height="26.69" fill="#e2daab"/>
<rect x="373.05" y="1118.08" width="27.07" height="26.69" fill="#c89487"/>
<rect x="400.07" y="1118.08" width="27.07" height="26.69" fill="#2a0000"/>
<rect x="427.09" y="1118.08" width="27.07" height="26.69" fill="#c17c7c"/>
<rect x="454.12" y="1118.08" width="27.07" height="26.69" fill="#cb9e8c"/>
<rect x="481.14" y="1118.08" width="27.07" height="26.69" fill="#dfd2a7"/>
<rect x="508.16" y="1118.08" width="27.07" height="26.69" fill="#e5e1af"/>
<rect x="535.18" y="1118.08" width="27.07" height="26.69" fill="#e2daab"/>
<rect x="48.8" y="1144.72" width="27.07" height="26.69" fill="#cfa891"/>
<rect x="75.82" y="1144.72" width="27.07" height="26.69" fill="#c17c7c"/>
<rect x="102.84" y="1144.72" width="27.07" height="26.69" fill="#c89487"/>
<rect x="129.86" y="1144.72" width="27.07" height="26.69" fill="#d8c29f"/>
<rect x="156.88" y="1144.72" width="27.07" height="26.69" fill="#a66a6a"/>
<rect x="183.91" y="1144.72" width="27.07" height="26.69" fill="#af7070"/>
<rect x="210.93" y="1144.72" width="27.07" height="26.69" fill="#cfa891"/>
<rect x="237.95" y="1144.72" width="27.07" height="26.69" fill="#c48882"/>
<rect x="264.97" y="1144.72" width="27.07" height="26.69" fill="#c89487"/>
<rect x="291.99" y="1144.72" width="27.07" height="26.69" fill="#b87676"/>
<rect x="319.01" y="1144.72" width="27.07" height="26.69" fill="#cfa891"/>
<rect x="346.03" y="1144.72" width="27.07" height="26.69" fill="#cfa891"/>
<rect x="373.05" y="1144.72" width="27.07" height="26.69" fill="#d8c29f"/>
<rect x="400.07" y="1144.72" width="27.07" height="26.69" fill="#c48882"/>
<rect x="427.09" y="1144.72" width="27.07" height="26.69" fill="#2a0000"/>
<rect x="454.12" y="1144.72" width="27.07" height="26.69" fill="#c48882"/>
<rect x="481.14" y="1144.72" width="27.07" height="26.69" fill="#dfd2a7"/>
<rect x="508.16" y="1144.72" width="27.07" height="26.69" fill="#e2daab"/>
<rect x="535.18" y="1144.72" width="27.07" height="26.69" fill="#e2daab"/>
<rect x="48.8" y="1171.35" width="27.07" height="26.69" fill="#cfa891"/>
<rect x="75.82" y="1171.35" width="27.07" height="26.69" fill="#c48882"/>
<rect x="102.84" y="1171.35" width="27.07" height="26.69" fill="#c89487"/>
<rect x="129.86" y="1171.35" width="27.07" height="26.69" fill="#cfa891"/>
<rect x="156.88" y="1171.35" width="27.07" height="26.69" fill="#b87676"/>
<rect x="183.91" y="1171.35" width="27.07" height="26.69" fill="#a66a6a"/>
<rect x="210.93" y="1171.35" width="27.07" height="26.69" fill="#cb9e8c"/>
<rect x="237.95" y="1171.35" width="27.07" height="26.69" fill="#c89487"/>
<rect x="264.97" y="1171.35" width="27.07" height="26.69" fill="#c89487"/>
<rect x="291.99" y="1171.35" width="27.07" height="26.69" fill="#cb9e8c"/>
<rect x="319.01" y="1171.35" width="27.07" height="26.69" fill="#cb9e8c"/>
<rect x="346.03" y="1171.35" width="27.07" height="26.69" fill="#d5ba9a"/>
<rect x="373.05" y="1171.35" width="27.07" height="26.69" fill="#c89487"/>
<rect x="400.07" y="1171.35" width="27.07" height="26.69" fill="#cb9e8c"/>
<rect x="427.09" y="1171.35" width="27.07" height="26.69" fill="#c89487"/>
<rect x="454.12" y="1171.35" width="27.07" height="26.69" fill="#2a0000"/>
<rect x="481.14" y="1171.35" width="27.07" height="26.69" fill="#e2daab"/>
<rect x="508.16" y="1171.35" width="27.07" height="26.69" fill="#dfd2a7"/>
<rect x="535.18" y="1171.35" width="27.07" height="26.69" fill="#dfd2a7"/>
<rect x="48.8" y="1197.99" width="27.07" height="26.69" fill="#e2daab"/>
<rect x="75.82" y="1197.99" width="27.07" height="26.69" fill="#c17c7c"/>
<rect x="102.84" y="1197.99" width="27.07" height="26.69" fill="#cb9e8c"/>
<rect x="129.86" y="1197.99" width="27.07" height="26.69" fill="#cb9e8c"/>
<rect x="156.88" y="1197.99" width="27.07" height="26.69" fill="#af7070"/>
<rect x="183.91" y="1197.99" width="27.07" height="26.69" fill="#9c6363"/>
<rect x="210.93" y="1197.99" width="27.07" height="26.69" fill="#cb9e8c"/>
<rect x="237.95" y="1197.99" width="27.07" height="26.69" fill="#c17c7c"/>
<rect x="264.97" y="1197.99" width="27.07" height="26.69" fill="#b87676"/>
<rect x="291.99" y="1197.99" width="27.07" height="26.69" fill="#a66a6a"/>
<rect x="319.01" y="1197.99" width="27.07" height="26.69" fill="#c48882"/>
<rect x="346.03" y="1197.99" width="27.07" height="26.69" fill="#c89487"/>
<rect x="373.05" y="1197.99" width="27.07" height="26.69" fill="#c89487"/>
<rect x="400.07" y="1197.99" width="27.07" height="26.69" fill="#c17c7c"/>
<rect x="427.09" y="1197.99" width="27.07" height="26.69" fill="#b87676"/>
<rect x="454.12" y="1197.99" width="27.07" height="26.69" fill="#b87676"/>
<rect x="481.14" y="1197.99" width="27.07" height="26.69" fill="#2a0000"/>
<rect x="508.16" y="1197.99" width="27.07" height="26.69" fill="#f1f1d3"/>
<rect x="535.18" y="1197.99" width="27.07" height="26.69" fill="#f7f7e6"/>
<rect x="48.8" y="1224.63" width="27.07" height="26.69" fill="#e2daab"/>
<rect x="75.82" y="1224.63" width="27.07" height="26.69" fill="#c17c7c"/>
<rect x="102.84" y="1224.63" width="27.07" height="26.69" fill="#c48882"/>
<rect x="129.86" y="1224.63" width="27.07" height="26.69" fill="#cb9e8c"/>
<rect x="156.88" y="1224.63" width="27.07" height="26.69" fill="#a66a6a"/>
<rect x="183.91" y="1224.63" width="27.07" height="26.69" fill="#9c6363"/>
<rect x="210.93" y="1224.63" width="27.07" height="26.69" fill="#cb9e8c"/>
<rect x="237.95" y="1224.63" width="27.07" height="26.69" fill="#c17c7c"/>
<rect x="264.97" y="1224.63" width="27.07" height="26.69" fill="#b87676"/>
<rect x="291.99" y="1224.63" width="27.07" height="26.69" fill="#a66a6a"/>
<rect x="319.01" y="1224.63" width="27.07" height="26.69" fill="#c48882"/>
<rect x="346.03" y="1224.63" width="27.07" height="26.69" fill="#c89487"/>
<rect x="373.05" y="1224.63" width="27.07" height="26.69" fill="#c48882"/>
<rect x="400.07" y="1224.63" width="27.07" height="26.69" fill="#c17c7c"/>
<rect x="427.09" y="1224.63" width="27.07" height="26.69" fill="#af7070"/>
<rect x="454.12" y="1224.63" width="27.07" height="26.69" fill="#b87676"/>
<rect x="481.14" y="1224.63" width="27.07" height="26.69" fill="#ebebbe"/>
<rect x="508.16" y="1224.63" width="27.07" height="26.69" fill="#2a0000"/>
<rect x="535.18" y="1224.63" width="27.07" height="26.69" fill="#ffffff"/>
<rect x="48.8" y="1251.26" width="27.07" height="26.69" fill="#e2daab"/>
<rect x="75.82" y="1251.26" width="27.07" height="26.69" fill="#c89487"/>
<rect x="102.84" y="1251.26" width="27.07" height="26.69" fill="#c89487"/>
<rect x="129.86" y="1251.26" width="27.07" height="26.69" fill="#c89487"/>
<rect x="156.88" y="1251.26" width="27.07" height="26.69" fill="#a66a6a"/>
<rect x="183.91" y="1251.26" width="27.07" height="26.69" fill="#9c6363"/>
<rect x="210.93" y="1251.26" width="27.07" height="26.69" fill="#cb9e8c"/>
<rect x="237.95" y="1251.26" width="27.07" height="26.69" fill="#c17c7c"/>
<rect x="264.97" y="1251.26" width="27.07" height="26.69" fill="#c17c7c"/>
<rect x="291.99" y="1251.26" width="27.07" height="26.69" fill="#af7070"/>
<rect x="319.01" y="1251.26" width="27.07" height="26.69" fill="#c89487"/>
<rect x="346.03" y="1251.26" width="27.07" height="26.69" fill="#c89487"/>
<rect x="373.05" y="1251.26" width="27.07" height="26.69" fill="#c48882"/>
<rect x="400.07" y="1251.26" width="27.07" height="26.69" fill="#b87676"/>
<rect x="427.09" y="1251.26" width="27.07" height="26.69" fill="#b87676"/>
<rect x="454.12" y="1251.26" width="27.07" height="26.69" fill="#b87676"/>
<rect x="481.14" y="1251.26" width="27.07" height="26.69" fill="#e2daab"/>
<rect x="508.16" y="1251.26" width="27.07" height="26.69" fill="#eeeec9"/>
<rect x="535.18" y="1251.26" width="27.07" height="26.69" fill="#2a0000"/>
<line x1="75.82" y1="771.8" x2="75.82" y2="1277.9" class="g"/>
<line x1="48.8" y1="798.44" x2="562.2" y2="798.44" class="g"/>
<line x1="102.84" y1="771.8" x2="102.84" y2="1277.9" class="g"/>
<line x1="48.8" y1="825.07" x2="562.2" y2="825.07" class="g"/>
<line x1="129.86" y1="771.8" x2="129.86" y2="1277.9" class="g"/>
<line x1="48.8" y1="851.71" x2="562.2" y2="851.71" class="g"/>
<line x1="156.88" y1="771.8" x2="156.88" y2="1277.9" class="g"/>
<line x1="48.8" y1="878.35" x2="562.2" y2="878.35" class="g"/>
<line x1="183.91" y1="771.8" x2="183.91" y2="1277.9" class="g"/>
<line x1="48.8" y1="904.98" x2="562.2" y2="904.98" class="g"/>
<line x1="210.93" y1="771.8" x2="210.93" y2="1277.9" class="g"/>
<line x1="48.8" y1="931.62" x2="562.2" y2="931.62" class="g"/>
<line x1="237.95" y1="771.8" x2="237.95" y2="1277.9" class="g"/>
<line x1="48.8" y1="958.26" x2="562.2" y2="958.26" class="g"/>
<line x1="264.97" y1="771.8" x2="264.97" y2="1277.9" class="g"/>
<line x1="48.8" y1="984.89" x2="562.2" y2="984.89" class="g"/>
<line x1="291.99" y1="771.8" x2="291.99" y2="1277.9" class="g"/>
<line x1="48.8" y1="1011.53" x2="562.2" y2="1011.53" class="g"/>
<line x1="319.01" y1="771.8" x2="319.01" y2="1277.9" class="g"/>
<line x1="48.8" y1="1038.17" x2="562.2" y2="1038.17" class="g"/>
<line x1="346.03" y1="771.8" x2="346.03" y2="1277.9" class="g"/>
<line x1="48.8" y1="1064.81" x2="562.2" y2="1064.81" class="g"/>
<line x1="373.05" y1="771.8" x2="373.05" y2="1277.9" class="g"/>
<line x1="48.8" y1="1091.44" x2="562.2" y2="1091.44" class="g"/>
<line x1="400.07" y1="771.8" x2="400.07" y2="1277.9" class="g"/>
<line x1="48.8" y1="1118.08" x2="562.2" y2="1118.08" class="g"/>
<line x1="427.09" y1="771.8" x2="427.09" y2="1277.9" class="g"/>
<line x1="48.8" y1="1144.72" x2="562.2" y2="1144.72" class="g"/>
<line x1="454.12" y1="771.8" x2="454.12" y2="1277.9" class="g"/>
<line x1="48.8" y1="1171.35" x2="562.2" y2="1171.35" class="g"/>
<line x1="481.14" y1="771.8" x2="481.14" y2="1277.9" class="g"/>
<line x1="48.8" y1="1197.99" x2="562.2" y2="1197.99" class="g"/>
<line x1="508.16" y1="771.8" x2="508.16" y2="1277.9" class="g"/>
<line x1="48.8" y1="1224.63" x2="562.2" y2="1224.63" class="g"/>
<line x1="535.18" y1="771.8" x2="535.18" y2="1277.9" class="g"/>
<line x1="48.8" y1="1251.26" x2="562.2" y2="1251.26" class="g"/>
<line x1="62.31" y1="770.2" x2="62.31" y2="771.8" class="t"/>
<line x1="62.31" y1="1277.9" x2="62.31" y2="1279.5" class="t"/>
<line x1="47.2" y1="785.12" x2="48.8" y2="785.12" class="t"/>
<line x1="562.2" y1="785.12" x2="563.8" y2="785.12" class="t"/>
<line x1="89.33" y1="770.2" x2="89.33" y2="771.8" class="t"/>
<line x1="89.33" y1="1277.9" x2="89.33" y2="1279.5" class="t"/>
<line x1="47.2" y1="811.76" x2="48.8" y2="811.76" class="t"/>
<line x1="562.2" y1="811.76" x2="563.8" y2="811.76" class="t"/>
<line x1="116.35" y1="770.2" x2="116.35" y2="771.8" class="t"/>
<line x1="116.35" y1="1277.9" x2="116.35" y2="1279.5" class="t"/>
<line x1="47.2" y1="838.39" x2="48.8" y2="838.39" class="t"/>
<line x1="562.2" y1="838.39" x2="563.8" y2="838.39" class="t"/>
<line x1="143.37" y1="770.2" x2="143.37" y2="771.8" class="t"/>
<line x1="143.37" y1="1277.9" x2="143.37" y2="1279.5" class="t"/>
<line x1="47.2" y1="865.03" x2="48.8" y2="865.03" class="t"/>
<line x1="562.2" y1="865.03" x2="563.8" y2="865.03" class="t"/>
<line x1="170.39" y1="770.2" x2="170.39" y2="771.8" class="t"/>
<line x1="170.39" y1="1277.9" x2="170.39" y2="1279.5" class="t"/>
<line x1="47.2" y1="891.67" x2="48.8" y2="891.67" class="t"/>
<line x1="562.2" y1="891.67" x2="563.8" y2="891.67" class="t"/>
<line x1="197.42" y1="770.2" x2="197.42" y2="771.8" class="t"/>
<line x1="197.42" y1="1277.9" x2="197.42" y2="1279.5" class="t"/>
<line x1="47.2" y1="918.3" x2="48.8" y2="918.3" class="t"/>
<line x1="562.2" y1="918.3" x2="563.8" y2="918.3" class="t"/>
<line x1="224.44" y1="770.2" x2="224.44" y2="771.8" class="t"/>
<line x1="224.44" y1="1277.9" x2="224.44" y2="1279.5" class="t"/>
<line x1="47.2" y1="944.94" x2="48.8" y2="944.94" class="t"/>
<line x1="562.2" y1="944.94" x2="563.8" y2="944.94" class="t"/>
<line x1="251.46" y1="770.2" x2="251.46" y2="771.8" class="t"/>
<line x1="251.46" y1="1277.9" x2="251.46" y2="1279.5" class="t"/>
<line x1="47.2" y1="971.58" x2="48.8" y2="971.58" class="t"/>
<line x1="562.2" y1="971.58" x2="563.8" y2="971.58" class="t"/>
<line x1="278.48" y1="770.2" x2="278.48" y2="771.8" class="t"/>
<line x1="278.48" y1="1277.9" x2="278.48" y2="1279.5" class="t"/>
<line x1="47.2" y1="998.21" x2="48.8" y2="998.21" class="t"/>
<line x1="562.2" y1="998.21" x2="563.8" y2="998.21" class="t"/>
<line x1="305.5" y1="770.2" x2="305.5" y2="771.8" class="t"/>
<line x1="305.5" y1="1277.9" x2="305.5" y2="1279.5" class="t"/>
<line x1="47.2" y1="1024.85" x2="48.8" y2="1024.85" class="t"/>
<line x1="562.2" y1="1024.85" x2="563.8" y2="1024.85" class="t"/>
<line x1="332.52" y1="770.2" x2="332.52" y2="771.8" class="t"/>
<line x1="332.52" y1="1277.9" x2="332.52" y2="1279.5" class="t"/>
<line x1="47.2" y1="1051.49" x2="48.8" y2="1051.49" class="t"/>
<line x1="562.2" y1="1051.49" x2="563.8" y2="1051.49" class="t"/>
<line x1="359.54" y1="770.2" x2="359.54" y2="771.8" class="t"/>
<line x1="359.54" y1="1277.9" x2="359.54" y2="1279.5" class="t"/>
<line x1="47.2" y1="1078.12" x2="48.8" y2="1078.12" class="t"/>
<line x1="562.2" y1="1078.12" x2="563.8" y2="1078.12" class="t"/>
<line x1="386.56" y1="770.2" x2="386.56" y2="771.8" class="t"/>
<line x1="386.56" y1="1277.9" x2="386.56" y2="1279.5" class="t"/>
<line x1="47.2" y1="1104.76" x2="48.8" y2="1104.76" class="t"/>
<line x1="562.2" y1="1104.76" x2="563.8" y2="1104.76" class="t"/>
<line x1="413.58" y1="770.2" x2="413.58" y2="771.8" class="t"/>
<line x1="413.58" y1="1277.9" x2="413.58" y2="1279.5" class="t"/>
<line x1="47.2" y1="1131.4" x2="48.8" y2="1131.4" class="t"/>
<line x1="562.2" y1="1131.4" x2="563.8" y2="1131.4" class="t"/>
<line x1="440.61" y1="770.2" x2="440.61" y2="771.8" class="t"/>
<line x1="440.61" y1="1277.9" x2="440.61" y2="1279.5" class="t"/>
<line x1="47.2" y1="1158.03" x2="48.8" y2="1158.03" class="t"/>
<line x1="562.2" y1="1158.03" x2="563.8" y2="1158.03" class="t"/>
<line x1="467.63" y1="770.2" x2="467.63" y2="771.8" class="t"/>
<line x1="467.63" y1="1277.9" x2="467.63" y2="1279.5" class="t"/>
<line x1="47.2" y1="1184.67" x2="48.8" y2="1184.67" class="t"/>
<line x1="562.2" y1="1184.67" x2="563.8" y2="1184.67" class="t"/>
<line x1="494.65" y1="770.2" x2="494.65" y2="771.8" class="t"/>
<line x1="494.65" y1="1277.9" x2="494.65" y2="1279.5" class="t"/>
<line x1="47.2" y1="1211.31" x2="48.8" y2="1211.31" class="t"/>
<line x1="562.2" y1="1211.31" x2="563.8" y2="1211.31" class="t"/>
<line x1="521.67" y1="770.2" x2="521.67" y2="771.8" class="t"/>
<line x1="521.67" y1="1277.9" x2="521.67" y2="1279.5" class="t"/>
<line x1="47.2" y1="1237.94" x2="48.8" y2="1237.94" class="t"/>
<line x1="562.2" y1="1237.94" x2="563.8" y2="1237.94" class="t"/>
<line x1="548.69" y1="770.2" x2="548.69" y2="771.8" class="t"/>
<line x1="548.69" y1="1277.9" x2="548.69" y2="1279.5" class="t"/>
<line x1="47.2" y1="1264.58" x2="48.8" y2="1264.58" class="t"/>
<line x1="562.2" y1="1264.58" x2="563.8" y2="1264.58" class="t"/>
<line x1="48.8" y1="771.3" x2="562.2" y2="771.3" class="b"/>
<rect x="573.6" y="1262.08" width="16.9" height="15.87" fill="#2a0000"/>
<rect x="573.6" y="1246.27" width="16.9" height="15.87" fill="#472525"/>
<rect x="573.6" y="1230.45" width="16.9" height="15.87" fill="#5b3535"/>
<rect x="573.6" y="1214.64" width="16.9" height="15.87" fill="#6b4141"/>
<rect x="573.6" y="1198.82" width="16.9" height="15.87" fill="#794b4b"/>
<rect x="573.6" y="1183.01" width="16.9" height="15.87" fill="#865454"/>
<rect x="573.6" y="1167.19" width="16.9" height="15.87" fill="#915c5c"/>
<rect x="573.6" y="1151.38" width="16.9" height="15.87" fill="#9c6363"/>
<rect x="573.6" y="1135.56" width="16.9" height="15.87" fill="#a66a6a"/>
<rect x="573.6" y="1119.74" width="16.9" height="15.87" fill="#af7070"/>
<rect x="573.6" y="1103.93" width="16.9" height="15.87" fill="#b87676"/>
<rect x="573.6" y="1088.11" width="16.9" height="15.87" fill="#c17c7c"/>
<rect x="573.6" y="1072.3" width="16.9" height="15.87" fill="#c48882"/>
<rect x="573.6" y="1056.48" width="16.9" height="15.87" fill="#c89487"/>
<rect x="573.6" y="1040.67" width="16.9" height="15.87" fill="#cb9e8c"/>
<rect x="573.6" y="1024.85" width="16.9" height="15.87" fill="#cfa891"/>
<rect x="573.6" y="1009.03" width="16.9" height="15.87" fill="#d2b196"/>
<rect x="573.6" y="993.22" width="16.9" height="15.87" fill="#d5ba9a"/>
<rect x="573.6" y="977.4" width="16.9" height="15.87" fill="#d8c29f"/>
<rect x="573.6" y="961.59" width="16.9" height="15.87" fill="#dccba3"/>
<rect x="573.6" y="945.77" width="16.9" height="15.87" fill="#dfd2a7"/>
<rect x="573.6" y="929.96" width="16.9" height="15.87" fill="#e2daab"/>
<rect x="573.6" y="914.14" width="16.9" height="15.87" fill="#e5e1af"/>
<rect x="573.6" y="898.33" width="16.9" height="15.87" fill="#e8e8b3"/>
<rect x="573.6" y="882.51" width="16.9" height="15.87" fill="#ebebbe"/>
<rect x="573.6" y="866.69" width="16.9" height="15.87" fill="#eeeec9"/>
<rect x="573.6" y="850.88" width="16.9" height="15.87" fill="#f1f1d3"/>
<rect x="573.6" y="835.06" width="16.9" height="15.87" fill="#f4f4dc"/>
<rect x="573.6" y="819.25" width="16.9" height="15.87" fill="#f7f7e6"/>
<rect x="573.6" y="803.43" width="16.9" height="15.87" fill="#f9f9ee"/>
<rect x="573.6" y="787.62" width="16.9" height="15.87" fill="#fcfcf7"/>
<rect x="573.6" y="771.8" width="16.9" height="15.87" fill="#ffffff"/>
<line x1="574.1" y1="771.8" x2="574.1" y2="1277.9" class="cbl"/>
<line x1="590" y1="771.8" x2="590" y2="1277.9" class="cbr"/>
<line x1="573.6" y1="772.6" x2="590.5" y2="772.6" class="cbt"/>
<line x1="586.5" y1="1279" x2="590.5" y2="1279" class="ct"/>
<line x1="586.5" y1="1226.38" x2="590.5" y2="1226.38" class="ct"/>
<line x1="586.5" y1="1173.75" x2="590.5" y2="1173.75" class="ct"/>
<line x1="586.5" y1="1121.12" x2="590.5" y2="1121.12" class="ct"/>
<line x1="586.5" y1="1068.5" x2="590.5" y2="1068.5" class="ct"/>
<line x1="586.5" y1="1015.88" x2="590.5" y2="1015.88" class="ct"/>
<line x1="586.5" y1="963.25" x2="590.5" y2="963.25" class="ct"/>
<line x1="586.5" y1="910.62" x2="590.5" y2="910.62" class="ct"/>
<line x1="586.5" y1="858" x2="590.5" y2="858" class="ct"/>
<line x1="586.5" y1="805.38" x2="590.5" y2="805.38" class="ct"/>
<rect x="733.5" y="770.7" width="27.07" height="26.84" fill="#2a0000"/>
<rect x="760.52" y="770.7" width="27.07" height="26.84" fill="#ffffff"/>
<rect x="787.54" y="770.7" width="27.07" height="26.84" fill="#ebebbe"/>
<rect x="814.56" y="770.7" width="27.07" height="26.84" fill="#e2daab"/>
<rect x="841.58" y="770.7" width="27.07" height="26.84" fill="#c48882"/>
<rect x="868.61" y="770.7" width="27.07" height="26.84" fill="#c48882"/>
<rect x="895.63" y="770.7" width="27.07" height="26.84" fill="#e2daab"/>
<rect x="922.65" y="770.7" width="27.07" height="26.84" fill="#dfd2a7"/>
<rect x="949.67" y="770.7" width="27.07" height="26.84" fill="#cfa891"/>
<rect x="976.69" y="770.7" width="27.07" height="26.84" fill="#cb9e8c"/>
<rect x="1003.71" y="770.7" width="27.07" height="26.84" fill="#f1f1d3"/>
<rect x="1030.73" y="770.7" width="27.07" height="26.84" fill="#e8e8b3"/>
<rect x="1057.75" y="770.7" width="27.07" height="26.84" fill="#d8c29f"/>
<rect x="1084.77" y="770.7" width="27.07" height="26.84" fill="#d8c29f"/>
<rect x="1111.79" y="770.7" width="27.07" height="26.84" fill="#cb9e8c"/>
<rect x="1138.82" y="770.7" width="27.07" height="26.84" fill="#cb9e8c"/>
<rect x="1165.84" y="770.7" width="27.07" height="26.84" fill="#ebebbe"/>
<rect x="1192.86" y="770.7" width="27.07" height="26.84" fill="#e8e8b3"/>
<rect x="1219.88" y="770.7" width="27.07" height="26.84" fill="#dfd2a7"/>
<rect x="733.5" y="797.49" width="27.07" height="26.84" fill="#f7f7e6"/>
<rect x="760.52" y="797.49" width="27.07" height="26.84" fill="#2a0000"/>
<rect x="787.54" y="797.49" width="27.07" height="26.84" fill="#e8e8b3"/>
<rect x="814.56" y="797.49" width="27.07" height="26.84" fill="#e8e8b3"/>
<rect x="841.58" y="797.49" width="27.07" height="26.84" fill="#c89487"/>
<rect x="868.61" y="797.49" width="27.07" height="26.84" fill="#c17c7c"/>
<rect x="895.63" y="797.49" width="27.07" height="26.84" fill="#e2daab"/>
<rect x="922.65" y="797.49" width="27.07" height="26.84" fill="#dccba3"/>
<rect x="949.67" y="797.49" width="27.07" height="26.84" fill="#cfa891"/>
<rect x="976.69" y="797.49" width="27.07" height="26.84" fill="#cb9e8c"/>
<rect x="1003.71" y="797.49" width="27.07" height="26.84" fill="#e8e8b3"/>
<rect x="1030.73" y="797.49" width="27.07" height="26.84" fill="#eeeec9"/>
<rect x="1057.75" y="797.49" width="27.07" height="26.84" fill="#cfa891"/>
<rect x="1084.77" y="797.49" width="27.07" height="26.84" fill="#d8c29f"/>
<rect x="1111.79" y="797.49" width="27.07" height="26.84" fill="#cb9e8c"/>
<rect x="1138.82" y="797.49" width="27.07" height="26.84" fill="#cb9e8c"/>
<rect x="1165.84" y="797.49" width="27.07" height="26.84" fill="#ebebbe"/>
<rect x="1192.86" y="797.49" width="27.07" height="26.84" fill="#e8e8b3"/>
<rect x="1219.88" y="797.49" width="27.07" height="26.84" fill="#dfd2a7"/>
<rect x="733.5" y="824.29" width="27.07" height="26.84" fill="#e2daab"/>
<rect x="760.52" y="824.29" width="27.07" height="26.84" fill="#f4f4dc"/>
<rect x="787.54" y="824.29" width="27.07" height="26.84" fill="#2a0000"/>
<rect x="814.56" y="824.29" width="27.07" height="26.84" fill="#e5e1af"/>
<rect x="841.58" y="824.29" width="27.07" height="26.84" fill="#c48882"/>
<rect x="868.61" y="824.29" width="27.07" height="26.84" fill="#c48882"/>
<rect x="895.63" y="824.29" width="27.07" height="26.84" fill="#e2daab"/>
<rect x="922.65" y="824.29" width="27.07" height="26.84" fill="#dfd2a7"/>
<rect x="949.67" y="824.29" width="27.07" height="26.84" fill="#cb9e8c"/>
<rect x="976.69" y="824.29" width="27.07" height="26.84" fill="#cb9e8c"/>
<rect x="1003.71" y="824.29" width="27.07" height="26.84" fill="#e2daab"/>
<rect x="1030.73" y="824.29" width="27.07" height="26.84" fill="#e2daab"/>
<rect x="1057.75" y="824.29" width="27.07" height="26.84" fill="#d8c29f"/>
<rect x="1084.77" y="824.29" width="27.07" height="26.84" fill="#d5ba9a"/>
<rect x="1111.79" y="824.29" width="27.07" height="26.84" fill="#cb9e8c"/>
<rect x="1138.82" y="824.29" width="27.07" height="26.84" fill="#cb9e8c"/>
<rect x="1165.84" y="824.29" width="27.07" height="26.84" fill="#e8e8b3"/>
<rect x="1192.86" y="824.29" width="27.07" height="26.84" fill="#dfd2a7"/>
<rect x="1219.88" y="824.29" width="27.07" height="26.84" fill="#dccba3"/>
<rect x="733.5" y="851.08" width="27.07" height="26.84" fill="#dccba3"/>
<rect x="760.52" y="851.08" width="27.07" height="26.84" fill="#eeeec9"/>
<rect x="787.54" y="851.08" width="27.07" height="26.84" fill="#e8e8b3"/>
<rect x="814.56" y="851.08" width="27.07" height="26.84" fill="#2a0000"/>
<rect x="841.58" y="851.08" width="27.07" height="26.84" fill="#cb9e8c"/>
<rect x="868.61" y="851.08" width="27.07" height="26.84" fill="#c17c7c"/>
<rect x="895.63" y="851.08" width="27.07" height="26.84" fill="#e5e1af"/>
<rect x="922.65" y="851.08" width="27.07" height="26.84" fill="#d8c29f"/>
<rect x="949.67" y="851.08" width="27.07" height="26.84" fill="#cb9e8c"/>
<rect x="976.69" y="851.08" width="27.07" height="26.84" fill="#cb9e8c"/>
<rect x="1003.71" y="851.08" width="27.07" height="26.84" fill="#e2daab"/>
<rect x="1030.73" y="851.08" width="27.07" height="26.84" fill="#e2daab"/>
<rect x="1057.75" y="851.08" width="27.07" height="26.84" fill="#cfa891"/>
<rect x="1084.77" y="851.08" width="27.07" height="26.84" fill="#d8c29f"/>
<rect x="1111.79" y="851.08" width="27.07" height="26.84" fill="#cb9e8c"/>
<rect x="1138.82" y="851.08" width="27.07" height="26.84" fill="#cb9e8c"/>
<rect x="1165.84" y="851.08" width="27.07" height="26.84" fill="#eeeec9"/>
<rect x="1192.86" y="851.08" width="27.07" height="26.84" fill="#e2daab"/>
<rect x="1219.88" y="851.08" width="27.07" height="26.84" fill="#dfd2a7"/>
<rect x="733.5" y="877.88" width="27.07" height="26.84" fill="#d8c29f"/>
<rect x="760.52" y="877.88" width="27.07" height="26.84" fill="#dfd2a7"/>
<rect x="787.54" y="877.88" width="27.07" height="26.84" fill="#dccba3"/>
<rect x="814.56" y="877.88" width="27.07" height="26.84" fill="#e5e1af"/>
<rect x="841.58" y="877.88" width="27.07" height="26.84" fill="#2a0000"/>
<rect x="868.61" y="877.88" width="27.07" height="26.84" fill="#e2daab"/>
<rect x="895.63" y="877.88" width="27.07" height="26.84" fill="#dfd2a7"/>
<rect x="922.65" y="877.88" width="27.07" height="26.84" fill="#d8c29f"/>
<rect x="949.67" y="877.88" width="27.07" height="26.84" fill="#c48882"/>
<rect x="976.69" y="877.88" width="27.07" height="26.84" fill="#c48882"/>
<rect x="1003.71" y="877.88" width="27.07" height="26.84" fill="#d8c29f"/>
<rect x="1030.73" y="877.88" width="27.07" height="26.84" fill="#d5ba9a"/>
<rect x="1057.75" y="877.88" width="27.07" height="26.84" fill="#cfa891"/>
<rect x="1084.77" y="877.88" width="27.07" height="26.84" fill="#cb9e8c"/>
<rect x="1111.79" y="877.88" width="27.07" height="26.84" fill="#c17c7c"/>
<rect x="1138.82" y="877.88" width="27.07" height="26.84" fill="#c48882"/>
<rect x="1165.84" y="877.88" width="27.07" height="26.84" fill="#e2daab"/>
<rect x="1192.86" y="877.88" width="27.07" height="26.84" fill="#e2daab"/>
<rect x="1219.88" y="877.88" width="27.07" height="26.84" fill="#d8c29f"/>
<rect x="733.5" y="904.67" width="27.07" height="26.84" fill="#d8c29f"/>
<rect x="760.52" y="904.67" width="27.07" height="26.84" fill="#e2daab"/>
<rect x="787.54" y="904.67" width="27.07" height="26.84" fill="#dccba3"/>
<rect x="814.56" y="904.67" width="27.07" height="26.84" fill="#e8e8b3"/>
<rect x="841.58" y="904.67" width="27.07" height="26.84" fill="#f1f1d3"/>
<rect x="868.61" y="904.67" width="27.07" height="26.84" fill="#2a0000"/>
<rect x="895.63" y="904.67" width="27.07" height="26.84" fill="#e2daab"/>
<rect x="922.65" y="904.67" width="27.07" height="26.84" fill="#d8c29f"/>
<rect x="949.67" y="904.67" width="27.07" height="26.84" fill="#c48882"/>
<rect x="976.69" y="904.67" width="27.07" height="26.84" fill="#c89487"/>
<rect x="1003.71" y="904.67" width="27.07" height="26.84" fill="#d8c29f"/>
<rect x="1030.73" y="904.67" width="27.07" height="26.84" fill="#cfa891"/>
<rect x="1057.75" y="904.67" width="27.07" height="26.84" fill="#cfa891"/>
<rect x="1084.77" y="904.67" width="27.07" height="26.84" fill="#cb9e8c"/>
<rect x="1111.79" y="904.67" width="27.07" height="26.84" fill="#c17c7c"/>
<rect x="1138.82" y="904.67" width="27.07" height="26.84" fill="#c48882"/>
<rect x="1165.84" y="904.67" width="27.07" height="26.84" fill="#e2daab"/>
<rect x="1192.86" y="904.67" width="27.07" height="26.84" fill="#e2daab"/>
<rect x="1219.88" y="904.67" width="27.07" height="26.84" fill="#d8c29f"/>
<rect x="733.5" y="931.47" width="27.07" height="26.84" fill="#dccba3"/>
<rect x="760.52" y="931.47" width="27.07" height="26.84" fill="#e2daab"/>
<rect x="787.54" y="931.47" width="27.07" height="26.84" fill="#dccba3"/>
<rect x="814.56" y="931.47" width="27.07" height="26.84" fill="#e5e1af"/>
<rect x="841.58" y="931.47" width="27.07" height="26.84" fill="#c48882"/>
<rect x="868.61" y="931.47" width="27.07" height="26.84" fill="#c89487"/>
<rect x="895.63" y="931.47" width="27.07" height="26.84" fill="#2a0000"/>
<rect x="922.65" y="931.47" width="27.07" height="26.84" fill="#d8c29f"/>
<rect x="949.67" y="931.47" width="27.07" height="26.84" fill="#cb9e8c"/>
<rect x="976.69" y="931.47" width="27.07" height="26.84" fill="#cb9e8c"/>
<rect x="1003.71" y="931.47" width="27.07" height="26.84" fill="#dfd2a7"/>
<rect x="1030.73" y="931.47" width="27.07" height="26.84" fill="#dccba3"/>
<rect x="1057.75" y="931.47" width="27.07" height="26.84" fill="#cfa891"/>
<rect x="1084.77" y="931.47" width="27.07" height="26.84" fill="#cfa891"/>
<rect x="1111.79" y="931.47" width="27.07" height="26.84" fill="#cb9e8c"/>
<rect x="1138.82" y="931.47" width="27.07" height="26.84" fill="#c89487"/>
<rect x="1165.84" y="931.47" width="27.07" height="26.84" fill="#e2daab"/>
<rect x="1192.86" y="931.47" width="27.07" height="26.84" fill="#e5e1af"/>
<rect x="1219.88" y="931.47" width="27.07" height="26.84" fill="#e2daab"/>
<rect x="733.5" y="958.26" width="27.07" height="26.84" fill="#d8c29f"/>
<rect x="760.52" y="958.26" width="27.07" height="26.84" fill="#e2daab"/>
<rect x="787.54" y="958.26" width="27.07" height="26.84" fill="#dfd2a7"/>
<rect x="814.56" y="958.26" width="27.07" height="26.84" fill="#dccba3"/>
<rect x="841.58" y="958.26" width="27.07" height="26.84" fill="#d5ba9a"/>
<rect x="868.61" y="958.26" width="27.07" height="26.84" fill="#c17c7c"/>
<rect x="895.63" y="958.26" width="27.07" height="26.84" fill="#e2daab"/>
<rect x="922.65" y="958.26" width="27.07" height="26.84" fill="#2a0000"/>
<rect x="949.67" y="958.26" width="27.07" height="26.84" fill="#cb9e8c"/>
<rect x="976.69" y="958.26" width="27.07" height="26.84" fill="#d8c29f"/>
<rect x="1003.71" y="958.26" width="27.07" height="26.84" fill="#dfd2a7"/>
<rect x="1030.73" y="958.26" width="27.07" height="26.84" fill="#dccba3"/>
<rect x="1057.75" y="958.26" width="27.07" height="26.84" fill="#cfa891"/>
<rect x="1084.77" y="958.26" width="27.07" height="26.84" fill="#cfa891"/>
<rect x="1111.79" y="958.26" width="27.07" height="26.84" fill="#c89487"/>
<rect x="1138.82" y="958.26" width="27.07" height="26.84" fill="#cb9e8c"/>
<rect x="1165.84" y="958.26" width="27.07" height="26.84" fill="#e2daab"/>
<rect x="1192.86" y="958.26" width="27.07" height="26.84" fill="#e5e1af"/>
<rect x="1219.88" y="958.26" width="27.07" height="26.84" fill="#e2daab"/>
<rect x="733.5" y="985.06" width="27.07" height="26.84" fill="#dccba3"/>
<rect x="760.52" y="985.06" width="27.07" height="26.84" fill="#e2daab"/>
<rect x="787.54" y="985.06" width="27.07" height="26.84" fill="#dfd2a7"/>
<rect x="814.56" y="985.06" width="27.07" height="26.84" fill="#dfd2a7"/>
<rect x="841.58" y="985.06" width="27.07" height="26.84" fill="#c17c7c"/>
<rect x="868.61" y="985.06" width="27.07" height="26.84" fill="#c48882"/>
<rect x="895.63" y="985.06" width="27.07" height="26.84" fill="#e2daab"/>
<rect x="922.65" y="985.06" width="27.07" height="26.84" fill="#d8c29f"/>
<rect x="949.67" y="985.06" width="27.07" height="26.84" fill="#2a0000"/>
<rect x="976.69" y="985.06" width="27.07" height="26.84" fill="#dccba3"/>
<rect x="1003.71" y="985.06" width="27.07" height="26.84" fill="#e2daab"/>
<rect x="1030.73" y="985.06" width="27.07" height="26.84" fill="#e2daab"/>
<rect x="1057.75" y="985.06" width="27.07" height="26.84" fill="#d5ba9a"/>
<rect x="1084.77" y="985.06" width="27.07" height="26.84" fill="#d5ba9a"/>
<rect x="1111.79" y="985.06" width="27.07" height="26.84" fill="#dccba3"/>
<rect x="1138.82" y="985.06" width="27.07" height="26.84" fill="#cb9e8c"/>
<rect x="1165.84" y="985.06" width="27.07" height="26.84" fill="#e2daab"/>
<rect x="1192.86" y="985.06" width="27.07" height="26.84" fill="#e5e1af"/>
<rect x="1219.88" y="985.06" width="27.07" height="26.84" fill="#dfd2a7"/>
<rect x="733.5" y="1011.85" width="27.07" height="26.84" fill="#d8c29f"/>
<rect x="760.52" y="1011.85" width="27.07" height="26.84" fill="#e5e1af"/>
<rect x="787.54" y="1011.85" width="27.07" height="26.84" fill="#dfd2a7"/>
<rect x="814.56" y="1011.85" width="27.07" height="26.84" fill="#dccba3"/>
<rect x="841.58" y="1011.85" width="27.07" height="26.84" fill="#c89487"/>
<rect x="868.61" y="1011.85" width="27.07" height="26.84" fill="#c17c7c"/>
<rect x="895.63" y="1011.85" width="27.07" height="26.84" fill="#e5e1af"/>
<rect x="922.65" y="1011.85" width="27.07" height="26.84" fill="#dccba3"/>
<rect x="949.67" y="1011.85" width="27.07" height="26.84" fill="#d5ba9a"/>
<rect x="976.69" y="1011.85" width="27.07" height="26.84" fill="#2a0000"/>
<rect x="1003.71" y="1011.85" width="27.07" height="26.84" fill="#e2daab"/>
<rect x="1030.73" y="1011.85" width="27.07" height="26.84" fill="#dfd2a7"/>
<rect x="1057.75" y="1011.85" width="27.07" height="26.84" fill="#cb9e8c"/>
<rect x="1084.77" y="1011.85" width="27.07" height="26.84" fill="#d5ba9a"/>
<rect x="1111.79" y="1011.85" width="27.07" height="26.84" fill="#cfa891"/>
<rect x="1138.82" y="1011.85" width="27.07" height="26.84" fill="#d8c29f"/>
<rect x="1165.84" y="1011.85" width="27.07" height="26.84" fill="#e2daab"/>
<rect x="1192.86" y="1011.85" width="27.07" height="26.84" fill="#e8e8b3"/>
<rect x="1219.88" y="1011.85" width="27.07" height="26.84" fill="#dfd2a7"/>
<rect x="733.5" y="1038.65" width="27.07" height="26.84" fill="#f7f7e6"/>
<rect x="760.52" y="1038.65" width="27.07" height="26.84" fill="#f4f4dc"/>
<rect x="787.54" y="1038.65" width="27.07" height="26.84" fill="#e5e1af"/>
<rect x="814.56" y="1038.65" width="27.07" height="26.84" fill="#e2daab"/>
<rect x="841.58" y="1038.65" width="27.07" height="26.84" fill="#c48882"/>
<rect x="868.61" y="1038.65" width="27.07" height="26.84" fill="#c48882"/>
<rect x="895.63" y="1038.65" width="27.07" height="26.84" fill="#e2daab"/>
<rect x="922.65" y="1038.65" width="27.07" height="26.84" fill="#dccba3"/>
<rect x="949.67" y="1038.65" width="27.07" height="26.84" fill="#cfa891"/>
<rect x="976.69" y="1038.65" width="27.07" height="26.84" fill="#cb9e8c"/>
<rect x="1003.71" y="1038.65" width="27.07" height="26.84" fill="#2a0000"/>
<rect x="1030.73" y="1038.65" width="27.07" height="26.84" fill="#ebebbe"/>
<rect x="1057.75" y="1038.65" width="27.07" height="26.84" fill="#dccba3"/>
<rect x="1084.77" y="1038.65" width="27.07" height="26.84" fill="#d5ba9a"/>
<rect x="1111.79" y="1038.65" width="27.07" height="26.84" fill="#cb9e8c"/>
<rect x="1138.82" y="1038.65" width="27.07" height="26.84" fill="#cb9e8c"/>
<rect x="1165.84" y="1038.65" width="27.07" height="26.84" fill="#ebebbe"/>
<rect x="1192.86" y="1038.65" width="27.07" height="26.84" fill="#ebebbe"/>
<rect x="1219.88" y="1038.65" width="27.07" height="26.84" fill="#dfd2a7"/>
<rect x="733.5" y="1065.44" width="27.07" height="26.84" fill="#e8e8b3"/>
<rect x="760.52" y="1065.44" width="27.07" height="26.84" fill="#f7f7e6"/>
<rect x="787.54" y="1065.44" width="27.07" height="26.84" fill="#e2daab"/>
<rect x="814.56" y="1065.44" width="27.07" height="26.84" fill="#e5e1af"/>
<rect x="841.58" y="1065.44" width="27.07" height="26.84" fill="#c89487"/>
<rect x="868.61" y="1065.44" width="27.07" height="26.84" fill="#c17c7c"/>
<rect x="895.63" y="1065.44" width="27.07" height="26.84" fill="#e8e8b3"/>
<rect x="922.65" y="1065.44" width="27.07" height="26.84" fill="#dccba3"/>
<rect x="949.67" y="1065.44" width="27.07" height="26.84" fill="#cfa891"/>
<rect x="976.69" y="1065.44" width="27.07" height="26.84" fill="#cb9e8c"/>
<rect x="1003.71" y="1065.44" width="27.07" height="26.84" fill="#ebebbe"/>
<rect x="1030.73" y="1065.44" width="27.07" height="26.84" fill="#2a0000"/>
<rect x="1057.75" y="1065.44" width="27.07" height="26.84" fill="#cfa891"/>
<rect x="1084.77" y="1065.44" width="27.07" height="26.84" fill="#e2daab"/>
<rect x="1111.79" y="1065.44" width="27.07" height="26.84" fill="#cb9e8c"/>
<rect x="1138.82" y="1065.44" width="27.07" height="26.84" fill="#cb9e8c"/>
<rect x="1165.84" y="1065.44" width="27.07" height="26.84" fill="#e5e1af"/>
<rect x="1192.86" y="1065.44" width="27.07" height="26.84" fill="#ebebbe"/>
<rect x="1219.88" y="1065.44" width="27.07" height="26.84" fill="#dfd2a7"/>
<rect x="733.5" y="1092.24" width="27.07" height="26.84" fill="#e8e8b3"/>
<rect x="760.52" y="1092.24" width="27.07" height="26.84" fill="#e8e8b3"/>
<rect x="787.54" y="1092.24" width="27.07" height="26.84" fill="#e2daab"/>
<rect x="814.56" y="1092.24" width="27.07" height="26.84" fill="#e5e1af"/>
<rect x="841.58" y="1092.24" width="27.07" height="26.84" fill="#c48882"/>
<rect x="868.61" y="1092.24" width="27.07" height="26.84" fill="#c89487"/>
<rect x="895.63" y="1092.24" width="27.07" height="26.84" fill="#e5e1af"/>
<rect x="922.65" y="1092.24" width="27.07" height="26.84" fill="#d8c29f"/>
<rect x="949.67" y="1092.24" width="27.07" height="26.84" fill="#cb9e8c"/>
<rect x="976.69" y="1092.24" width="27.07" height="26.84" fill="#cb9e8c"/>
<rect x="1003.71" y="1092.24" width="27.07" height="26.84" fill="#ebebbe"/>
<rect x="1030.73" y="1092.24" width="27.07" height="26.84" fill="#e5e1af"/>
<rect x="1057.75" y="1092.24" width="27.07" height="26.84" fill="#2a0000"/>
<rect x="1084.77" y="1092.24" width="27.07" height="26.84" fill="#dfd2a7"/>
<rect x="1111.79" y="1092.24" width="27.07" height="26.84" fill="#cfa891"/>
<rect x="1138.82" y="1092.24" width="27.07" height="26.84" fill="#c89487"/>
<rect x="1165.84" y="1092.24" width="27.07" height="26.84" fill="#e5e1af"/>
<rect x="1192.86" y="1092.24" width="27.07" height="26.84" fill="#ebebbe"/>
<rect x="1219.88" y="1092.24" width="27.07" height="26.84" fill="#dfd2a7"/>
<rect x="733.5" y="1119.03" width="27.07" height="26.84" fill="#e2daab"/>
<rect x="760.52" y="1119.03" width="27.07" height="26.84" fill="#e8e8b3"/>
<rect x="787.54" y="1119.03" width="27.07" height="26.84" fill="#e5e1af"/>
<rect x="814.56" y="1119.03" width="27.07" height="26.84" fill="#dfd2a7"/>
<rect x="841.58" y="1119.03" width="27.07" height="26.84" fill="#cb9e8c"/>
<rect x="868.61" y="1119.03" width="27.07" height="26.84" fill="#c17c7c"/>
<rect x="895.63" y="1119.03" width="27.07" height="26.84" fill="#e2daab"/>
<rect x="922.65" y="1119.03" width="27.07" height="26.84" fill="#d8c29f"/>
<rect x="949.67" y="1119.03" width="27.07" height="26.84" fill="#cb9e8c"/>
<rect x="976.69" y="1119.03" width="27.07" height="26.84" fill="#cb9e8c"/>
<rect x="1003.71" y="1119.03" width="27.07" height="26.84" fill="#e5e1af"/>
<rect x="1030.73" y="1119.03" width="27.07" height="26.84" fill="#ebebbe"/>
<rect x="1057.75" y="1119.03" width="27.07" height="26.84" fill="#cb9e8c"/>
<rect x="1084.77" y="1119.03" width="27.07" height="26.84" fill="#2a0000"/>
<rect x="1111.79" y="1119.03" width="27.07" height="26.84" fill="#c89487"/>
<rect x="1138.82" y="1119.03" width="27.07" height="26.84" fill="#d5ba9a"/>
<rect x="1165.84" y="1119.03" width="27.07" height="26.84" fill="#e2daab"/>
<rect x="1192.86" y="1119.03" width="27.07" height="26.84" fill="#ebebbe"/>
<rect x="1219.88" y="1119.03" width="27.07" height="26.84" fill="#dfd2a7"/>
<rect x="733.5" y="1145.83" width="27.07" height="26.84" fill="#e2daab"/>
<rect x="760.52" y="1145.83" width="27.07" height="26.84" fill="#e2daab"/>
<rect x="787.54" y="1145.83" width="27.07" height="26.84" fill="#dfd2a7"/>
<rect x="814.56" y="1145.83" width="27.07" height="26.84" fill="#e2daab"/>
<rect x="841.58" y="1145.83" width="27.07" height="26.84" fill="#c17c7c"/>
<rect x="868.61" y="1145.83" width="27.07" height="26.84" fill="#c48882"/>
<rect x="895.63" y="1145.83" width="27.07" height="26.84" fill="#e5e1af"/>
<rect x="922.65" y="1145.83" width="27.07" height="26.84" fill="#d8c29f"/>
<rect x="949.67" y="1145.83" width="27.07" height="26.84" fill="#cfa891"/>
<rect x="976.69" y="1145.83" width="27.07" height="26.84" fill="#cb9e8c"/>
<rect x="1003.71" y="1145.83" width="27.07" height="26.84" fill="#e2daab"/>
<rect x="1030.73" y="1145.83" width="27.07" height="26.84" fill="#e2daab"/>
<rect x="1057.75" y="1145.83" width="27.07" height="26.84" fill="#dfd2a7"/>
<rect x="1084.77" y="1145.83" width="27.07" height="26.84" fill="#dccba3"/>
<rect x="1111.79" y="1145.83" width="27.07" height="26.84" fill="#2a0000"/>
<rect x="1138.82" y="1145.83" width="27.07" height="26.84" fill="#cfa891"/>
<rect x="1165.84" y="1145.83" width="27.07" height="26.84" fill="#e2daab"/>
<rect x="1192.86" y="1145.83" width="27.07" height="26.84" fill="#e8e8b3"/>
<rect x="1219.88" y="1145.83" width="27.07" height="26.84" fill="#dfd2a7"/>
<rect x="733.5" y="1172.62" width="27.07" height="26.84" fill="#dfd2a7"/>
<rect x="760.52" y="1172.62" width="27.07" height="26.84" fill="#e5e1af"/>
<rect x="787.54" y="1172.62" width="27.07" height="26.84" fill="#dfd2a7"/>
<rect x="814.56" y="1172.62" width="27.07" height="26.84" fill="#dccba3"/>
<rect x="841.58" y="1172.62" width="27.07" height="26.84" fill="#cb9e8c"/>
<rect x="868.61" y="1172.62" width="27.07" height="26.84" fill="#c17c7c"/>
<rect x="895.63" y="1172.62" width="27.07" height="26.84" fill="#e5e1af"/>
<rect x="922.65" y="1172.62" width="27.07" height="26.84" fill="#d8c29f"/>
<rect x="949.67" y="1172.62" width="27.07" height="26.84" fill="#cb9e8c"/>
<rect x="976.69" y="1172.62" width="27.07" height="26.84" fill="#dccba3"/>
<rect x="1003.71" y="1172.62" width="27.07" height="26.84" fill="#e8e8b3"/>
<rect x="1030.73" y="1172.62" width="27.07" height="26.84" fill="#e2daab"/>
<rect x="1057.75" y="1172.62" width="27.07" height="26.84" fill="#cb9e8c"/>
<rect x="1084.77" y="1172.62" width="27.07" height="26.84" fill="#dfd2a7"/>
<rect x="1111.79" y="1172.62" width="27.07" height="26.84" fill="#cfa891"/>
<rect x="1138.82" y="1172.62" width="27.07" height="26.84" fill="#2a0000"/>
<rect x="1165.84" y="1172.62" width="27.07" height="26.84" fill="#e2daab"/>
<rect x="1192.86" y="1172.62" width="27.07" height="26.84" fill="#e8e8b3"/>
<rect x="1219.88" y="1172.62" width="27.07" height="26.84" fill="#dfd2a7"/>
<rect x="733.5" y="1199.42" width="27.07" height="26.84" fill="#dccba3"/>
<rect x="760.52" y="1199.42" width="27.07" height="26.84" fill="#e2daab"/>
<rect x="787.54" y="1199.42" width="27.07" height="26.84" fill="#e2daab"/>
<rect x="814.56" y="1199.42" width="27.07" height="26.84" fill="#e2daab"/>
<rect x="841.58" y="1199.42" width="27.07" height="26.84" fill="#c89487"/>
<rect x="868.61" y="1199.42" width="27.07" height="26.84" fill="#c17c7c"/>
<rect x="895.63" y="1199.42" width="27.07" height="26.84" fill="#dfd2a7"/>
<rect x="922.65" y="1199.42" width="27.07" height="26.84" fill="#d8c29f"/>
<rect x="949.67" y="1199.42" width="27.07" height="26.84" fill="#c48882"/>
<rect x="976.69" y="1199.42" width="27.07" height="26.84" fill="#c48882"/>
<rect x="1003.71" y="1199.42" width="27.07" height="26.84" fill="#dccba3"/>
<rect x="1030.73" y="1199.42" width="27.07" height="26.84" fill="#d8c29f"/>
<rect x="1057.75" y="1199.42" width="27.07" height="26.84" fill="#d5ba9a"/>
<rect x="1084.77" y="1199.42" width="27.07" height="26.84" fill="#d5ba9a"/>
<rect x="1111.79" y="1199.42" width="27.07" height="26.84" fill="#c48882"/>
<rect x="1138.82" y="1199.42" width="27.07" height="26.84" fill="#c48882"/>
<rect x="1165.84" y="1199.42" width="27.07" height="26.84" fill="#2a0000"/>
<rect x="1192.86" y="1199.42" width="27.07" height="26.84" fill="#e5e1af"/>
<rect x="1219.88" y="1199.42" width="27.07" height="26.84" fill="#d8c29f"/>
<rect x="733.5" y="1226.21" width="27.07" height="26.84" fill="#dccba3"/>
<rect x="760.52" y="1226.21" width="27.07" height="26.84" fill="#e5e1af"/>
<rect x="787.54" y="1226.21" width="27.07" height="26.84" fill="#e2daab"/>
<rect x="814.56" y="1226.21" width="27.07" height="26.84" fill="#e2daab"/>
<rect x="841.58" y="1226.21" width="27.07" height="26.84" fill="#c48882"/>
<rect x="868.61" y="1226.21" width="27.07" height="26.84" fill="#b87676"/>
<rect x="895.63" y="1226.21" width="27.07" height="26.84" fill="#dccba3"/>
<rect x="922.65" y="1226.21" width="27.07" height="26.84" fill="#d8c29f"/>
<rect x="949.67" y="1226.21" width="27.07" height="26.84" fill="#c48882"/>
<rect x="976.69" y="1226.21" width="27.07" height="26.84" fill="#c89487"/>
<rect x="1003.71" y="1226.21" width="27.07" height="26.84" fill="#dccba3"/>
<rect x="1030.73" y="1226.21" width="27.07" height="26.84" fill="#d8c29f"/>
<rect x="1057.75" y="1226.21" width="27.07" height="26.84" fill="#cb9e8c"/>
<rect x="1084.77" y="1226.21" width="27.07" height="26.84" fill="#d5ba9a"/>
<rect x="1111.79" y="1226.21" width="27.07" height="26.84" fill="#c48882"/>
<rect x="1138.82" y="1226.21" width="27.07" height="26.84" fill="#c48882"/>
<rect x="1165.84" y="1226.21" width="27.07" height="26.84" fill="#ebebbe"/>
<rect x="1192.86" y="1226.21" width="27.07" height="26.84" fill="#2a0000"/>
<rect x="1219.88" y="1226.21" width="27.07" height="26.84" fill="#e2daab"/>
<rect x="733.5" y="1253.01" width="27.07" height="26.84" fill="#d8c29f"/>
<rect x="760.52" y="1253.01" width="27.07" height="26.84" fill="#e2daab"/>
<rect x="787.54" y="1253.01" width="27.07" height="26.84" fill="#dfd2a7"/>
<rect x="814.56" y="1253.01" width="27.07" height="26.84" fill="#dccba3"/>
<rect x="841.58" y="1253.01" width="27.07" height="26.84" fill="#cb9e8c"/>
<rect x="868.61" y="1253.01" width="27.07" height="26.84" fill="#b87676"/>
<rect x="895.63" y="1253.01" width="27.07" height="26.84" fill="#dfd2a7"/>
<rect x="922.65" y="1253.01" width="27.07" height="26.84" fill="#dccba3"/>
<rect x="949.67" y="1253.01" width="27.07" height="26.84" fill="#c89487"/>
<rect x="976.69" y="1253.01" width="27.07" height="26.84" fill="#cb9e8c"/>
<rect x="1003.71" y="1253.01" width="27.07" height="26.84" fill="#dccba3"/>
<rect x="1030.73" y="1253.01" width="27.07" height="26.84" fill="#d5ba9a"/>
<rect x="1057.75" y="1253.01" width="27.07" height="26.84" fill="#cb9e8c"/>
<rect x="1084.77" y="1253.01" width="27.07" height="26.84" fill="#cb9e8c"/>
<rect x="1111.79" y="1253.01" width="27.07" height="26.84" fill="#c48882"/>
<rect x="1138.82" y="1253.01" width="27.07" height="26.84" fill="#c89487"/>
<rect x="1165.84" y="1253.01" width="27.07" height="26.84" fill="#e2daab"/>
<rect x="1192.86" y="1253.01" width="27.07" height="26.84" fill="#e8e8b3"/>
<rect x="1219.88" y="1253.01" width="27.07" height="26.84" fill="#2a0000"/>
<line x1="760.52" y1="770.7" x2="760.52" y2="1279.8" class="g"/>
<line x1="733.5" y1="797.49" x2="1246.9" y2="797.49" class="g"/>
<line x1="787.54" y1="770.7" x2="787.54" y2="1279.8" class="g"/>
<line x1="733.5" y1="824.29" x2="1246.9" y2="824.29" class="g"/>
<line x1="814.56" y1="770.7" x2="814.56" y2="1279.8" class="g"/>
<line x1="733.5" y1="851.08" x2="1246.9" y2="851.08" class="g"/>
<line x1="841.58" y1="770.7" x2="841.58" y2="1279.8" class="g"/>
<line x1="733.5" y1="877.88" x2="1246.9" y2="877.88" class="g"/>
<line x1="868.61" y1="770.7" x2="868.61" y2="1279.8" class="g"/>
<line x1="733.5" y1="904.67" x2="1246.9" y2="904.67" class="g"/>
<line x1="895.63" y1="770.7" x2="895.63" y2="1279.8" class="g"/>
<line x1="733.5" y1="931.47" x2="1246.9" y2="931.47" class="g"/>
<line x1="922.65" y1="770.7" x2="922.65" y2="1279.8" class="g"/>
<line x1="733.5" y1="958.26" x2="1246.9" y2="958.26" class="g"/>
<line x1="949.67" y1="770.7" x2="949.67" y2="1279.8" class="g"/>
<line x1="733.5" y1="985.06" x2="1246.9" y2="985.06" class="g"/>
<line x1="976.69" y1="770.7" x2="976.69" y2="1279.8" class="g"/>
<line x1="733.5" y1="1011.85" x2="1246.9" y2="1011.85" class="g"/>
<line x1="1003.71" y1="770.7" x2="1003.71" y2="1279.8" class="g"/>
<line x1="733.5" y1="1038.65" x2="1246.9" y2="1038.65" class="g"/>
<line x1="1030.73" y1="770.7" x2="1030.73" y2="1279.8" class="g"/>
<line x1="733.5" y1="1065.44" x2="1246.9" y2="1065.44" class="g"/>
<line x1="1057.75" y1="770.7" x2="1057.75" y2="1279.8" class="g"/>
<line x1="733.5" y1="1092.24" x2="1246.9" y2="1092.24" class="g"/>
<line x1="1084.77" y1="770.7" x2="1084.77" y2="1279.8" class="g"/>
<line x1="733.5" y1="1119.03" x2="1246.9" y2="1119.03" class="g"/>
<line x1="1111.79" y1="770.7" x2="1111.79" y2="1279.8" class="g"/>
<line x1="733.5" y1="1145.83" x2="1246.9" y2="1145.83" class="g"/>
<line x1="1138.82" y1="770.7" x2="1138.82" y2="1279.8" class="g"/>
<line x1="733.5" y1="1172.62" x2="1246.9" y2="1172.62" class="g"/>
<line x1="1165.84" y1="770.7" x2="1165.84" y2="1279.8" class="g"/>
<line x1="733.5" y1="1199.42" x2="1246.9" y2="1199.42" class="g"/>
<line x1="1192.86" y1="770.7" x2="1192.86" y2="1279.8" class="g"/>
<line x1="733.5" y1="1226.21" x2="1246.9" y2="1226.21" class="g"/>
<line x1="1219.88" y1="770.7" x2="1219.88" y2="1279.8" class="g"/>
<line x1="733.5" y1="1253.01" x2="1246.9" y2="1253.01" class="g"/>
<line x1="747.01" y1="769.1" x2="747.01" y2="770.7" class="t"/>
<line x1="747.01" y1="1279.8" x2="747.01" y2="1281.4" class="t"/>
<line x1="731.9" y1="784.1" x2="733.5" y2="784.1" class="t"/>
<line x1="1246.9" y1="784.1" x2="1248.5" y2="784.1" class="t"/>
<line x1="774.03" y1="769.1" x2="774.03" y2="770.7" class="t"/>
<line x1="774.03" y1="1279.8" x2="774.03" y2="1281.4" class="t"/>
<line x1="731.9" y1="810.89" x2="733.5" y2="810.89" class="t"/>
<line x1="1246.9" y1="810.89" x2="1248.5" y2="810.89" class="t"/>
<line x1="801.05" y1="769.1" x2="801.05" y2="770.7" class="t"/>
<line x1="801.05" y1="1279.8" x2="801.05" y2="1281.4" class="t"/>
<line x1="731.9" y1="837.69" x2="733.5" y2="837.69" class="t"/>
<line x1="1246.9" y1="837.69" x2="1248.5" y2="837.69" class="t"/>
<line x1="828.07" y1="769.1" x2="828.07" y2="770.7" class="t"/>
<line x1="828.07" y1="1279.8" x2="828.07" y2="1281.4" class="t"/>
<line x1="731.9" y1="864.48" x2="733.5" y2="864.48" class="t"/>
<line x1="1246.9" y1="864.48" x2="1248.5" y2="864.48" class="t"/>
<line x1="855.09" y1="769.1" x2="855.09" y2="770.7" class="t"/>
<line x1="855.09" y1="1279.8" x2="855.09" y2="1281.4" class="t"/>
<line x1="731.9" y1="891.28" x2="733.5" y2="891.28" class="t"/>
<line x1="1246.9" y1="891.28" x2="1248.5" y2="891.28" class="t"/>
<line x1="882.12" y1="769.1" x2="882.12" y2="770.7" class="t"/>
<line x1="882.12" y1="1279.8" x2="882.12" y2="1281.4" class="t"/>
<line x1="731.9" y1="918.07" x2="733.5" y2="918.07" class="t"/>
<line x1="1246.9" y1="918.07" x2="1248.5" y2="918.07" class="t"/>
<line x1="909.14" y1="769.1" x2="909.14" y2="770.7" class="t"/>
<line x1="909.14" y1="1279.8" x2="909.14" y2="1281.4" class="t"/>
<line x1="731.9" y1="944.87" x2="733.5" y2="944.87" class="t"/>
<line x1="1246.9" y1="944.87" x2="1248.5" y2="944.87" class="t"/>
<line x1="936.16" y1="769.1" x2="936.16" y2="770.7" class="t"/>
<line x1="936.16" y1="1279.8" x2="936.16" y2="1281.4" class="t"/>
<line x1="731.9" y1="971.66" x2="733.5" y2="971.66" class="t"/>
<line x1="1246.9" y1="971.66" x2="1248.5" y2="971.66" class="t"/>
<line x1="963.18" y1="769.1" x2="963.18" y2="770.7" class="t"/>
<line x1="963.18" y1="1279.8" x2="963.18" y2="1281.4" class="t"/>
<line x1="731.9" y1="998.46" x2="733.5" y2="998.46" class="t"/>
<line x1="1246.9" y1="998.46" x2="1248.5" y2="998.46" class="t"/>
<line x1="990.2" y1="769.1" x2="990.2" y2="770.7" class="t"/>
<line x1="990.2" y1="1279.8" x2="990.2" y2="1281.4" class="t"/>
<line x1="731.9" y1="1025.25" x2="733.5" y2="1025.25" class="t"/>
<line x1="1246.9" y1="1025.25" x2="1248.5" y2="1025.25" class="t"/>
<line x1="1017.22" y1="769.1" x2="1017.22" y2="770.7" class="t"/>
<line x1="1017.22" y1="1279.8" x2="1017.22" y2="1281.4" class="t"/>
<line x1="731.9" y1="1052.04" x2="733.5" y2="1052.04" class="t"/>
<line x1="1246.9" y1="1052.04" x2="1248.5" y2="1052.04" class="t"/>
<line x1="1044.24" y1="769.1" x2="1044.24" y2="770.7" class="t"/>
<line x1="1044.24" y1="1279.8" x2="1044.24" y2="1281.4" class="t"/>
<line x1="731.9" y1="1078.84" x2="733.5" y2="1078.84" class="t"/>
<line x1="1246.9" y1="1078.84" x2="1248.5" y2="1078.84" class="t"/>
<line x1="1071.26" y1="769.1" x2="1071.26" y2="770.7" class="t"/>
<line x1="1071.26" y1="1279.8" x2="1071.26" y2="1281.4" class="t"/>
<line x1="731.9" y1="1105.63" x2="733.5" y2="1105.63" class="t"/>
<line x1="1246.9" y1="1105.63" x2="1248.5" y2="1105.63" class="t"/>
<line x1="1098.28" y1="769.1" x2="1098.28" y2="770.7" class="t"/>
<line x1="1098.28" y1="1279.8" x2="1098.28" y2="1281.4" class="t"/>
<line x1="731.9" y1="1132.43" x2="733.5" y2="1132.43" class="t"/>
<line x1="1246.9" y1="1132.43" x2="1248.5" y2="1132.43" class="t"/>
<line x1="1125.31" y1="769.1" x2="1125.31" y2="770.7" class="t"/>
<line x1="1125.31" y1="1279.8" x2="1125.31" y2="1281.4" class="t"/>
<line x1="731.9" y1="1159.22" x2="733.5" y2="1159.22" class="t"/>
<line x1="1246.9" y1="1159.22" x2="1248.5" y2="1159.22" class="t"/>
<line x1="1152.33" y1="769.1" x2="1152.33" y2="770.7" class="t"/>
<line x1="1152.33" y1="1279.8" x2="1152.33" y2="1281.4" class="t"/>
<line x1="731.9" y1="1186.02" x2="733.5" y2="1186.02" class="t"/>
<line x1="1246.9" y1="1186.02" x2="1248.5" y2="1186.02" class="t"/>
<line x1="1179.35" y1="769.1" x2="1179.35" y2="770.7" class="t"/>
<line x1="1179.35" y1="1279.8" x2="1179.35" y2="1281.4" class="t"/>
<line x1="731.9" y1="1212.81" x2="733.5" y2="1212.81" class="t"/>
<line x1="1246.9" y1="1212.81" x2="1248.5" y2="1212.81" class="t"/>
<line x1="1206.37" y1="769.1" x2="1206.37" y2="770.7" class="t"/>
<line x1="1206.37" y1="1279.8" x2="1206.37" y2="1281.4" class="t"/>
<line x1="731.9" y1="1239.61" x2="733.5" y2="1239.61" class="t"/>
<line x1="1246.9" y1="1239.61" x2="1248.5" y2="1239.61" class="t"/>
<line x1="1233.39" y1="769.1" x2="1233.39" y2="770.7" class="t"/>
<line x1="1233.39" y1="1279.8" x2="1233.39" y2="1281.4" class="t"/>
<line x1="731.9" y1="1266.4" x2="733.5" y2="1266.4" class="t"/>
<line x1="1246.9" y1="1266.4" x2="1248.5" y2="1266.4" class="t"/>
<line x1="733.5" y1="770.2" x2="1246.9" y2="770.2" class="b"/>
<rect x="1258" y="1263.89" width="16.8" height="15.96" fill="#2a0000"/>
<rect x="1258" y="1247.98" width="16.8" height="15.96" fill="#472525"/>
<rect x="1258" y="1232.07" width="16.8" height="15.96" fill="#5b3535"/>
<rect x="1258" y="1216.16" width="16.8" height="15.96" fill="#6b4141"/>
<rect x="1258" y="1200.25" width="16.8" height="15.96" fill="#794b4b"/>
<rect x="1258" y="1184.34" width="16.8" height="15.96" fill="#865454"/>
<rect x="1258" y="1168.43" width="16.8" height="15.96" fill="#915c5c"/>
<rect x="1258" y="1152.53" width="16.8" height="15.96" fill="#9c6363"/>
<rect x="1258" y="1136.62" width="16.8" height="15.96" fill="#a66a6a"/>
<rect x="1258" y="1120.71" width="16.8" height="15.96" fill="#af7070"/>
<rect x="1258" y="1104.8" width="16.8" height="15.96" fill="#b87676"/>
<rect x="1258" y="1088.89" width="16.8" height="15.96" fill="#c17c7c"/>
<rect x="1258" y="1072.98" width="16.8" height="15.96" fill="#c48882"/>
<rect x="1258" y="1057.07" width="16.8" height="15.96" fill="#c89487"/>
<rect x="1258" y="1041.16" width="16.8" height="15.96" fill="#cb9e8c"/>
<rect x="1258" y="1025.25" width="16.8" height="15.96" fill="#cfa891"/>
<rect x="1258" y="1009.34" width="16.8" height="15.96" fill="#d2b196"/>
<rect x="1258" y="993.43" width="16.8" height="15.96" fill="#d5ba9a"/>
<rect x="1258" y="977.52" width="16.8" height="15.96" fill="#d8c29f"/>
<rect x="1258" y="961.61" width="16.8" height="15.96" fill="#dccba3"/>
<rect x="1258" y="945.7" width="16.8" height="15.96" fill="#dfd2a7"/>
<rect x="1258" y="929.79" width="16.8" height="15.96" fill="#e2daab"/>
<rect x="1258" y="913.88" width="16.8" height="15.96" fill="#e5e1af"/>
<rect x="1258" y="897.98" width="16.8" height="15.96" fill="#e8e8b3"/>
<rect x="1258" y="882.07" width="16.8" height="15.96" fill="#ebebbe"/>
<rect x="1258" y="866.16" width="16.8" height="15.96" fill="#eeeec9"/>
<rect x="1258" y="850.25" width="16.8" height="15.96" fill="#f1f1d3"/>
<rect x="1258" y="834.34" width="16.8" height="15.96" fill="#f4f4dc"/>
<rect x="1258" y="818.43" width="16.8" height="15.96" fill="#f7f7e6"/>
<rect x="1258" y="802.52" width="16.8" height="15.96" fill="#f9f9ee"/>
<rect x="1258" y="786.61" width="16.8" height="15.96" fill="#fcfcf7"/>
<rect x="1258" y="770.7" width="16.8" height="15.96" fill="#ffffff"/>
<line x1="1258.5" y1="770.7" x2="1258.5" y2="1279.8" class="cbl"/>
<line x1="1274.3" y1="770.7" x2="1274.3" y2="1279.8" class="cbr"/>
<line x1="1258" y1="771.5" x2="1274.8" y2="771.5" class="cbt"/>
<line x1="1270.8" y1="1280.2" x2="1274.8" y2="1280.2" class="ct"/>
<line x1="1270.8" y1="1213.97" x2="1274.8" y2="1213.97" class="ct"/>
<line x1="1270.8" y1="1147.74" x2="1274.8" y2="1147.74" class="ct"/>
<line x1="1270.8" y1="1081.51" x2="1274.8" y2="1081.51" class="ct"/>
<line x1="1270.8" y1="1015.28" x2="1274.8" y2="1015.28" class="ct"/>
<line x1="1270.8" y1="949.05" x2="1274.8" y2="949.05" class="ct"/>
<line x1="1270.8" y1="882.82" x2="1274.8" y2="882.82" class="ct"/>
<line x1="1270.8" y1="816.59" x2="1274.8" y2="816.59" class="ct"/>
<rect x="1399.3" y="771" width="27.91" height="26.66" fill="#2a0000"/>
<rect x="1427.16" y="771" width="27.91" height="26.66" fill="#dccba3"/>
<rect x="1455.03" y="771" width="27.91" height="26.66" fill="#e2daab"/>
<rect x="1482.89" y="771" width="27.91" height="26.66" fill="#d8c29f"/>
<rect x="1510.75" y="771" width="27.91" height="26.66" fill="#cb9e8c"/>
<rect x="1538.62" y="771" width="27.91" height="26.66" fill="#d5ba9a"/>
<rect x="1566.48" y="771" width="27.91" height="26.66" fill="#dfd2a7"/>
<rect x="1594.34" y="771" width="27.91" height="26.66" fill="#dfd2a7"/>
<rect x="1622.21" y="771" width="27.91" height="26.66" fill="#cfa891"/>
<rect x="1650.07" y="771" width="27.91" height="26.66" fill="#d8c29f"/>
<rect x="1677.93" y="771" width="27.91" height="26.66" fill="#d8c29f"/>
<rect x="1705.79" y="771" width="27.91" height="26.66" fill="#dfd2a7"/>
<rect x="1733.66" y="771" width="27.91" height="26.66" fill="#d8c29f"/>
<rect x="1761.52" y="771" width="27.91" height="26.66" fill="#dfd2a7"/>
<rect x="1789.38" y="771" width="27.91" height="26.66" fill="#d5ba9a"/>
<rect x="1817.25" y="771" width="27.91" height="26.66" fill="#d8c29f"/>
<rect x="1845.11" y="771" width="27.91" height="26.66" fill="#d8c29f"/>
<rect x="1872.97" y="771" width="27.91" height="26.66" fill="#c89487"/>
<rect x="1900.84" y="771" width="27.91" height="26.66" fill="#fcfcf7"/>
<rect x="1399.3" y="797.61" width="27.91" height="26.66" fill="#cb9e8c"/>
<rect x="1427.16" y="797.61" width="27.91" height="26.66" fill="#2a0000"/>
<rect x="1455.03" y="797.61" width="27.91" height="26.66" fill="#cfa891"/>
<rect x="1482.89" y="797.61" width="27.91" height="26.66" fill="#f4f4dc"/>
<rect x="1510.75" y="797.61" width="27.91" height="26.66" fill="#cfa891"/>
<rect x="1538.62" y="797.61" width="27.91" height="26.66" fill="#d5ba9a"/>
<rect x="1566.48" y="797.61" width="27.91" height="26.66" fill="#d8c29f"/>
<rect x="1594.34" y="797.61" width="27.91" height="26.66" fill="#e8e8b3"/>
<rect x="1622.21" y="797.61" width="27.91" height="26.66" fill="#cfa891"/>
<rect x="1650.07" y="797.61" width="27.91" height="26.66" fill="#d5ba9a"/>
<rect x="1677.93" y="797.61" width="27.91" height="26.66" fill="#cfa891"/>
<rect x="1705.79" y="797.61" width="27.91" height="26.66" fill="#eeeec9"/>
<rect x="1733.66" y="797.61" width="27.91" height="26.66" fill="#d8c29f"/>
<rect x="1761.52" y="797.61" width="27.91" height="26.66" fill="#e2daab"/>
<rect x="1789.38" y="797.61" width="27.91" height="26.66" fill="#d5ba9a"/>
<rect x="1817.25" y="797.61" width="27.91" height="26.66" fill="#d8c29f"/>
<rect x="1845.11" y="797.61" width="27.91" height="26.66" fill="#d8c29f"/>
<rect x="1872.97" y="797.61" width="27.91" height="26.66" fill="#c89487"/>
<rect x="1900.84" y="797.61" width="27.91" height="26.66" fill="#f1f1d3"/>
<rect x="1399.3" y="824.22" width="27.91" height="26.66" fill="#c17c7c"/>
<rect x="1427.16" y="824.22" width="27.91" height="26.66" fill="#cfa891"/>
<rect x="1455.03" y="824.22" width="27.91" height="26.66" fill="#2a0000"/>
<rect x="1482.89" y="824.22" width="27.91" height="26.66" fill="#d5ba9a"/>
<rect x="1510.75" y="824.22" width="27.91" height="26.66" fill="#c17c7c"/>
<rect x="1538.62" y="824.22" width="27.91" height="26.66" fill="#d8c29f"/>
<rect x="1566.48" y="824.22" width="27.91" height="26.66" fill="#d8c29f"/>
<rect x="1594.34" y="824.22" width="27.91" height="26.66" fill="#d5ba9a"/>
<rect x="1622.21" y="824.22" width="27.91" height="26.66" fill="#cb9e8c"/>
<rect x="1650.07" y="824.22" width="27.91" height="26.66" fill="#cfa891"/>
<rect x="1677.93" y="824.22" width="27.91" height="26.66" fill="#cb9e8c"/>
<rect x="1705.79" y="824.22" width="27.91" height="26.66" fill="#d5ba9a"/>
<rect x="1733.66" y="824.22" width="27.91" height="26.66" fill="#d5ba9a"/>
<rect x="1761.52" y="824.22" width="27.91" height="26.66" fill="#d5ba9a"/>
<rect x="1789.38" y="824.22" width="27.91" height="26.66" fill="#cb9e8c"/>
<rect x="1817.25" y="824.22" width="27.91" height="26.66" fill="#cfa891"/>
<rect x="1845.11" y="824.22" width="27.91" height="26.66" fill="#cfa891"/>
<rect x="1872.97" y="824.22" width="27.91" height="26.66" fill="#c17c7c"/>
<rect x="1900.84" y="824.22" width="27.91" height="26.66" fill="#fcfcf7"/>
<rect x="1399.3" y="850.83" width="27.91" height="26.66" fill="#c17c7c"/>
<rect x="1427.16" y="850.83" width="27.91" height="26.66" fill="#e2daab"/>
<rect x="1455.03" y="850.83" width="27.91" height="26.66" fill="#cb9e8c"/>
<rect x="1482.89" y="850.83" width="27.91" height="26.66" fill="#2a0000"/>
<rect x="1510.75" y="850.83" width="27.91" height="26.66" fill="#cfa891"/>
<rect x="1538.62" y="850.83" width="27.91" height="26.66" fill="#c17c7c"/>
<rect x="1566.48" y="850.83" width="27.91" height="26.66" fill="#dccba3"/>
<rect x="1594.34" y="850.83" width="27.91" height="26.66" fill="#dccba3"/>
<rect x="1622.21" y="850.83" width="27.91" height="26.66" fill="#cb9e8c"/>
<rect x="1650.07" y="850.83" width="27.91" height="26.66" fill="#cfa891"/>
<rect x="1677.93" y="850.83" width="27.91" height="26.66" fill="#cb9e8c"/>
<rect x="1705.79" y="850.83" width="27.91" height="26.66" fill="#dfd2a7"/>
<rect x="1733.66" y="850.83" width="27.91" height="26.66" fill="#d5ba9a"/>
<rect x="1761.52" y="850.83" width="27.91" height="26.66" fill="#dfd2a7"/>
<rect x="1789.38" y="850.83" width="27.91" height="26.66" fill="#cfa891"/>
<rect x="1817.25" y="850.83" width="27.91" height="26.66" fill="#cfa891"/>
<rect x="1845.11" y="850.83" width="27.91" height="26.66" fill="#d5ba9a"/>
<rect x="1872.97" y="850.83" width="27.91" height="26.66" fill="#c17c7c"/>
<rect x="1900.84" y="850.83" width="27.91" height="26.66" fill="#eeeec9"/>
<rect x="1399.3" y="877.44" width="27.91" height="26.66" fill="#af7070"/>
<rect x="1427.16" y="877.44" width="27.91" height="26.66" fill="#cfa891"/>
<rect x="1455.03" y="877.44" width="27.91" height="26.66" fill="#c89487"/>
<rect x="1482.89" y="877.44" width="27.91" height="26.66" fill="#cb9e8c"/>
<rect x="1510.75" y="877.44" width="27.91" height="26.66" fill="#2a0000"/>
<rect x="1538.62" y="877.44" width="27.91" height="26.66" fill="#f7f7e6"/>
<rect x="1566.48" y="877.44" width="27.91" height="26.66" fill="#d5ba9a"/>
<rect x="1594.34" y="877.44" width="27.91" height="26.66" fill="#dccba3"/>
<rect x="1622.21" y="877.44" width="27.91" height="26.66" fill="#c48882"/>
<rect x="1650.07" y="877.44" width="27.91" height="26.66" fill="#c89487"/>
<rect x="1677.93" y="877.44" width="27.91" height="26.66" fill="#c17c7c"/>
<rect x="1705.79" y="877.44" width="27.91" height="26.66" fill="#cb9e8c"/>
<rect x="1733.66" y="877.44" width="27.91" height="26.66" fill="#cfa891"/>
<rect x="1761.52" y="877.44" width="27.91" height="26.66" fill="#d5ba9a"/>
<rect x="1789.38" y="877.44" width="27.91" height="26.66" fill="#c89487"/>
<rect x="1817.25" y="877.44" width="27.91" height="26.66" fill="#c89487"/>
<rect x="1845.11" y="877.44" width="27.91" height="26.66" fill="#c89487"/>
<rect x="1872.97" y="877.44" width="27.91" height="26.66" fill="#b87676"/>
<rect x="1900.84" y="877.44" width="27.91" height="26.66" fill="#ebebbe"/>
<rect x="1399.3" y="904.05" width="27.91" height="26.66" fill="#af7070"/>
<rect x="1427.16" y="904.05" width="27.91" height="26.66" fill="#cfa891"/>
<rect x="1455.03" y="904.05" width="27.91" height="26.66" fill="#cb9e8c"/>
<rect x="1482.89" y="904.05" width="27.91" height="26.66" fill="#cfa891"/>
<rect x="1510.75" y="904.05" width="27.91" height="26.66" fill="#fcfcf7"/>
<rect x="1538.62" y="904.05" width="27.91" height="26.66" fill="#2a0000"/>
<rect x="1566.48" y="904.05" width="27.91" height="26.66" fill="#d5ba9a"/>
<rect x="1594.34" y="904.05" width="27.91" height="26.66" fill="#dccba3"/>
<rect x="1622.21" y="904.05" width="27.91" height="26.66" fill="#c48882"/>
<rect x="1650.07" y="904.05" width="27.91" height="26.66" fill="#c89487"/>
<rect x="1677.93" y="904.05" width="27.91" height="26.66" fill="#c17c7c"/>
<rect x="1705.79" y="904.05" width="27.91" height="26.66" fill="#cb9e8c"/>
<rect x="1733.66" y="904.05" width="27.91" height="26.66" fill="#cfa891"/>
<rect x="1761.52" y="904.05" width="27.91" height="26.66" fill="#d5ba9a"/>
<rect x="1789.38" y="904.05" width="27.91" height="26.66" fill="#c48882"/>
<rect x="1817.25" y="904.05" width="27.91" height="26.66" fill="#c89487"/>
<rect x="1845.11" y="904.05" width="27.91" height="26.66" fill="#c89487"/>
<rect x="1872.97" y="904.05" width="27.91" height="26.66" fill="#b87676"/>
<rect x="1900.84" y="904.05" width="27.91" height="26.66" fill="#ebebbe"/>
<rect x="1399.3" y="930.66" width="27.91" height="26.66" fill="#b87676"/>
<rect x="1427.16" y="930.66" width="27.91" height="26.66" fill="#cfa891"/>
<rect x="1455.03" y="930.66" width="27.91" height="26.66" fill="#cb9e8c"/>
<rect x="1482.89" y="930.66" width="27.91" height="26.66" fill="#d8c29f"/>
<rect x="1510.75" y="930.66" width="27.91" height="26.66" fill="#c17c7c"/>
<rect x="1538.62" y="930.66" width="27.91" height="26.66" fill="#d5ba9a"/>
<rect x="1566.48" y="930.66" width="27.91" height="26.66" fill="#2a0000"/>
<rect x="1594.34" y="930.66" width="27.91" height="26.66" fill="#d5ba9a"/>
<rect x="1622.21" y="930.66" width="27.91" height="26.66" fill="#dccba3"/>
<rect x="1650.07" y="930.66" width="27.91" height="26.66" fill="#d5ba9a"/>
<rect x="1677.93" y="930.66" width="27.91" height="26.66" fill="#c89487"/>
<rect x="1705.79" y="930.66" width="27.91" height="26.66" fill="#d5ba9a"/>
<rect x="1733.66" y="930.66" width="27.91" height="26.66" fill="#d5ba9a"/>
<rect x="1761.52" y="930.66" width="27.91" height="26.66" fill="#d8c29f"/>
<rect x="1789.38" y="930.66" width="27.91" height="26.66" fill="#d5ba9a"/>
<rect x="1817.25" y="930.66" width="27.91" height="26.66" fill="#cfa891"/>
<rect x="1845.11" y="930.66" width="27.91" height="26.66" fill="#cb9e8c"/>
<rect x="1872.97" y="930.66" width="27.91" height="26.66" fill="#c48882"/>
<rect x="1900.84" y="930.66" width="27.91" height="26.66" fill="#ffffff"/>
<rect x="1399.3" y="957.27" width="27.91" height="26.66" fill="#b87676"/>
<rect x="1427.16" y="957.27" width="27.91" height="26.66" fill="#d5ba9a"/>
<rect x="1455.03" y="957.27" width="27.91" height="26.66" fill="#cb9e8c"/>
<rect x="1482.89" y="957.27" width="27.91" height="26.66" fill="#d8c29f"/>
<rect x="1510.75" y="957.27" width="27.91" height="26.66" fill="#dccba3"/>
<rect x="1538.62" y="957.27" width="27.91" height="26.66" fill="#c48882"/>
<rect x="1566.48" y="957.27" width="27.91" height="26.66" fill="#d8c29f"/>
<rect x="1594.34" y="957.27" width="27.91" height="26.66" fill="#2a0000"/>
<rect x="1622.21" y="957.27" width="27.91" height="26.66" fill="#cb9e8c"/>
<rect x="1650.07" y="957.27" width="27.91" height="26.66" fill="#d5ba9a"/>
<rect x="1677.93" y="957.27" width="27.91" height="26.66" fill="#c89487"/>
<rect x="1705.79" y="957.27" width="27.91" height="26.66" fill="#d5ba9a"/>
<rect x="1733.66" y="957.27" width="27.91" height="26.66" fill="#d5ba9a"/>
<rect x="1761.52" y="957.27" width="27.91" height="26.66" fill="#dccba3"/>
<rect x="1789.38" y="957.27" width="27.91" height="26.66" fill="#cfa891"/>
<rect x="1817.25" y="957.27" width="27.91" height="26.66" fill="#e5e1af"/>
<rect x="1845.11" y="957.27" width="27.91" height="26.66" fill="#cb9e8c"/>
<rect x="1872.97" y="957.27" width="27.91" height="26.66" fill="#c48882"/>
<rect x="1900.84" y="957.27" width="27.91" height="26.66" fill="#eeeec9"/>
<rect x="1399.3" y="983.88" width="27.91" height="26.66" fill="#c17c7c"/>
<rect x="1427.16" y="983.88" width="27.91" height="26.66" fill="#d5ba9a"/>
<rect x="1455.03" y="983.88" width="27.91" height="26.66" fill="#cfa891"/>
<rect x="1482.89" y="983.88" width="27.91" height="26.66" fill="#d8c29f"/>
<rect x="1510.75" y="983.88" width="27.91" height="26.66" fill="#c89487"/>
<rect x="1538.62" y="983.88" width="27.91" height="26.66" fill="#cfa891"/>
<rect x="1566.48" y="983.88" width="27.91" height="26.66" fill="#dfd2a7"/>
<rect x="1594.34" y="983.88" width="27.91" height="26.66" fill="#dccba3"/>
<rect x="1622.21" y="983.88" width="27.91" height="26.66" fill="#2a0000"/>
<rect x="1650.07" y="983.88" width="27.91" height="26.66" fill="#f4f4dc"/>
<rect x="1677.93" y="983.88" width="27.91" height="26.66" fill="#c89487"/>
<rect x="1705.79" y="983.88" width="27.91" height="26.66" fill="#d8c29f"/>
<rect x="1733.66" y="983.88" width="27.91" height="26.66" fill="#d8c29f"/>
<rect x="1761.52" y="983.88" width="27.91" height="26.66" fill="#dccba3"/>
<rect x="1789.38" y="983.88" width="27.91" height="26.66" fill="#d8c29f"/>
<rect x="1817.25" y="983.88" width="27.91" height="26.66" fill="#d8c29f"/>
<rect x="1845.11" y="983.88" width="27.91" height="26.66" fill="#cfa891"/>
<rect x="1872.97" y="983.88" width="27.91" height="26.66" fill="#c48882"/>
<rect x="1900.84" y="983.88" width="27.91" height="26.66" fill="#fcfcf7"/>
<rect x="1399.3" y="1010.49" width="27.91" height="26.66" fill="#c17c7c"/>
<rect x="1427.16" y="1010.49" width="27.91" height="26.66" fill="#d5ba9a"/>
<rect x="1455.03" y="1010.49" width="27.91" height="26.66" fill="#cfa891"/>
<rect x="1482.89" y="1010.49" width="27.91" height="26.66" fill="#d8c29f"/>
<rect x="1510.75" y="1010.49" width="27.91" height="26.66" fill="#cb9e8c"/>
<rect x="1538.62" y="1010.49" width="27.91" height="26.66" fill="#d5ba9a"/>
<rect x="1566.48" y="1010.49" width="27.91" height="26.66" fill="#d8c29f"/>
<rect x="1594.34" y="1010.49" width="27.91" height="26.66" fill="#dfd2a7"/>
<rect x="1622.21" y="1010.49" width="27.91" height="26.66" fill="#e8e8b3"/>
<rect x="1650.07" y="1010.49" width="27.91" height="26.66" fill="#2a0000"/>
<rect x="1677.93" y="1010.49" width="27.91" height="26.66" fill="#cb9e8c"/>
<rect x="1705.79" y="1010.49" width="27.91" height="26.66" fill="#d8c29f"/>
<rect x="1733.66" y="1010.49" width="27.91" height="26.66" fill="#d8c29f"/>
<rect x="1761.52" y="1010.49" width="27.91" height="26.66" fill="#dfd2a7"/>
<rect x="1789.38" y="1010.49" width="27.91" height="26.66" fill="#d5ba9a"/>
<rect x="1817.25" y="1010.49" width="27.91" height="26.66" fill="#dfd2a7"/>
<rect x="1845.11" y="1010.49" width="27.91" height="26.66" fill="#cfa891"/>
<rect x="1872.97" y="1010.49" width="27.91" height="26.66" fill="#c48882"/>
<rect x="1900.84" y="1010.49" width="27.91" height="26.66" fill="#ebebbe"/>
<rect x="1399.3" y="1037.11" width="27.91" height="26.66" fill="#c48882"/>
<rect x="1427.16" y="1037.11" width="27.91" height="26.66" fill="#d5ba9a"/>
<rect x="1455.03" y="1037.11" width="27.91" height="26.66" fill="#d5ba9a"/>
<rect x="1482.89" y="1037.11" width="27.91" height="26.66" fill="#d8c29f"/>
<rect x="1510.75" y="1037.11" width="27.91" height="26.66" fill="#cb9e8c"/>
<rect x="1538.62" y="1037.11" width="27.91" height="26.66" fill="#d5ba9a"/>
<rect x="1566.48" y="1037.11" width="27.91" height="26.66" fill="#d8c29f"/>
<rect x="1594.34" y="1037.11" width="27.91" height="26.66" fill="#dfd2a7"/>
<rect x="1622.21" y="1037.11" width="27.91" height="26.66" fill="#cfa891"/>
<rect x="1650.07" y="1037.11" width="27.91" height="26.66" fill="#d5ba9a"/>
<rect x="1677.93" y="1037.11" width="27.91" height="26.66" fill="#2a0000"/>
<rect x="1705.79" y="1037.11" width="27.91" height="26.66" fill="#dfd2a7"/>
<rect x="1733.66" y="1037.11" width="27.91" height="26.66" fill="#dfd2a7"/>
<rect x="1761.52" y="1037.11" width="27.91" height="26.66" fill="#dccba3"/>
<rect x="1789.38" y="1037.11" width="27.91" height="26.66" fill="#d8c29f"/>
<rect x="1817.25" y="1037.11" width="27.91" height="26.66" fill="#d8c29f"/>
<rect x="1845.11" y="1037.11" width="27.91" height="26.66" fill="#d5ba9a"/>
<rect x="1872.97" y="1037.11" width="27.91" height="26.66" fill="#c48882"/>
<rect x="1900.84" y="1037.11" width="27.91" height="26.66" fill="#f7f7e6"/>
<rect x="1399.3" y="1063.72" width="27.91" height="26.66" fill="#c48882"/>
<rect x="1427.16" y="1063.72" width="27.91" height="26.66" fill="#e2daab"/>
<rect x="1455.03" y="1063.72" width="27.91" height="26.66" fill="#cb9e8c"/>
<rect x="1482.89" y="1063.72" width="27.91" height="26.66" fill="#e2daab"/>
<rect x="1510.75" y="1063.72" width="27.91" height="26.66" fill="#cfa891"/>
<rect x="1538.62" y="1063.72" width="27.91" height="26.66" fill="#c89487"/>
<rect x="1566.48" y="1063.72" width="27.91" height="26.66" fill="#d8c29f"/>
<rect x="1594.34" y="1063.72" width="27.91" height="26.66" fill="#dfd2a7"/>
<rect x="1622.21" y="1063.72" width="27.91" height="26.66" fill="#cb9e8c"/>
<rect x="1650.07" y="1063.72" width="27.91" height="26.66" fill="#cfa891"/>
<rect x="1677.93" y="1063.72" width="27.91" height="26.66" fill="#d5ba9a"/>
<rect x="1705.79" y="1063.72" width="27.91" height="26.66" fill="#2a0000"/>
<rect x="1733.66" y="1063.72" width="27.91" height="26.66" fill="#d5ba9a"/>
<rect x="1761.52" y="1063.72" width="27.91" height="26.66" fill="#e8e8b3"/>
<rect x="1789.38" y="1063.72" width="27.91" height="26.66" fill="#cfa891"/>
<rect x="1817.25" y="1063.72" width="27.91" height="26.66" fill="#d5ba9a"/>
<rect x="1845.11" y="1063.72" width="27.91" height="26.66" fill="#d5ba9a"/>
<rect x="1872.97" y="1063.72" width="27.91" height="26.66" fill="#c48882"/>
<rect x="1900.84" y="1063.72" width="27.91" height="26.66" fill="#ebebbe"/>
<rect x="1399.3" y="1090.33" width="27.91" height="26.66" fill="#c17c7c"/>
<rect x="1427.16" y="1090.33" width="27.91" height="26.66" fill="#cfa891"/>
<rect x="1455.03" y="1090.33" width="27.91" height="26.66" fill="#cb9e8c"/>
<rect x="1482.89" y="1090.33" width="27.91" height="26.66" fill="#d5ba9a"/>
<rect x="1510.75" y="1090.33" width="27.91" height="26.66" fill="#c89487"/>
<rect x="1538.62" y="1090.33" width="27.91" height="26.66" fill="#cfa891"/>
<rect x="1566.48" y="1090.33" width="27.91" height="26.66" fill="#d8c29f"/>
<rect x="1594.34" y="1090.33" width="27.91" height="26.66" fill="#dccba3"/>
<rect x="1622.21" y="1090.33" width="27.91" height="26.66" fill="#cb9e8c"/>
<rect x="1650.07" y="1090.33" width="27.91" height="26.66" fill="#cfa891"/>
<rect x="1677.93" y="1090.33" width="27.91" height="26.66" fill="#cb9e8c"/>
<rect x="1705.79" y="1090.33" width="27.91" height="26.66" fill="#d5ba9a"/>
<rect x="1733.66" y="1090.33" width="27.91" height="26.66" fill="#2a0000"/>
<rect x="1761.52" y="1090.33" width="27.91" height="26.66" fill="#dfd2a7"/>
<rect x="1789.38" y="1090.33" width="27.91" height="26.66" fill="#e8e8b3"/>
<rect x="1817.25" y="1090.33" width="27.91" height="26.66" fill="#cfa891"/>
<rect x="1845.11" y="1090.33" width="27.91" height="26.66" fill="#cfa891"/>
<rect x="1872.97" y="1090.33" width="27.91" height="26.66" fill="#c89487"/>
<rect x="1900.84" y="1090.33" width="27.91" height="26.66" fill="#fcfcf7"/>
<rect x="1399.3" y="1116.94" width="27.91" height="26.66" fill="#c17c7c"/>
<rect x="1427.16" y="1116.94" width="27.91" height="26.66" fill="#d8c29f"/>
<rect x="1455.03" y="1116.94" width="27.91" height="26.66" fill="#cb9e8c"/>
<rect x="1482.89" y="1116.94" width="27.91" height="26.66" fill="#dccba3"/>
<rect x="1510.75" y="1116.94" width="27.91" height="26.66" fill="#d8c29f"/>
<rect x="1538.62" y="1116.94" width="27.91" height="26.66" fill="#c89487"/>
<rect x="1566.48" y="1116.94" width="27.91" height="26.66" fill="#d5ba9a"/>
<rect x="1594.34" y="1116.94" width="27.91" height="26.66" fill="#e5e1af"/>
<rect x="1622.21" y="1116.94" width="27.91" height="26.66" fill="#cb9e8c"/>
<rect x="1650.07" y="1116.94" width="27.91" height="26.66" fill="#d5ba9a"/>
<rect x="1677.93" y="1116.94" width="27.91" height="26.66" fill="#cb9e8c"/>
<rect x="1705.79" y="1116.94" width="27.91" height="26.66" fill="#dfd2a7"/>
<rect x="1733.66" y="1116.94" width="27.91" height="26.66" fill="#d5ba9a"/>
<rect x="1761.52" y="1116.94" width="27.91" height="26.66" fill="#2a0000"/>
<rect x="1789.38" y="1116.94" width="27.91" height="26.66" fill="#cfa891"/>
<rect x="1817.25" y="1116.94" width="27.91" height="26.66" fill="#e8e8b3"/>
<rect x="1845.11" y="1116.94" width="27.91" height="26.66" fill="#d5ba9a"/>
<rect x="1872.97" y="1116.94" width="27.91" height="26.66" fill="#c48882"/>
<rect x="1900.84" y="1116.94" width="27.91" height="26.66" fill="#ebebbe"/>
<rect x="1399.3" y="1143.55" width="27.91" height="26.66" fill="#c17c7c"/>
<rect x="1427.16" y="1143.55" width="27.91" height="26.66" fill="#cfa891"/>
<rect x="1455.03" y="1143.55" width="27.91" height="26.66" fill="#cb9e8c"/>
<rect x="1482.89" y="1143.55" width="27.91" height="26.66" fill="#d8c29f"/>
<rect x="1510.75" y="1143.55" width="27.91" height="26.66" fill="#c89487"/>
<rect x="1538.62" y="1143.55" width="27.91" height="26.66" fill="#cfa891"/>
<rect x="1566.48" y="1143.55" width="27.91" height="26.66" fill="#dfd2a7"/>
<rect x="1594.34" y="1143.55" width="27.91" height="26.66" fill="#dccba3"/>
<rect x="1622.21" y="1143.55" width="27.91" height="26.66" fill="#d8c29f"/>
<rect x="1650.07" y="1143.55" width="27.91" height="26.66" fill="#d5ba9a"/>
<rect x="1677.93" y="1143.55" width="27.91" height="26.66" fill="#cb9e8c"/>
<rect x="1705.79" y="1143.55" width="27.91" height="26.66" fill="#d5ba9a"/>
<rect x="1733.66" y="1143.55" width="27.91" height="26.66" fill="#dfd2a7"/>
<rect x="1761.52" y="1143.55" width="27.91" height="26.66" fill="#d8c29f"/>
<rect x="1789.38" y="1143.55" width="27.91" height="26.66" fill="#2a0000"/>
<rect x="1817.25" y="1143.55" width="27.91" height="26.66" fill="#d5ba9a"/>
<rect x="1845.11" y="1143.55" width="27.91" height="26.66" fill="#cfa891"/>
<rect x="1872.97" y="1143.55" width="27.91" height="26.66" fill="#c48882"/>
<rect x="1900.84" y="1143.55" width="27.91" height="26.66" fill="#fcfcf7"/>
<rect x="1399.3" y="1170.16" width="27.91" height="26.66" fill="#c17c7c"/>
<rect x="1427.16" y="1170.16" width="27.91" height="26.66" fill="#d8c29f"/>
<rect x="1455.03" y="1170.16" width="27.91" height="26.66" fill="#cfa891"/>
<rect x="1482.89" y="1170.16" width="27.91" height="26.66" fill="#dccba3"/>
<rect x="1510.75" y="1170.16" width="27.91" height="26.66" fill="#cfa891"/>
<rect x="1538.62" y="1170.16" width="27.91" height="26.66" fill="#cb9e8c"/>
<rect x="1566.48" y="1170.16" width="27.91" height="26.66" fill="#d8c29f"/>
<rect x="1594.34" y="1170.16" width="27.91" height="26.66" fill="#eeeec9"/>
<rect x="1622.21" y="1170.16" width="27.91" height="26.66" fill="#cfa891"/>
<rect x="1650.07" y="1170.16" width="27.91" height="26.66" fill="#dfd2a7"/>
<rect x="1677.93" y="1170.16" width="27.91" height="26.66" fill="#cb9e8c"/>
<rect x="1705.79" y="1170.16" width="27.91" height="26.66" fill="#d8c29f"/>
<rect x="1733.66" y="1170.16" width="27.91" height="26.66" fill="#d8c29f"/>
<rect x="1761.52" y="1170.16" width="27.91" height="26.66" fill="#e5e1af"/>
<rect x="1789.38" y="1170.16" width="27.91" height="26.66" fill="#d5ba9a"/>
<rect x="1817.25" y="1170.16" width="27.91" height="26.66" fill="#2a0000"/>
<rect x="1845.11" y="1170.16" width="27.91" height="26.66" fill="#cfa891"/>
<rect x="1872.97" y="1170.16" width="27.91" height="26.66" fill="#c48882"/>
<rect x="1900.84" y="1170.16" width="27.91" height="26.66" fill="#eeeec9"/>
<rect x="1399.3" y="1196.77" width="27.91" height="26.66" fill="#c17c7c"/>
<rect x="1427.16" y="1196.77" width="27.91" height="26.66" fill="#cfa891"/>
<rect x="1455.03" y="1196.77" width="27.91" height="26.66" fill="#d5ba9a"/>
<rect x="1482.89" y="1196.77" width="27.91" height="26.66" fill="#dfd2a7"/>
<rect x="1510.75" y="1196.77" width="27.91" height="26.66" fill="#c17c7c"/>
<rect x="1538.62" y="1196.77" width="27.91" height="26.66" fill="#cb9e8c"/>
<rect x="1566.48" y="1196.77" width="27.91" height="26.66" fill="#d8c29f"/>
<rect x="1594.34" y="1196.77" width="27.91" height="26.66" fill="#d8c29f"/>
<rect x="1622.21" y="1196.77" width="27.91" height="26.66" fill="#c89487"/>
<rect x="1650.07" y="1196.77" width="27.91" height="26.66" fill="#cfa891"/>
<rect x="1677.93" y="1196.77" width="27.91" height="26.66" fill="#c89487"/>
<rect x="1705.79" y="1196.77" width="27.91" height="26.66" fill="#d5ba9a"/>
<rect x="1733.66" y="1196.77" width="27.91" height="26.66" fill="#d8c29f"/>
<rect x="1761.52" y="1196.77" width="27.91" height="26.66" fill="#dccba3"/>
<rect x="1789.38" y="1196.77" width="27.91" height="26.66" fill="#cfa891"/>
<rect x="1817.25" y="1196.77" width="27.91" height="26.66" fill="#cfa891"/>
<rect x="1845.11" y="1196.77" width="27.91" height="26.66" fill="#2a0000"/>
<rect x="1872.97" y="1196.77" width="27.91" height="26.66" fill="#c48882"/>
<rect x="1900.84" y="1196.77" width="27.91" height="26.66" fill="#f7f7e6"/>
<rect x="1399.3" y="1223.38" width="27.91" height="26.66" fill="#af7070"/>
<rect x="1427.16" y="1223.38" width="27.91" height="26.66" fill="#cfa891"/>
<rect x="1455.03" y="1223.38" width="27.91" height="26.66" fill="#c17c7c"/>
<rect x="1482.89" y="1223.38" width="27.91" height="26.66" fill="#cb9e8c"/>
<rect x="1510.75" y="1223.38" width="27.91" height="26.66" fill="#b87676"/>
<rect x="1538.62" y="1223.38" width="27.91" height="26.66" fill="#c17c7c"/>
<rect x="1566.48" y="1223.38" width="27.91" height="26.66" fill="#d5ba9a"/>
<rect x="1594.34" y="1223.38" width="27.91" height="26.66" fill="#d5ba9a"/>
<rect x="1622.21" y="1223.38" width="27.91" height="26.66" fill="#c89487"/>
<rect x="1650.07" y="1223.38" width="27.91" height="26.66" fill="#cb9e8c"/>
<rect x="1677.93" y="1223.38" width="27.91" height="26.66" fill="#c17c7c"/>
<rect x="1705.79" y="1223.38" width="27.91" height="26.66" fill="#cb9e8c"/>
<rect x="1733.66" y="1223.38" width="27.91" height="26.66" fill="#cb9e8c"/>
<rect x="1761.52" y="1223.38" width="27.91" height="26.66" fill="#d5ba9a"/>
<rect x="1789.38" y="1223.38" width="27.91" height="26.66" fill="#cb9e8c"/>
<rect x="1817.25" y="1223.38" width="27.91" height="26.66" fill="#c89487"/>
<rect x="1845.11" y="1223.38" width="27.91" height="26.66" fill="#cfa891"/>
<rect x="1872.97" y="1223.38" width="27.91" height="26.66" fill="#2a0000"/>
<rect x="1900.84" y="1223.38" width="27.91" height="26.66" fill="#dfd2a7"/>
<rect x="1399.3" y="1249.99" width="27.91" height="26.66" fill="#af7070"/>
<rect x="1427.16" y="1249.99" width="27.91" height="26.66" fill="#cfa891"/>
<rect x="1455.03" y="1249.99" width="27.91" height="26.66" fill="#c89487"/>
<rect x="1482.89" y="1249.99" width="27.91" height="26.66" fill="#cfa891"/>
<rect x="1510.75" y="1249.99" width="27.91" height="26.66" fill="#c89487"/>
<rect x="1538.62" y="1249.99" width="27.91" height="26.66" fill="#c89487"/>
<rect x="1566.48" y="1249.99" width="27.91" height="26.66" fill="#dccba3"/>
<rect x="1594.34" y="1249.99" width="27.91" height="26.66" fill="#dccba3"/>
<rect x="1622.21" y="1249.99" width="27.91" height="26.66" fill="#cfa891"/>
<rect x="1650.07" y="1249.99" width="27.91" height="26.66" fill="#d5ba9a"/>
<rect x="1677.93" y="1249.99" width="27.91" height="26.66" fill="#c48882"/>
<rect x="1705.79" y="1249.99" width="27.91" height="26.66" fill="#cfa891"/>
<rect x="1733.66" y="1249.99" width="27.91" height="26.66" fill="#cb9e8c"/>
<rect x="1761.52" y="1249.99" width="27.91" height="26.66" fill="#d8c29f"/>
<rect x="1789.38" y="1249.99" width="27.91" height="26.66" fill="#cfa891"/>
<rect x="1817.25" y="1249.99" width="27.91" height="26.66" fill="#cfa891"/>
<rect x="1845.11" y="1249.99" width="27.91" height="26.66" fill="#cb9e8c"/>
<rect x="1872.97" y="1249.99" width="27.91" height="26.66" fill="#b87676"/>
<rect x="1900.84" y="1249.99" width="27.91" height="26.66" fill="#2a0000"/>
<line x1="1427.16" y1="771" x2="1427.16" y2="1276.6" class="g"/>
<line x1="1399.3" y1="797.61" x2="1928.7" y2="797.61" class="g"/>
<line x1="1455.03" y1="771" x2="1455.03" y2="1276.6" class="g"/>
<line x1="1399.3" y1="824.22" x2="1928.7" y2="824.22" class="g"/>
<line x1="1482.89" y1="771" x2="1482.89" y2="1276.6" class="g"/>
<line x1="1399.3" y1="850.83" x2="1928.7" y2="850.83" class="g"/>
<line x1="1510.75" y1="771" x2="1510.75" y2="1276.6" class="g"/>
<line x1="1399.3" y1="877.44" x2="1928.7" y2="877.44" class="g"/>
<line x1="1538.62" y1="771" x2="1538.62" y2="1276.6" class="g"/>
<line x1="1399.3" y1="904.05" x2="1928.7" y2="904.05" class="g"/>
<line x1="1566.48" y1="771" x2="1566.48" y2="1276.6" class="g"/>
<line x1="1399.3" y1="930.66" x2="1928.7" y2="930.66" class="g"/>
<line x1="1594.34" y1="771" x2="1594.34" y2="1276.6" class="g"/>
<line x1="1399.3" y1="957.27" x2="1928.7" y2="957.27" class="g"/>
<line x1="1622.21" y1="771" x2="1622.21" y2="1276.6" class="g"/>
<line x1="1399.3" y1="983.88" x2="1928.7" y2="983.88" class="g"/>
<line x1="1650.07" y1="771" x2="1650.07" y2="1276.6" class="g"/>
<line x1="1399.3" y1="1010.49" x2="1928.7" y2="1010.49" class="g"/>
<line x1="1677.93" y1="771" x2="1677.93" y2="1276.6" class="g"/>
<line x1="1399.3" y1="1037.11" x2="1928.7" y2="1037.11" class="g"/>
<line x1="1705.79" y1="771" x2="1705.79" y2="1276.6" class="g"/>
<line x1="1399.3" y1="1063.72" x2="1928.7" y2="1063.72" class="g"/>
<line x1="1733.66" y1="771" x2="1733.66" y2="1276.6" class="g"/>
<line x1="1399.3" y1="1090.33" x2="1928.7" y2="1090.33" class="g"/>
<line x1="1761.52" y1="771" x2="1761.52" y2="1276.6" class="g"/>
<line x1="1399.3" y1="1116.94" x2="1928.7" y2="1116.94" class="g"/>
<line x1="1789.38" y1="771" x2="1789.38" y2="1276.6" class="g"/>
<line x1="1399.3" y1="1143.55" x2="1928.7" y2="1143.55" class="g"/>
<line x1="1817.25" y1="771" x2="1817.25" y2="1276.6" class="g"/>
<line x1="1399.3" y1="1170.16" x2="1928.7" y2="1170.16" class="g"/>
<line x1="1845.11" y1="771" x2="1845.11" y2="1276.6" class="g"/>
<line x1="1399.3" y1="1196.77" x2="1928.7" y2="1196.77" class="g"/>
<line x1="1872.97" y1="771" x2="1872.97" y2="1276.6" class="g"/>
<line x1="1399.3" y1="1223.38" x2="1928.7" y2="1223.38" class="g"/>
<line x1="1900.84" y1="771" x2="1900.84" y2="1276.6" class="g"/>
<line x1="1399.3" y1="1249.99" x2="1928.7" y2="1249.99" class="g"/>
<line x1="1413.23" y1="769.4" x2="1413.23" y2="771" class="t"/>
<line x1="1413.23" y1="1276.6" x2="1413.23" y2="1278.2" class="t"/>
<line x1="1397.7" y1="784.31" x2="1399.3" y2="784.31" class="t"/>
<line x1="1928.7" y1="784.31" x2="1930.3" y2="784.31" class="t"/>
<line x1="1441.09" y1="769.4" x2="1441.09" y2="771" class="t"/>
<line x1="1441.09" y1="1276.6" x2="1441.09" y2="1278.2" class="t"/>
<line x1="1397.7" y1="810.92" x2="1399.3" y2="810.92" class="t"/>
<line x1="1928.7" y1="810.92" x2="1930.3" y2="810.92" class="t"/>
<line x1="1468.96" y1="769.4" x2="1468.96" y2="771" class="t"/>
<line x1="1468.96" y1="1276.6" x2="1468.96" y2="1278.2" class="t"/>
<line x1="1397.7" y1="837.53" x2="1399.3" y2="837.53" class="t"/>
<line x1="1928.7" y1="837.53" x2="1930.3" y2="837.53" class="t"/>
<line x1="1496.82" y1="769.4" x2="1496.82" y2="771" class="t"/>
<line x1="1496.82" y1="1276.6" x2="1496.82" y2="1278.2" class="t"/>
<line x1="1397.7" y1="864.14" x2="1399.3" y2="864.14" class="t"/>
<line x1="1928.7" y1="864.14" x2="1930.3" y2="864.14" class="t"/>
<line x1="1524.68" y1="769.4" x2="1524.68" y2="771" class="t"/>
<line x1="1524.68" y1="1276.6" x2="1524.68" y2="1278.2" class="t"/>
<line x1="1397.7" y1="890.75" x2="1399.3" y2="890.75" class="t"/>
<line x1="1928.7" y1="890.75" x2="1930.3" y2="890.75" class="t"/>
<line x1="1552.55" y1="769.4" x2="1552.55" y2="771" class="t"/>
<line x1="1552.55" y1="1276.6" x2="1552.55" y2="1278.2" class="t"/>
<line x1="1397.7" y1="917.36" x2="1399.3" y2="917.36" class="t"/>
<line x1="1928.7" y1="917.36" x2="1930.3" y2="917.36" class="t"/>
<line x1="1580.41" y1="769.4" x2="1580.41" y2="771" class="t"/>
<line x1="1580.41" y1="1276.6" x2="1580.41" y2="1278.2" class="t"/>
<line x1="1397.7" y1="943.97" x2="1399.3" y2="943.97" class="t"/>
<line x1="1928.7" y1="943.97" x2="1930.3" y2="943.97" class="t"/>
<line x1="1608.27" y1="769.4" x2="1608.27" y2="771" class="t"/>
<line x1="1608.27" y1="1276.6" x2="1608.27" y2="1278.2" class="t"/>
<line x1="1397.7" y1="970.58" x2="1399.3" y2="970.58" class="t"/>
<line x1="1928.7" y1="970.58" x2="1930.3" y2="970.58" class="t"/>
<line x1="1636.14" y1="769.4" x2="1636.14" y2="771" class="t"/>
<line x1="1636.14" y1="1276.6" x2="1636.14" y2="1278.2" class="t"/>
<line x1="1397.7" y1="997.19" x2="1399.3" y2="997.19" class="t"/>
<line x1="1928.7" y1="997.19" x2="1930.3" y2="997.19" class="t"/>
<line x1="1664" y1="769.4" x2="1664" y2="771" class="t"/>
<line x1="1664" y1="1276.6" x2="1664" y2="1278.2" class="t"/>
<line x1="1397.7" y1="1023.8" x2="1399.3" y2="1023.8" class="t"/>
<line x1="1928.7" y1="1023.8" x2="1930.3" y2="1023.8" class="t"/>
<line x1="1691.86" y1="769.4" x2="1691.86" y2="771" class="t"/>
<line x1="1691.86" y1="1276.6" x2="1691.86" y2="1278.2" class="t"/>
<line x1="1397.7" y1="1050.41" x2="1399.3" y2="1050.41" class="t"/>
<line x1="1928.7" y1="1050.41" x2="1930.3" y2="1050.41" class="t"/>
<line x1="1719.73" y1="769.4" x2="1719.73" y2="771" class="t"/>
<line x1="1719.73" y1="1276.6" x2="1719.73" y2="1278.2" class="t"/>
<line x1="1397.7" y1="1077.02" x2="1399.3" y2="1077.02" class="t"/>
<line x1="1928.7" y1="1077.02" x2="1930.3" y2="1077.02" class="t"/>
<line x1="1747.59" y1="769.4" x2="1747.59" y2="771" class="t"/>
<line x1="1747.59" y1="1276.6" x2="1747.59" y2="1278.2" class="t"/>
<line x1="1397.7" y1="1103.63" x2="1399.3" y2="1103.63" class="t"/>
<line x1="1928.7" y1="1103.63" x2="1930.3" y2="1103.63" class="t"/>
<line x1="1775.45" y1="769.4" x2="1775.45" y2="771" class="t"/>
<line x1="1775.45" y1="1276.6" x2="1775.45" y2="1278.2" class="t"/>
<line x1="1397.7" y1="1130.24" x2="1399.3" y2="1130.24" class="t"/>
<line x1="1928.7" y1="1130.24" x2="1930.3" y2="1130.24" class="t"/>
<line x1="1803.32" y1="769.4" x2="1803.32" y2="771" class="t"/>
<line x1="1803.32" y1="1276.6" x2="1803.32" y2="1278.2" class="t"/>
<line x1="1397.7" y1="1156.85" x2="1399.3" y2="1156.85" class="t"/>
<line x1="1928.7" y1="1156.85" x2="1930.3" y2="1156.85" class="t"/>
<line x1="1831.18" y1="769.4" x2="1831.18" y2="771" class="t"/>
<line x1="1831.18" y1="1276.6" x2="1831.18" y2="1278.2" class="t"/>
<line x1="1397.7" y1="1183.46" x2="1399.3" y2="1183.46" class="t"/>
<line x1="1928.7" y1="1183.46" x2="1930.3" y2="1183.46" class="t"/>
<line x1="1859.04" y1="769.4" x2="1859.04" y2="771" class="t"/>
<line x1="1859.04" y1="1276.6" x2="1859.04" y2="1278.2" class="t"/>
<line x1="1397.7" y1="1210.07" x2="1399.3" y2="1210.07" class="t"/>
<line x1="1928.7" y1="1210.07" x2="1930.3" y2="1210.07" class="t"/>
<line x1="1886.91" y1="769.4" x2="1886.91" y2="771" class="t"/>
<line x1="1886.91" y1="1276.6" x2="1886.91" y2="1278.2" class="t"/>
<line x1="1397.7" y1="1236.68" x2="1399.3" y2="1236.68" class="t"/>
<line x1="1928.7" y1="1236.68" x2="1930.3" y2="1236.68" class="t"/>
<line x1="1914.77" y1="769.4" x2="1914.77" y2="771" class="t"/>
<line x1="1914.77" y1="1276.6" x2="1914.77" y2="1278.2" class="t"/>
<line x1="1397.7" y1="1263.29" x2="1399.3" y2="1263.29" class="t"/>
<line x1="1928.7" y1="1263.29" x2="1930.3" y2="1263.29" class="t"/>
<line x1="1399.3" y1="770.5" x2="1928.7" y2="770.5" class="b"/>
<line x1="1929.4" y1="770" x2="1929.4" y2="1276.6" class="b"/>
<rect x="1943.4" y="1260.22" width="18.9" height="15.83" fill="#2a0000"/>
<rect x="1943.4" y="1244.44" width="18.9" height="15.83" fill="#472525"/>
<rect x="1943.4" y="1228.66" width="18.9" height="15.83" fill="#5b3535"/>
<rect x="1943.4" y="1212.88" width="18.9" height="15.83" fill="#6b4141"/>
<rect x="1943.4" y="1197.09" width="18.9" height="15.83" fill="#794b4b"/>
<rect x="1943.4" y="1181.31" width="18.9" height="15.83" fill="#865454"/>
<rect x="1943.4" y="1165.53" width="18.9" height="15.83" fill="#915c5c"/>
<rect x="1943.4" y="1149.75" width="18.9" height="15.83" fill="#9c6363"/>
<rect x="1943.4" y="1133.97" width="18.9" height="15.83" fill="#a66a6a"/>
<rect x="1943.4" y="1118.19" width="18.9" height="15.83" fill="#af7070"/>
<rect x="1943.4" y="1102.41" width="18.9" height="15.83" fill="#b87676"/>
<rect x="1943.4" y="1086.62" width="18.9" height="15.83" fill="#c17c7c"/>
<rect x="1943.4" y="1070.84" width="18.9" height="15.83" fill="#c48882"/>
<rect x="1943.4" y="1055.06" width="18.9" height="15.83" fill="#c89487"/>
<rect x="1943.4" y="1039.28" width="18.9" height="15.83" fill="#cb9e8c"/>
<rect x="1943.4" y="1023.5" width="18.9" height="15.83" fill="#cfa891"/>
<rect x="1943.4" y="1007.72" width="18.9" height="15.83" fill="#d2b196"/>
<rect x="1943.4" y="991.94" width="18.9" height="15.83" fill="#d5ba9a"/>
<rect x="1943.4" y="976.16" width="18.9" height="15.83" fill="#d8c29f"/>
<rect x="1943.4" y="960.38" width="18.9" height="15.83" fill="#dccba3"/>
<rect x="1943.4" y="944.59" width="18.9" height="15.83" fill="#dfd2a7"/>
<rect x="1943.4" y="928.81" width="18.9" height="15.83" fill="#e2daab"/>
<rect x="1943.4" y="913.03" width="18.9" height="15.83" fill="#e5e1af"/>
<rect x="1943.4" y="897.25" width="18.9" height="15.83" fill="#e8e8b3"/>
<rect x="1943.4" y="881.47" width="18.9" height="15.83" fill="#ebebbe"/>
<rect x="1943.4" y="865.69" width="18.9" height="15.83" fill="#eeeec9"/>
<rect x="1943.4" y="849.91" width="18.9" height="15.83" fill="#f1f1d3"/>
<rect x="1943.4" y="834.12" width="18.9" height="15.83" fill="#f4f4dc"/>
<rect x="1943.4" y="818.34" width="18.9" height="15.83" fill="#f7f7e6"/>
<rect x="1943.4" y="802.56" width="18.9" height="15.83" fill="#f9f9ee"/>
<rect x="1943.4" y="786.78" width="18.9" height="15.83" fill="#fcfcf7"/>
<rect x="1943.4" y="771" width="18.9" height="15.83" fill="#ffffff"/>
<line x1="1943.9" y1="771" x2="1943.9" y2="1276" class="cbl" style="stroke:#444"/>
<line x1="1961.8" y1="771" x2="1961.8" y2="1276" class="cbr"/>
<line x1="1943.4" y1="771.8" x2="1962.3" y2="771.8" class="cbt"/>
<line x1="1958.3" y1="1277.1" x2="1962.3" y2="1277.1" class="ct"/>
<line x1="1958.3" y1="1210.8" x2="1962.3" y2="1210.8" class="ct"/>
<line x1="1958.3" y1="1144.5" x2="1962.3" y2="1144.5" class="ct"/>
<line x1="1958.3" y1="1078.2" x2="1962.3" y2="1078.2" class="ct"/>
<line x1="1958.3" y1="1011.9" x2="1962.3" y2="1011.9" class="ct"/>
<line x1="1958.3" y1="945.6" x2="1962.3" y2="945.6" class="ct"/>
<line x1="1958.3" y1="879.3" x2="1962.3" y2="879.3" class="ct"/>
<line x1="1958.3" y1="813" x2="1962.3" y2="813" class="ct"/>
</svg>
<div class="vl" style="left:13px;top:68px;height:567px"></div>
<div class="vl" style="left:1353px;top:764px;height:561px"></div>
<div class="tl" style="left:596.8px;top:576.7px">0</div>
<div class="tl" style="left:596.8px;top:503.83px">0.01</div>
<div class="tl" style="left:596.8px;top:430.96px">0.02</div>
<div class="tl" style="left:596.8px;top:358.09px">0.03</div>
<div class="tl" style="left:596.8px;top:285.22px">0.04</div>
<div class="tl" style="left:596.8px;top:212.35px">0.05</div>
<div class="tl" style="left:596.8px;top:139.48px">0.06</div>
<div class="tl" style="left:596.8px;top:66.61px">0.07</div>
<div class="rl" style="right:1959.5px;top:74.95px">Fp1</div>
<div class="rl" style="right:1959.5px;top:102.06px">Fp2</div>
<div class="rl" style="right:1959.5px;top:129.16px">F3</div>
<div class="rl" style="right:1959.5px;top:156.27px">F4</div>
<div class="rl" style="right:1959.5px;top:183.37px">C3</div>
<div class="rl" style="right:1959.5px;top:210.48px">C4</div>
<div class="rl" style="right:1959.5px;top:237.58px">P3</div>
<div class="rl" style="right:1959.5px;top:264.69px">P4</div>
<div class="rl" style="right:1959.5px;top:291.79px">O1</div>
<div class="rl" style="right:1959.5px;top:318.9px">O2</div>
<div class="rl" style="right:1959.5px;top:346.01px">F7</div>
<div class="rl" style="right:1959.5px;top:373.11px">F8</div>
<div class="rl" style="right:1959.5px;top:400.22px">T3</div>
<div class="rl" style="right:1959.5px;top:427.32px">T4</div>
<div class="rl" style="right:1959.5px;top:454.43px">T5</div>
<div class="rl" style="right:1959.5px;top:481.53px">T6</div>
<div class="rl" style="right:1959.5px;top:508.64px">Fz</div>
<div class="rl" style="right:1959.5px;top:535.74px">Cz</div>
<div class="rl" style="right:1959.5px;top:562.85px">Pz</div>
<div class="cl" style="right:1931.08px;top:593.3px">Fp1</div>
<div class="cl" style="right:1904.44px;top:593.3px">Fp2</div>
<div class="cl" style="right:1877.79px;top:593.3px">F3</div>
<div class="cl" style="right:1851.15px;top:593.3px">F4</div>
<div class="cl" style="right:1824.51px;top:593.3px">C3</div>
<div class="cl" style="right:1797.87px;top:593.3px">C4</div>
<div class="cl" style="right:1771.23px;top:593.3px">P3</div>
<div class="cl" style="right:1744.58px;top:593.3px">P4</div>
<div class="cl" style="right:1717.94px;top:593.3px">O1</div>
<div class="cl" style="right:1691.3px;top:593.3px">O2</div>
<div class="cl" style="right:1664.66px;top:593.3px">F7</div>
<div class="cl" style="right:1638.02px;top:593.3px">F8</div>
<div class="cl" style="right:1611.37px;top:593.3px">T3</div>
<div class="cl" style="right:1584.73px;top:593.3px">T4</div>
<div class="cl" style="right:1558.09px;top:593.3px">T5</div>
<div class="cl" style="right:1531.45px;top:593.3px">T6</div>
<div class="cl" style="right:1504.81px;top:593.3px">Fz</div>
<div class="cl" style="right:1478.16px;top:593.3px">Cz</div>
<div class="cl" style="right:1451.52px;top:593.3px">Pz</div>
<div class="tl" style="left:1282px;top:571.3px">0</div>
<div class="tl" style="left:1282px;top:501px">0.01</div>
<div class="tl" style="left:1282px;top:430.7px">0.02</div>
<div class="tl" style="left:1282px;top:360.4px">0.03</div>
<div class="tl" style="left:1282px;top:290.1px">0.04</div>
<div class="tl" style="left:1282px;top:219.8px">0.05</div>
<div class="tl" style="left:1282px;top:149.5px">0.06</div>
<div class="tl" style="left:1282px;top:79.2px">0.07</div>
<div class="rl" style="right:1282.9px;top:74.4px">Fp1</div>
<div class="rl" style="right:1282.9px;top:101.2px">Fp2</div>
<div class="rl" style="right:1282.9px;top:128px">F3</div>
<div class="rl" style="right:1282.9px;top:154.8px">F4</div>
<div class="rl" style="right:1282.9px;top:181.6px">C3</div>
<div class="rl" style="right:1282.9px;top:208.4px">C4</div>
<div class="rl" style="right:1282.9px;top:235.2px">P3</div>
<div class="rl" style="right:1282.9px;top:262px">P4</div>
<div class="rl" style="right:1282.9px;top:288.8px">O1</div>
<div class="rl" style="right:1282.9px;top:315.6px">O2</div>
<div class="rl" style="right:1282.9px;top:342.4px">F7</div>
<div class="rl" style="right:1282.9px;top:369.2px">F8</div>
<div class="rl" style="right:1282.9px;top:396px">T3</div>
<div class="rl" style="right:1282.9px;top:422.8px">T4</div>
<div class="rl" style="right:1282.9px;top:449.6px">T5</div>
<div class="rl" style="right:1282.9px;top:476.4px">T6</div>
<div class="rl" style="right:1282.9px;top:503.2px">Fz</div>
<div class="rl" style="right:1282.9px;top:530px">Cz</div>
<div class="rl" style="right:1282.9px;top:556.8px">Pz</div>
<div class="cl" style="right:1253.49px;top:587.1px">Fp1</div>
<div class="cl" style="right:1226.67px;top:587.1px">Fp2</div>
<div class="cl" style="right:1199.85px;top:587.1px">F3</div>
<div class="cl" style="right:1173.03px;top:587.1px">F4</div>
<div class="cl" style="right:1146.21px;top:587.1px">C3</div>
<div class="cl" style="right:1119.38px;top:587.1px">C4</div>
<div class="cl" style="right:1092.56px;top:587.1px">P3</div>
<div class="cl" style="right:1065.74px;top:587.1px">P4</div>
<div class="cl" style="right:1038.92px;top:587.1px">O1</div>
<div class="cl" style="right:1012.1px;top:587.1px">O2</div>
<div class="cl" style="right:985.28px;top:587.1px">F7</div>
<div class="cl" style="right:958.46px;top:587.1px">F8</div>
<div class="cl" style="right:931.64px;top:587.1px">T3</div>
<div class="cl" style="right:904.82px;top:587.1px">T4</div>
<div class="cl" style="right:877.99px;top:587.1px">T5</div>
<div class="cl" style="right:851.17px;top:587.1px">T6</div>
<div class="cl" style="right:824.35px;top:587.1px">Fz</div>
<div class="cl" style="right:797.53px;top:587.1px">Cz</div>
<div class="cl" style="right:770.71px;top:587.1px">Pz</div>
<div class="tl" style="left:1961px;top:571.8px">0</div>
<div class="tl" style="left:1961px;top:513.93px">0.01</div>
<div class="tl" style="left:1961px;top:456.06px">0.02</div>
<div class="tl" style="left:1961px;top:398.19px">0.03</div>
<div class="tl" style="left:1961px;top:340.32px">0.04</div>
<div class="tl" style="left:1961px;top:282.45px">0.05</div>
<div class="tl" style="left:1961px;top:224.58px">0.06</div>
<div class="tl" style="left:1961px;top:166.71px">0.07</div>
<div class="tl" style="left:1961px;top:108.84px">0.08</div>
<div class="rl" style="right:604.1px;top:74.39px">Fp1</div>
<div class="rl" style="right:604.1px;top:101.18px">Fp2</div>
<div class="rl" style="right:604.1px;top:127.97px">F3</div>
<div class="rl" style="right:604.1px;top:154.76px">F4</div>
<div class="rl" style="right:604.1px;top:181.55px">C3</div>
<div class="rl" style="right:604.1px;top:208.34px">C4</div>
<div class="rl" style="right:604.1px;top:235.13px">P3</div>
<div class="rl" style="right:604.1px;top:261.92px">P4</div>
<div class="rl" style="right:604.1px;top:288.71px">O1</div>
<div class="rl" style="right:604.1px;top:315.5px">O2</div>
<div class="rl" style="right:604.1px;top:342.29px">F7</div>
<div class="rl" style="right:604.1px;top:369.08px">F8</div>
<div class="rl" style="right:604.1px;top:395.87px">T3</div>
<div class="rl" style="right:604.1px;top:422.66px">T4</div>
<div class="rl" style="right:604.1px;top:449.45px">T5</div>
<div class="rl" style="right:604.1px;top:476.24px">T6</div>
<div class="rl" style="right:604.1px;top:503.03px">Fz</div>
<div class="rl" style="right:604.1px;top:529.82px">Cz</div>
<div class="rl" style="right:604.1px;top:556.61px">Pz</div>
<div class="cl" style="right:575.15px;top:586.9px">Fp1</div>
<div class="cl" style="right:548.04px;top:586.9px">Fp2</div>
<div class="cl" style="right:520.94px;top:586.9px">F3</div>
<div class="cl" style="right:493.83px;top:586.9px">F4</div>
<div class="cl" style="right:466.73px;top:586.9px">C3</div>
<div class="cl" style="right:439.62px;top:586.9px">C4</div>
<div class="cl" style="right:412.52px;top:586.9px">P3</div>
<div class="cl" style="right:385.41px;top:586.9px">P4</div>
<div class="cl" style="right:358.31px;top:586.9px">O1</div>
<div class="cl" style="right:331.2px;top:586.9px">O2</div>
<div class="cl" style="right:304.09px;top:586.9px">F7</div>
<div class="cl" style="right:276.99px;top:586.9px">F8</div>
<div class="cl" style="right:249.88px;top:586.9px">T3</div>
<div class="cl" style="right:222.78px;top:586.9px">T4</div>
<div class="cl" style="right:195.67px;top:586.9px">T5</div>
<div class="cl" style="right:168.57px;top:586.9px">T6</div>
<div class="cl" style="right:141.46px;top:586.9px">Fz</div>
<div class="cl" style="right:114.36px;top:586.9px">Cz</div>
<div class="cl" style="right:87.25px;top:586.9px">Pz</div>
<div class="tl" style="left:596.5px;top:1269.3px">0</div>
<div class="tl" style="left:596.5px;top:1216.67px">0.01</div>
<div class="tl" style="left:596.5px;top:1164.05px">0.02</div>
<div class="tl" style="left:596.5px;top:1111.42px">0.03</div>
<div class="tl" style="left:596.5px;top:1058.8px">0.04</div>
<div class="tl" style="left:596.5px;top:1006.17px">0.05</div>
<div class="tl" style="left:596.5px;top:953.55px">0.06</div>
<div class="tl" style="left:596.5px;top:900.92px">0.07</div>
<div class="tl" style="left:596.5px;top:848.3px">0.08</div>
<div class="tl" style="left:596.5px;top:795.67px">0.09</div>
<div class="rl" style="right:1967.8px;top:775.12px">Fp1</div>
<div class="rl" style="right:1967.8px;top:801.76px">Fp2</div>
<div class="rl" style="right:1967.8px;top:828.39px">F3</div>
<div class="rl" style="right:1967.8px;top:855.03px">F4</div>
<div class="rl" style="right:1967.8px;top:881.67px">C3</div>
<div class="rl" style="right:1967.8px;top:908.3px">C4</div>
<div class="rl" style="right:1967.8px;top:934.94px">P3</div>
<div class="rl" style="right:1967.8px;top:961.58px">P4</div>
<div class="rl" style="right:1967.8px;top:988.21px">O1</div>
<div class="rl" style="right:1967.8px;top:1014.85px">O2</div>
<div class="rl" style="right:1967.8px;top:1041.49px">F7</div>
<div class="rl" style="right:1967.8px;top:1068.12px">F8</div>
<div class="rl" style="right:1967.8px;top:1094.76px">T3</div>
<div class="rl" style="right:1967.8px;top:1121.4px">T4</div>
<div class="rl" style="right:1967.8px;top:1148.03px">T5</div>
<div class="rl" style="right:1967.8px;top:1174.67px">T6</div>
<div class="rl" style="right:1967.8px;top:1201.31px">Fz</div>
<div class="rl" style="right:1967.8px;top:1227.94px">Cz</div>
<div class="rl" style="right:1967.8px;top:1254.58px">Pz</div>
<div class="cl" style="right:1938.39px;top:1284.8px">Fp1</div>
<div class="cl" style="right:1911.37px;top:1284.8px">Fp2</div>
<div class="cl" style="right:1884.35px;top:1284.8px">F3</div>
<div class="cl" style="right:1857.33px;top:1284.8px">F4</div>
<div class="cl" style="right:1830.31px;top:1284.8px">C3</div>
<div class="cl" style="right:1803.28px;top:1284.8px">C4</div>
<div class="cl" style="right:1776.26px;top:1284.8px">P3</div>
<div class="cl" style="right:1749.24px;top:1284.8px">P4</div>
<div class="cl" style="right:1722.22px;top:1284.8px">O1</div>
<div class="cl" style="right:1695.2px;top:1284.8px">O2</div>
<div class="cl" style="right:1668.18px;top:1284.8px">F7</div>
<div class="cl" style="right:1641.16px;top:1284.8px">F8</div>
<div class="cl" style="right:1614.14px;top:1284.8px">T3</div>
<div class="cl" style="right:1587.12px;top:1284.8px">T4</div>
<div class="cl" style="right:1560.09px;top:1284.8px">T5</div>
<div class="cl" style="right:1533.07px;top:1284.8px">T6</div>
<div class="cl" style="right:1506.05px;top:1284.8px">Fz</div>
<div class="cl" style="right:1479.03px;top:1284.8px">Cz</div>
<div class="cl" style="right:1452.01px;top:1284.8px">Pz</div>
<div class="tl" style="left:1280.8px;top:1270.5px">0</div>
<div class="tl" style="left:1280.8px;top:1204.27px">0.01</div>
<div class="tl" style="left:1280.8px;top:1138.04px">0.02</div>
<div class="tl" style="left:1280.8px;top:1071.81px">0.03</div>
<div class="tl" style="left:1280.8px;top:1005.58px">0.04</div>
<div class="tl" style="left:1280.8px;top:939.35px">0.05</div>
<div class="tl" style="left:1280.8px;top:873.12px">0.06</div>
<div class="tl" style="left:1280.8px;top:806.89px">0.07</div>
<div class="rl" style="right:1283px;top:774.1px">Fp1</div>
<div class="rl" style="right:1283px;top:800.89px">Fp2</div>
<div class="rl" style="right:1283px;top:827.69px">F3</div>
<div class="rl" style="right:1283px;top:854.48px">F4</div>
<div class="rl" style="right:1283px;top:881.28px">C3</div>
<div class="rl" style="right:1283px;top:908.07px">C4</div>
<div class="rl" style="right:1283px;top:934.87px">P3</div>
<div class="rl" style="right:1283px;top:961.66px">P4</div>
<div class="rl" style="right:1283px;top:988.46px">O1</div>
<div class="rl" style="right:1283px;top:1015.25px">O2</div>
<div class="rl" style="right:1283px;top:1042.04px">F7</div>
<div class="rl" style="right:1283px;top:1068.84px">F8</div>
<div class="rl" style="right:1283px;top:1095.63px">T3</div>
<div class="rl" style="right:1283px;top:1122.43px">T4</div>
<div class="rl" style="right:1283px;top:1149.22px">T5</div>
<div class="rl" style="right:1283px;top:1176.02px">T6</div>
<div class="rl" style="right:1283px;top:1202.81px">Fz</div>
<div class="rl" style="right:1283px;top:1229.61px">Cz</div>
<div class="rl" style="right:1283px;top:1256.4px">Pz</div>
<div class="cl" style="right:1253.69px;top:1286.7px">Fp1</div>
<div class="cl" style="right:1226.67px;top:1286.7px">Fp2</div>
<div class="cl" style="right:1199.65px;top:1286.7px">F3</div>
<div class="cl" style="right:1172.63px;top:1286.7px">F4</div>
<div class="cl" style="right:1145.61px;top:1286.7px">C3</div>
<div class="cl" style="right:1118.58px;top:1286.7px">C4</div>
<div class="cl" style="right:1091.56px;top:1286.7px">P3</div>
<div class="cl" style="right:1064.54px;top:1286.7px">P4</div>
<div class="cl" style="right:1037.52px;top:1286.7px">O1</div>
<div class="cl" style="right:1010.5px;top:1286.7px">O2</div>
<div class="cl" style="right:983.48px;top:1286.7px">F7</div>
<div class="cl" style="right:956.46px;top:1286.7px">F8</div>
<div class="cl" style="right:929.44px;top:1286.7px">T3</div>
<div class="cl" style="right:902.42px;top:1286.7px">T4</div>
<div class="cl" style="right:875.39px;top:1286.7px">T5</div>
<div class="cl" style="right:848.37px;top:1286.7px">T6</div>
<div class="cl" style="right:821.35px;top:1286.7px">Fz</div>
<div class="cl" style="right:794.33px;top:1286.7px">Cz</div>
<div class="cl" style="right:767.31px;top:1286.7px">Pz</div>
<div class="tl" style="left:1968.3px;top:1267.4px">0</div>
<div class="tl" style="left:1968.3px;top:1201.1px">0.01</div>
<div class="tl" style="left:1968.3px;top:1134.8px">0.02</div>
<div class="tl" style="left:1968.3px;top:1068.5px">0.03</div>
<div class="tl" style="left:1968.3px;top:1002.2px">0.04</div>
<div class="tl" style="left:1968.3px;top:935.9px">0.05</div>
<div class="tl" style="left:1968.3px;top:869.6px">0.06</div>
<div class="tl" style="left:1968.3px;top:803.3px">0.07</div>
<div class="rl" style="right:617px;top:774.31px">Fp1</div>
<div class="rl" style="right:617px;top:800.92px">Fp2</div>
<div class="rl" style="right:617px;top:827.53px">F3</div>
<div class="rl" style="right:617px;top:854.14px">F4</div>
<div class="rl" style="right:617px;top:880.75px">C3</div>
<div class="rl" style="right:617px;top:907.36px">C4</div>
<div class="rl" style="right:617px;top:933.97px">P3</div>
<div class="rl" style="right:617px;top:960.58px">P4</div>
<div class="rl" style="right:617px;top:987.19px">O1</div>
<div class="rl" style="right:617px;top:1013.8px">O2</div>
<div class="rl" style="right:617px;top:1040.41px">F7</div>
<div class="rl" style="right:617px;top:1067.02px">F8</div>
<div class="rl" style="right:617px;top:1093.63px">T3</div>
<div class="rl" style="right:617px;top:1120.24px">T4</div>
<div class="rl" style="right:617px;top:1146.85px">T5</div>
<div class="rl" style="right:617px;top:1173.46px">T6</div>
<div class="rl" style="right:617px;top:1200.07px">Fz</div>
<div class="rl" style="right:617px;top:1226.68px">Cz</div>
<div class="rl" style="right:617px;top:1253.29px">Pz</div>
<div class="cl" style="right:587.47px;top:1283.5px">Fp1</div>
<div class="cl" style="right:559.61px;top:1283.5px">Fp2</div>
<div class="cl" style="right:531.74px;top:1283.5px">F3</div>
<div class="cl" style="right:503.88px;top:1283.5px">F4</div>
<div class="cl" style="right:476.02px;top:1283.5px">C3</div>
<div class="cl" style="right:448.15px;top:1283.5px">C4</div>
<div class="cl" style="right:420.29px;top:1283.5px">P3</div>
<div class="cl" style="right:392.43px;top:1283.5px">P4</div>
<div class="cl" style="right:364.56px;top:1283.5px">O1</div>
<div class="cl" style="right:336.7px;top:1283.5px">O2</div>
<div class="cl" style="right:308.84px;top:1283.5px">F7</div>
<div class="cl" style="right:280.97px;top:1283.5px">F8</div>
<div class="cl" style="right:253.11px;top:1283.5px">T3</div>
<div class="cl" style="right:225.25px;top:1283.5px">T4</div>
<div class="cl" style="right:197.38px;top:1283.5px">T5</div>
<div class="cl" style="right:169.52px;top:1283.5px">T6</div>
<div class="cl" style="right:141.66px;top:1283.5px">Fz</div>
<div class="cl" style="right:113.79px;top:1283.5px">Cz</div>
<div class="cl" style="right:85.93px;top:1283.5px">Pz</div>
<div class="gl" style="left:162px;top:623.8px">Group1</div>
<div class="gl" style="left:846.6px;top:623.8px">Group2</div>
<div class="gl" style="left:1528.7px;top:623.8px">Group3</div>
<div class="gl" style="left:161px;top:1316.8px">Group1</div>
<div class="gl" style="left:846.6px;top:1316.8px">Group2</div>
<div class="gl" style="left:1528.7px;top:1316.8px">Group3</div>
<div class="ti" style="left:493px;top:-1.7px">All Frequency(1-70Hz)</div>
<div class="ti" style="left:518.6px;top:704px">Delta Band(1-4Hz)</div>
</body></html>
